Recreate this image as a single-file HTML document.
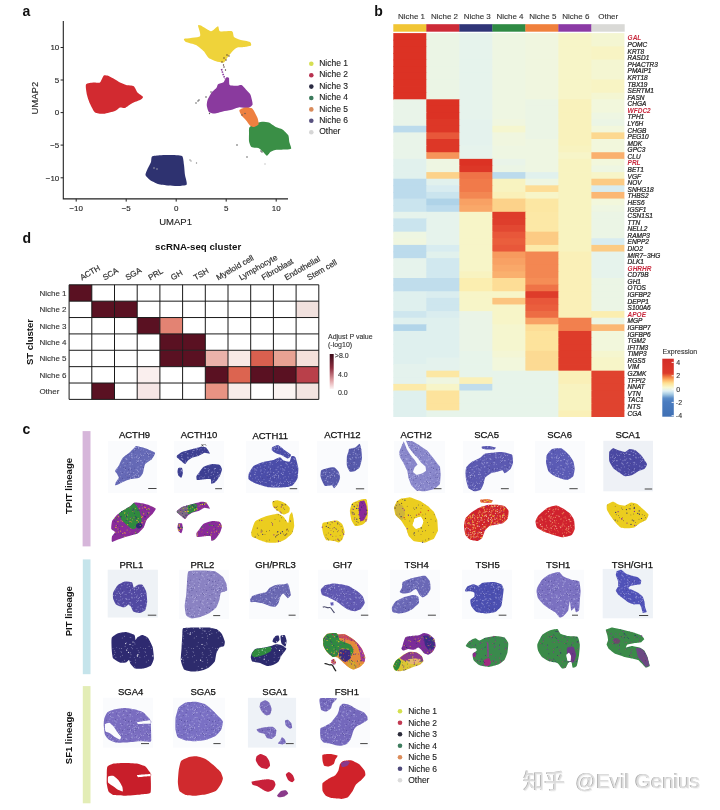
<!DOCTYPE html>
<html><head><meta charset="utf-8"><title>Figure</title>
<style>
html,body{margin:0;padding:0;background:#fff;}
#fig{position:relative;width:720px;height:810px;overflow:hidden;background:#fff;}
svg{position:absolute;left:0;top:0;}
svg text{font-family:'Liberation Sans', Arial, sans-serif;}
</style></head><body>
<div id="fig">
<svg width="720" height="810" viewBox="0 0 720 810">
<text x="22.5" y="15.5" font-size="14" fill="#111" stroke="#111" stroke-width="0.0" text-anchor="start" font-weight="bold" font-style="normal" >a</text>
<path d="M86.0,84.4 C86.7,83.2 92.3,82.7 93.8,82.5 C95.2,82.3 99.0,83.2 100.0,82.5 C101.0,81.8 103.0,76.3 103.8,75.6 C104.5,74.9 106.5,75.3 107.5,75.6 C108.5,75.9 112.5,78.1 113.8,78.8 C115.0,79.4 118.8,81.9 120.0,82.5 C121.2,83.1 124.9,84.6 126.2,85.0 C127.6,85.4 132.6,85.5 133.8,86.2 C134.9,87.0 136.6,91.4 137.5,92.5 C138.4,93.6 142.8,96.2 143.0,96.9 C143.2,97.7 141.1,99.4 140.0,100.0 C138.9,100.6 134.0,102.2 132.5,103.0 C131.0,103.8 126.2,107.5 125.0,108.0 C123.8,108.5 121.0,107.2 120.0,107.5 C119.0,107.8 116.6,110.4 115.0,111.0 C113.4,111.6 105.8,113.6 103.8,113.8 C101.8,113.9 96.4,113.5 95.0,112.5 C93.6,111.5 90.8,105.5 90.0,103.8 C89.2,102.0 87.4,96.9 87.0,95.0 C86.6,93.1 85.3,85.7 86.0,84.4Z" fill="#d22a30"/>
<path d="M152.0,156.5 C152.9,155.8 158.2,155.3 160.0,155.2 C161.8,155.0 167.8,154.9 170.0,155.0 C172.2,155.1 180.6,155.0 182.0,156.0 C183.4,157.0 183.7,163.1 184.0,165.0 C184.3,166.9 184.7,173.1 185.0,175.0 C185.3,176.9 187.4,183.4 186.7,184.5 C186.0,185.6 179.9,185.9 178.0,186.0 C176.1,186.1 170.0,185.7 168.0,185.5 C166.0,185.3 159.8,184.6 158.0,184.0 C156.2,183.4 151.2,180.9 150.0,180.0 C148.8,179.1 145.7,176.2 145.5,175.0 C145.3,173.8 147.4,169.3 148.0,168.0 C148.6,166.7 150.6,163.2 151.0,162.0 C151.4,160.8 151.1,157.2 152.0,156.5Z" fill="#2e3270"/>
<path d="M184.4,38.8 C185.8,38.2 198.6,37.6 200.0,36.2 C201.4,34.9 197.9,26.7 198.0,25.6 C198.1,24.5 199.7,25.0 201.0,25.6 C202.3,26.2 209.3,31.2 211.0,31.2 C212.7,31.3 217.1,26.2 218.0,26.2 C218.9,26.2 218.6,30.8 220.0,31.2 C221.4,31.8 230.6,30.7 232.0,31.2 C233.4,31.8 233.2,36.1 234.0,37.0 C234.8,37.9 238.4,39.3 240.0,39.8 C241.6,40.3 248.9,41.4 250.0,42.0 C251.1,42.6 251.5,45.1 251.0,45.6 C250.5,46.1 246.3,46.8 245.0,47.0 C243.7,47.2 238.8,47.1 237.5,47.5 C236.2,47.9 233.5,50.2 232.5,51.2 C231.5,52.2 228.4,56.4 227.5,57.5 C226.6,58.6 224.9,62.1 223.8,62.5 C222.6,62.9 217.5,61.7 216.0,61.2 C214.5,60.8 210.0,59.0 208.8,58.0 C207.5,57.0 205.0,52.5 203.8,51.2 C202.5,50.0 197.8,45.9 196.0,45.0 C194.2,44.1 187.2,42.6 186.0,42.0 C184.8,41.4 183.0,39.3 184.4,38.8Z" fill="#efd33a"/>
<path d="M207.5,100.3 C208.0,99.0 210.8,93.8 211.7,92.6 C212.6,91.3 215.9,88.6 216.5,87.8 C217.1,87.0 217.3,84.9 218.0,84.3 C218.7,83.7 222.7,82.9 223.5,82.2 C224.3,81.5 225.7,77.8 226.2,77.4 C226.8,77.0 228.7,77.2 229.0,78.0 C229.3,78.8 228.9,84.2 229.7,85.0 C230.5,85.8 235.5,85.7 236.7,85.7 C237.9,85.7 240.5,84.6 241.5,85.0 C242.5,85.4 245.5,88.9 246.4,89.9 C247.3,90.9 249.9,93.2 250.5,94.7 C251.1,96.2 252.9,103.1 252.6,104.4 C252.3,105.7 249.1,107.7 247.8,108.0 C246.5,108.3 241.1,107.0 239.4,107.2 C237.7,107.4 232.7,109.6 231.0,110.0 C229.3,110.4 224.5,111.1 222.8,111.4 C221.1,111.8 215.8,113.4 214.4,113.5 C213.0,113.6 209.7,112.8 208.9,112.0 C208.1,111.2 206.9,107.0 206.8,105.8 C206.7,104.6 207.0,101.6 207.5,100.3Z" fill="#8a3a9e"/>
<path d="M249.4,127.5 C250.0,126.5 254.0,124.2 255.3,123.6 C256.6,123.0 260.6,121.8 262.0,121.7 C263.4,121.6 267.5,122.1 268.9,122.6 C270.3,123.1 274.3,126.3 275.7,127.0 C277.1,127.7 281.2,128.6 282.5,129.4 C283.8,130.2 287.6,134.0 288.3,135.3 C289.0,136.6 289.0,140.7 289.3,142.0 C289.6,143.3 291.5,147.7 291.2,148.4 C290.9,149.1 287.9,149.3 286.4,149.4 C284.9,149.5 278.2,149.6 276.6,149.8 C275.0,150.0 271.8,151.2 270.8,151.8 C269.8,152.4 267.7,155.7 266.9,155.7 C266.1,155.7 263.8,152.5 263.0,151.8 C262.2,151.1 260.4,148.9 259.2,148.4 C258.0,147.9 252.4,147.7 251.4,147.0 C250.4,146.3 249.2,142.5 249.0,141.1 C248.8,139.7 249.0,134.7 249.0,133.3 C249.0,131.9 248.8,128.5 249.4,127.5Z" fill="#3a8f46"/>
<path d="M239.4,110.2 C239.8,109.4 243.7,107.8 245.0,107.6 C246.3,107.4 251.0,107.7 252.0,108.3 C253.0,108.9 254.6,112.2 255.2,113.2 C255.8,114.2 257.5,117.6 257.8,118.7 C258.1,119.8 258.9,123.7 258.5,124.5 C258.1,125.3 254.9,126.9 254.0,127.0 C253.1,127.1 250.7,126.0 249.9,125.4 C249.1,124.8 247.2,121.7 246.4,120.7 C245.6,119.7 242.2,116.6 241.5,115.6 C240.8,114.5 239.1,111.0 239.4,110.2Z" fill="#ee8040"/>
<path d="M221.5,69 L223,74 L225,79" stroke="#8a3a9e" stroke-width="1.6" fill="none" stroke-dasharray="1.5,1"/>
<circle cx="224" cy="58" r="0.7" fill="#4a3030"/>
<circle cx="226" cy="60" r="0.7" fill="#4a3030"/>
<circle cx="227" cy="55" r="0.7" fill="#4a3030"/>
<circle cx="229" cy="56" r="0.7" fill="#4a3030"/>
<circle cx="222" cy="62" r="0.7" fill="#4a3030"/>
<circle cx="223.5" cy="65" r="0.7" fill="#4a3030"/>
<circle cx="224" cy="67" r="0.7" fill="#4a3030"/>
<circle cx="225.5" cy="70" r="0.7" fill="#4a3030"/>
<circle cx="211" cy="92" r="0.7" fill="#444"/>
<circle cx="206" cy="97" r="0.7" fill="#333"/>
<circle cx="199" cy="100" r="0.7" fill="#444"/>
<circle cx="198" cy="101" r="0.7" fill="#444"/>
<circle cx="196" cy="103" r="0.7" fill="#444"/>
<circle cx="247" cy="157" r="0.7" fill="#444"/>
<circle cx="237" cy="145" r="0.7" fill="#333"/>
<circle cx="261" cy="151" r="0.7" fill="#333"/>
<circle cx="262" cy="152" r="0.7" fill="#444"/>
<circle cx="209.5" cy="113.5" r="0.7" fill="#555"/>
<circle cx="154" cy="168" r="0.7" fill="#bbb"/>
<circle cx="157" cy="169" r="0.7" fill="#bbb"/>
<circle cx="190" cy="160" r="0.7" fill="#888"/>
<circle cx="191" cy="161" r="0.7" fill="#999"/>
<circle cx="196.5" cy="163" r="0.7" fill="#888"/>
<circle cx="265" cy="164" r="0.7" fill="#bbb"/>
<circle cx="245" cy="113.5" r="0.7" fill="#555"/>
<circle cx="242" cy="115" r="0.7" fill="#555"/>
<path d="M63.3,21 V198.9 H288" stroke="#222" stroke-width="1.1" fill="none"/>
<line x1="60.6" y1="47.5" x2="63.3" y2="47.5" stroke="#222" stroke-width="1"/>
<text x="59.3" y="50.3" font-size="8" fill="#222" stroke="#222" stroke-width="0.12" text-anchor="end" font-weight="normal" font-style="normal" >10</text>
<line x1="60.6" y1="80.0" x2="63.3" y2="80.0" stroke="#222" stroke-width="1"/>
<text x="59.3" y="82.8" font-size="8" fill="#222" stroke="#222" stroke-width="0.12" text-anchor="end" font-weight="normal" font-style="normal" >5</text>
<line x1="60.6" y1="112.6" x2="63.3" y2="112.6" stroke="#222" stroke-width="1"/>
<text x="59.3" y="115.4" font-size="8" fill="#222" stroke="#222" stroke-width="0.12" text-anchor="end" font-weight="normal" font-style="normal" >0</text>
<line x1="60.6" y1="145.1" x2="63.3" y2="145.1" stroke="#222" stroke-width="1"/>
<text x="59.3" y="147.9" font-size="8" fill="#222" stroke="#222" stroke-width="0.12" text-anchor="end" font-weight="normal" font-style="normal" >−5</text>
<line x1="60.6" y1="177.8" x2="63.3" y2="177.8" stroke="#222" stroke-width="1"/>
<text x="59.3" y="180.6" font-size="8" fill="#222" stroke="#222" stroke-width="0.12" text-anchor="end" font-weight="normal" font-style="normal" >−10</text>
<line x1="76.2" y1="198.9" x2="76.2" y2="201.6" stroke="#222" stroke-width="1"/>
<text x="76.2" y="211.0" font-size="8" fill="#222" stroke="#222" stroke-width="0.12" text-anchor="middle" font-weight="normal" font-style="normal" >−10</text>
<line x1="126.2" y1="198.9" x2="126.2" y2="201.6" stroke="#222" stroke-width="1"/>
<text x="126.2" y="211.0" font-size="8" fill="#222" stroke="#222" stroke-width="0.12" text-anchor="middle" font-weight="normal" font-style="normal" >−5</text>
<line x1="176.2" y1="198.9" x2="176.2" y2="201.6" stroke="#222" stroke-width="1"/>
<text x="176.2" y="211.0" font-size="8" fill="#222" stroke="#222" stroke-width="0.12" text-anchor="middle" font-weight="normal" font-style="normal" >0</text>
<line x1="226.2" y1="198.9" x2="226.2" y2="201.6" stroke="#222" stroke-width="1"/>
<text x="226.2" y="211.0" font-size="8" fill="#222" stroke="#222" stroke-width="0.12" text-anchor="middle" font-weight="normal" font-style="normal" >5</text>
<line x1="276.2" y1="198.9" x2="276.2" y2="201.6" stroke="#222" stroke-width="1"/>
<text x="276.2" y="211.0" font-size="8" fill="#222" stroke="#222" stroke-width="0.12" text-anchor="middle" font-weight="normal" font-style="normal" >10</text>
<text x="175.6" y="224.8" font-size="9.5" fill="#222" stroke="#222" stroke-width="0.12" text-anchor="middle" font-weight="normal" font-style="normal" >UMAP1</text>
<text x="0.0" y="0.0" font-size="9.5" fill="#222" stroke="#222" stroke-width="0.12" text-anchor="middle" font-weight="normal" font-style="normal" transform="translate(38.4,98.2) rotate(-90)">UMAP2</text>
<circle cx="311.3" cy="63.8" r="2.3" fill="#d6df52"/>
<text x="319.2" y="65.9" font-size="8.5" fill="#222" stroke="#222" stroke-width="0.12" text-anchor="start" font-weight="normal" font-style="normal" >Niche 1</text>
<circle cx="311.3" cy="75.2" r="2.3" fill="#b83250"/>
<text x="319.2" y="77.3" font-size="8.5" fill="#222" stroke="#222" stroke-width="0.12" text-anchor="start" font-weight="normal" font-style="normal" >Niche 2</text>
<circle cx="311.3" cy="86.6" r="2.3" fill="#2a2a42"/>
<text x="319.2" y="88.7" font-size="8.5" fill="#222" stroke="#222" stroke-width="0.12" text-anchor="start" font-weight="normal" font-style="normal" >Niche 3</text>
<circle cx="311.3" cy="98.0" r="2.3" fill="#3b7a5c"/>
<text x="319.2" y="100.1" font-size="8.5" fill="#222" stroke="#222" stroke-width="0.12" text-anchor="start" font-weight="normal" font-style="normal" >Niche 4</text>
<circle cx="311.3" cy="109.4" r="2.3" fill="#d98b5b"/>
<text x="319.2" y="111.5" font-size="8.5" fill="#222" stroke="#222" stroke-width="0.12" text-anchor="start" font-weight="normal" font-style="normal" >Niche 5</text>
<circle cx="311.3" cy="120.8" r="2.3" fill="#58517f"/>
<text x="319.2" y="122.9" font-size="8.5" fill="#222" stroke="#222" stroke-width="0.12" text-anchor="start" font-weight="normal" font-style="normal" >Niche 6</text>
<circle cx="311.3" cy="132.2" r="2.3" fill="#d6d6d6"/>
<text x="319.2" y="134.3" font-size="8.5" fill="#222" stroke="#222" stroke-width="0.12" text-anchor="start" font-weight="normal" font-style="normal" >Other</text>
<text x="374.2" y="15.8" font-size="14" fill="#111" stroke="#111" stroke-width="0.0" text-anchor="start" font-weight="bold" font-style="normal" >b</text>
<text x="411.5" y="18.8" font-size="8" fill="#333" stroke="#333" stroke-width="0.12" text-anchor="middle" font-weight="normal" font-style="normal" >Niche 1</text>
<text x="444.5" y="18.8" font-size="8" fill="#333" stroke="#333" stroke-width="0.12" text-anchor="middle" font-weight="normal" font-style="normal" >Niche 2</text>
<text x="477.2" y="18.8" font-size="8" fill="#333" stroke="#333" stroke-width="0.12" text-anchor="middle" font-weight="normal" font-style="normal" >Niche 3</text>
<text x="510.0" y="18.8" font-size="8" fill="#333" stroke="#333" stroke-width="0.12" text-anchor="middle" font-weight="normal" font-style="normal" >Niche 4</text>
<text x="542.8" y="18.8" font-size="8" fill="#333" stroke="#333" stroke-width="0.12" text-anchor="middle" font-weight="normal" font-style="normal" >Niche 5</text>
<text x="575.8" y="18.8" font-size="8" fill="#333" stroke="#333" stroke-width="0.12" text-anchor="middle" font-weight="normal" font-style="normal" >Niche 6</text>
<text x="608.2" y="18.8" font-size="8" fill="#333" stroke="#333" stroke-width="0.12" text-anchor="middle" font-weight="normal" font-style="normal" >Other</text>
<rect x="393.30" y="24.2" width="33.31" height="7.5" fill="#f1c534"/>
<rect x="426.31" y="24.2" width="33.31" height="7.5" fill="#cd2b37"/>
<rect x="459.33" y="24.2" width="33.31" height="7.5" fill="#2f3477"/>
<rect x="492.34" y="24.2" width="33.31" height="7.5" fill="#2f8a44"/>
<rect x="525.36" y="24.2" width="33.31" height="7.5" fill="#f0803c"/>
<rect x="558.37" y="24.2" width="33.31" height="7.5" fill="#8b3aa5"/>
<rect x="591.39" y="24.2" width="33.31" height="7.5" fill="#d9d9d6"/>
<rect x="393.30" y="33.10" width="33.81" height="7.42" fill="#dc3224"/>
<rect x="426.31" y="33.10" width="33.81" height="7.42" fill="#ebf5e5"/>
<rect x="459.33" y="33.10" width="33.81" height="7.42" fill="#e6f3ec"/>
<rect x="492.34" y="33.10" width="33.81" height="7.42" fill="#eef6e2"/>
<rect x="525.36" y="33.10" width="33.81" height="7.42" fill="#f0f6df"/>
<rect x="558.37" y="33.10" width="33.81" height="7.42" fill="#f7f5c8"/>
<rect x="591.39" y="33.10" width="33.01" height="7.42" fill="#f4f6d2"/>
<rect x="393.30" y="39.72" width="33.81" height="7.42" fill="#dc3224"/>
<rect x="426.31" y="39.72" width="33.81" height="7.42" fill="#ebf5e5"/>
<rect x="459.33" y="39.72" width="33.81" height="7.42" fill="#e6f3ec"/>
<rect x="492.34" y="39.72" width="33.81" height="7.42" fill="#eef6e2"/>
<rect x="525.36" y="39.72" width="33.81" height="7.42" fill="#f0f6df"/>
<rect x="558.37" y="39.72" width="33.81" height="7.42" fill="#f7f5c8"/>
<rect x="591.39" y="39.72" width="33.01" height="7.42" fill="#f4f6d2"/>
<rect x="393.30" y="46.34" width="33.81" height="7.42" fill="#dc3224"/>
<rect x="426.31" y="46.34" width="33.81" height="7.42" fill="#ebf5e5"/>
<rect x="459.33" y="46.34" width="33.81" height="7.42" fill="#e6f3ec"/>
<rect x="492.34" y="46.34" width="33.81" height="7.42" fill="#eef6e2"/>
<rect x="525.36" y="46.34" width="33.81" height="7.42" fill="#f0f6df"/>
<rect x="558.37" y="46.34" width="33.81" height="7.42" fill="#f7f5c8"/>
<rect x="591.39" y="46.34" width="33.01" height="7.42" fill="#f8f4c4"/>
<rect x="393.30" y="52.96" width="33.81" height="7.42" fill="#dc3224"/>
<rect x="426.31" y="52.96" width="33.81" height="7.42" fill="#ebf5e5"/>
<rect x="459.33" y="52.96" width="33.81" height="7.42" fill="#e6f3ec"/>
<rect x="492.34" y="52.96" width="33.81" height="7.42" fill="#eef6e2"/>
<rect x="525.36" y="52.96" width="33.81" height="7.42" fill="#f0f6df"/>
<rect x="558.37" y="52.96" width="33.81" height="7.42" fill="#f7f5c8"/>
<rect x="591.39" y="52.96" width="33.01" height="7.42" fill="#f8f4c4"/>
<rect x="393.30" y="59.58" width="33.81" height="7.42" fill="#dc3224"/>
<rect x="426.31" y="59.58" width="33.81" height="7.42" fill="#ebf5e5"/>
<rect x="459.33" y="59.58" width="33.81" height="7.42" fill="#e6f3ec"/>
<rect x="492.34" y="59.58" width="33.81" height="7.42" fill="#eef6e2"/>
<rect x="525.36" y="59.58" width="33.81" height="7.42" fill="#f0f6df"/>
<rect x="558.37" y="59.58" width="33.81" height="7.42" fill="#f7f5c8"/>
<rect x="591.39" y="59.58" width="33.01" height="7.42" fill="#f4f6d2"/>
<rect x="393.30" y="66.19" width="33.81" height="7.42" fill="#dc3224"/>
<rect x="426.31" y="66.19" width="33.81" height="7.42" fill="#ebf5e5"/>
<rect x="459.33" y="66.19" width="33.81" height="7.42" fill="#e6f3ec"/>
<rect x="492.34" y="66.19" width="33.81" height="7.42" fill="#eef6e2"/>
<rect x="525.36" y="66.19" width="33.81" height="7.42" fill="#f0f6df"/>
<rect x="558.37" y="66.19" width="33.81" height="7.42" fill="#f7f5c8"/>
<rect x="591.39" y="66.19" width="33.01" height="7.42" fill="#f4f6d2"/>
<rect x="393.30" y="72.81" width="33.81" height="7.42" fill="#dc3224"/>
<rect x="426.31" y="72.81" width="33.81" height="7.42" fill="#ebf5e5"/>
<rect x="459.33" y="72.81" width="33.81" height="7.42" fill="#e6f3ec"/>
<rect x="492.34" y="72.81" width="33.81" height="7.42" fill="#eef6e2"/>
<rect x="525.36" y="72.81" width="33.81" height="7.42" fill="#f0f6df"/>
<rect x="558.37" y="72.81" width="33.81" height="7.42" fill="#f7f5c8"/>
<rect x="591.39" y="72.81" width="33.01" height="7.42" fill="#f4f6d2"/>
<rect x="393.30" y="79.43" width="33.81" height="7.42" fill="#dc3224"/>
<rect x="426.31" y="79.43" width="33.81" height="7.42" fill="#ebf5e5"/>
<rect x="459.33" y="79.43" width="33.81" height="7.42" fill="#e6f3ec"/>
<rect x="492.34" y="79.43" width="33.81" height="7.42" fill="#eef6e2"/>
<rect x="525.36" y="79.43" width="33.81" height="7.42" fill="#f0f6df"/>
<rect x="558.37" y="79.43" width="33.81" height="7.42" fill="#f7f5c8"/>
<rect x="591.39" y="79.43" width="33.01" height="7.42" fill="#f8f4c4"/>
<rect x="393.30" y="86.05" width="33.81" height="7.42" fill="#dc3224"/>
<rect x="426.31" y="86.05" width="33.81" height="7.42" fill="#ebf5e5"/>
<rect x="459.33" y="86.05" width="33.81" height="7.42" fill="#e6f3ec"/>
<rect x="492.34" y="86.05" width="33.81" height="7.42" fill="#eef6e2"/>
<rect x="525.36" y="86.05" width="33.81" height="7.42" fill="#f0f6df"/>
<rect x="558.37" y="86.05" width="33.81" height="7.42" fill="#f7f5c8"/>
<rect x="591.39" y="86.05" width="33.01" height="7.42" fill="#f8f4c4"/>
<rect x="393.30" y="92.67" width="33.81" height="7.42" fill="#dc3224"/>
<rect x="426.31" y="92.67" width="33.81" height="7.42" fill="#ebf5e5"/>
<rect x="459.33" y="92.67" width="33.81" height="7.42" fill="#e6f3ec"/>
<rect x="492.34" y="92.67" width="33.81" height="7.42" fill="#eef6e2"/>
<rect x="525.36" y="92.67" width="33.81" height="7.42" fill="#f0f6df"/>
<rect x="558.37" y="92.67" width="33.81" height="7.42" fill="#f7f5c8"/>
<rect x="591.39" y="92.67" width="33.01" height="7.42" fill="#f4f6d2"/>
<rect x="393.30" y="99.29" width="33.81" height="7.42" fill="#e9f4e9"/>
<rect x="426.31" y="99.29" width="33.81" height="7.42" fill="#dc3224"/>
<rect x="459.33" y="99.29" width="33.81" height="7.42" fill="#e6f3ec"/>
<rect x="492.34" y="99.29" width="33.81" height="7.42" fill="#eef6e2"/>
<rect x="525.36" y="99.29" width="33.81" height="7.42" fill="#ebf5e5"/>
<rect x="558.37" y="99.29" width="33.81" height="7.42" fill="#f9f2bc"/>
<rect x="591.39" y="99.29" width="33.01" height="7.42" fill="#f2f7dc"/>
<rect x="393.30" y="105.91" width="33.81" height="7.42" fill="#e9f4e9"/>
<rect x="426.31" y="105.91" width="33.81" height="7.42" fill="#dc3224"/>
<rect x="459.33" y="105.91" width="33.81" height="7.42" fill="#e6f3ec"/>
<rect x="492.34" y="105.91" width="33.81" height="7.42" fill="#eef6e2"/>
<rect x="525.36" y="105.91" width="33.81" height="7.42" fill="#ebf5e5"/>
<rect x="558.37" y="105.91" width="33.81" height="7.42" fill="#f9f2bc"/>
<rect x="591.39" y="105.91" width="33.01" height="7.42" fill="#f2f7dc"/>
<rect x="393.30" y="112.53" width="33.81" height="7.42" fill="#e9f4e9"/>
<rect x="426.31" y="112.53" width="33.81" height="7.42" fill="#dc3224"/>
<rect x="459.33" y="112.53" width="33.81" height="7.42" fill="#e6f3ec"/>
<rect x="492.34" y="112.53" width="33.81" height="7.42" fill="#eef6e2"/>
<rect x="525.36" y="112.53" width="33.81" height="7.42" fill="#ebf5e5"/>
<rect x="558.37" y="112.53" width="33.81" height="7.42" fill="#f9f2bc"/>
<rect x="591.39" y="112.53" width="33.01" height="7.42" fill="#eef6e2"/>
<rect x="393.30" y="119.15" width="33.81" height="7.42" fill="#e9f4e9"/>
<rect x="426.31" y="119.15" width="33.81" height="7.42" fill="#dd3727"/>
<rect x="459.33" y="119.15" width="33.81" height="7.42" fill="#e4f2ed"/>
<rect x="492.34" y="119.15" width="33.81" height="7.42" fill="#f0f6df"/>
<rect x="525.36" y="119.15" width="33.81" height="7.42" fill="#ebf5e5"/>
<rect x="558.37" y="119.15" width="33.81" height="7.42" fill="#f9f2bc"/>
<rect x="591.39" y="119.15" width="33.01" height="7.42" fill="#ebf5e5"/>
<rect x="393.30" y="125.77" width="33.81" height="7.42" fill="#bcdbec"/>
<rect x="426.31" y="125.77" width="33.81" height="7.42" fill="#dd3727"/>
<rect x="459.33" y="125.77" width="33.81" height="7.42" fill="#e4f2ed"/>
<rect x="492.34" y="125.77" width="33.81" height="7.42" fill="#f5f6cf"/>
<rect x="525.36" y="125.77" width="33.81" height="7.42" fill="#ebf5e5"/>
<rect x="558.37" y="125.77" width="33.81" height="7.42" fill="#f9f2bc"/>
<rect x="591.39" y="125.77" width="33.01" height="7.42" fill="#f2f7dc"/>
<rect x="393.30" y="132.38" width="33.81" height="7.42" fill="#e9f4e9"/>
<rect x="426.31" y="132.38" width="33.81" height="7.42" fill="#e8573a"/>
<rect x="459.33" y="132.38" width="33.81" height="7.42" fill="#e4f2ed"/>
<rect x="492.34" y="132.38" width="33.81" height="7.42" fill="#f0f6df"/>
<rect x="525.36" y="132.38" width="33.81" height="7.42" fill="#ebf5e5"/>
<rect x="558.37" y="132.38" width="33.81" height="7.42" fill="#f9f2bc"/>
<rect x="591.39" y="132.38" width="33.01" height="7.42" fill="#fcd890"/>
<rect x="393.30" y="139.00" width="33.81" height="7.42" fill="#e9f4e9"/>
<rect x="426.31" y="139.00" width="33.81" height="7.42" fill="#dd3727"/>
<rect x="459.33" y="139.00" width="33.81" height="7.42" fill="#e4f2ed"/>
<rect x="492.34" y="139.00" width="33.81" height="7.42" fill="#f0f6df"/>
<rect x="525.36" y="139.00" width="33.81" height="7.42" fill="#eef6e2"/>
<rect x="558.37" y="139.00" width="33.81" height="7.42" fill="#f9f2bc"/>
<rect x="591.39" y="139.00" width="33.01" height="7.42" fill="#f2f7dc"/>
<rect x="393.30" y="145.62" width="33.81" height="7.42" fill="#e9f4e9"/>
<rect x="426.31" y="145.62" width="33.81" height="7.42" fill="#dd3727"/>
<rect x="459.33" y="145.62" width="33.81" height="7.42" fill="#e6f3ec"/>
<rect x="492.34" y="145.62" width="33.81" height="7.42" fill="#eef6e2"/>
<rect x="525.36" y="145.62" width="33.81" height="7.42" fill="#eef6e2"/>
<rect x="558.37" y="145.62" width="33.81" height="7.42" fill="#f8f3c0"/>
<rect x="591.39" y="145.62" width="33.01" height="7.42" fill="#f2f7dc"/>
<rect x="393.30" y="152.24" width="33.81" height="7.42" fill="#e9f4e9"/>
<rect x="426.31" y="152.24" width="33.81" height="7.42" fill="#f6945a"/>
<rect x="459.33" y="152.24" width="33.81" height="7.42" fill="#e6f3ec"/>
<rect x="492.34" y="152.24" width="33.81" height="7.42" fill="#eef6e2"/>
<rect x="525.36" y="152.24" width="33.81" height="7.42" fill="#eef6e2"/>
<rect x="558.37" y="152.24" width="33.81" height="7.42" fill="#f7f5c8"/>
<rect x="591.39" y="152.24" width="33.01" height="7.42" fill="#fab06e"/>
<rect x="393.30" y="158.86" width="33.81" height="7.42" fill="#e1f1ed"/>
<rect x="426.31" y="158.86" width="33.81" height="7.42" fill="#eef6e2"/>
<rect x="459.33" y="158.86" width="33.81" height="7.42" fill="#dc3224"/>
<rect x="492.34" y="158.86" width="33.81" height="7.42" fill="#e9f4e9"/>
<rect x="525.36" y="158.86" width="33.81" height="7.42" fill="#eef6e2"/>
<rect x="558.37" y="158.86" width="33.81" height="7.42" fill="#f8f3c0"/>
<rect x="591.39" y="158.86" width="33.01" height="7.42" fill="#f2f7dc"/>
<rect x="393.30" y="165.48" width="33.81" height="7.42" fill="#e1f1ed"/>
<rect x="426.31" y="165.48" width="33.81" height="7.42" fill="#eef6e2"/>
<rect x="459.33" y="165.48" width="33.81" height="7.42" fill="#dd3727"/>
<rect x="492.34" y="165.48" width="33.81" height="7.42" fill="#ebf5e5"/>
<rect x="525.36" y="165.48" width="33.81" height="7.42" fill="#eef6e2"/>
<rect x="558.37" y="165.48" width="33.81" height="7.42" fill="#f8f3c0"/>
<rect x="591.39" y="165.48" width="33.01" height="7.42" fill="#eef6e2"/>
<rect x="393.30" y="172.10" width="33.81" height="7.42" fill="#e1f1ed"/>
<rect x="426.31" y="172.10" width="33.81" height="7.42" fill="#fcd28a"/>
<rect x="459.33" y="172.10" width="33.81" height="7.42" fill="#ef7347"/>
<rect x="492.34" y="172.10" width="33.81" height="7.42" fill="#bcdbec"/>
<rect x="525.36" y="172.10" width="33.81" height="7.42" fill="#e1f1ed"/>
<rect x="558.37" y="172.10" width="33.81" height="7.42" fill="#f8f3c0"/>
<rect x="591.39" y="172.10" width="33.01" height="7.42" fill="#f7f5c8"/>
<rect x="393.30" y="178.72" width="33.81" height="7.42" fill="#bcdbec"/>
<rect x="426.31" y="178.72" width="33.81" height="7.42" fill="#e1f1ed"/>
<rect x="459.33" y="178.72" width="33.81" height="7.42" fill="#f17a4a"/>
<rect x="492.34" y="178.72" width="33.81" height="7.42" fill="#f8f3c0"/>
<rect x="525.36" y="178.72" width="33.81" height="7.42" fill="#eef6e2"/>
<rect x="558.37" y="178.72" width="33.81" height="7.42" fill="#f8f3c0"/>
<rect x="591.39" y="178.72" width="33.01" height="7.42" fill="#fccb84"/>
<rect x="393.30" y="185.34" width="33.81" height="7.42" fill="#bcdbec"/>
<rect x="426.31" y="185.34" width="33.81" height="7.42" fill="#d8ecf0"/>
<rect x="459.33" y="185.34" width="33.81" height="7.42" fill="#f17a4a"/>
<rect x="492.34" y="185.34" width="33.81" height="7.42" fill="#f8f3c0"/>
<rect x="525.36" y="185.34" width="33.81" height="7.42" fill="#fddd96"/>
<rect x="558.37" y="185.34" width="33.81" height="7.42" fill="#f8f3c0"/>
<rect x="591.39" y="185.34" width="33.01" height="7.42" fill="#d8ecf0"/>
<rect x="393.30" y="191.96" width="33.81" height="7.42" fill="#bcdbec"/>
<rect x="426.31" y="191.96" width="33.81" height="7.42" fill="#cae4ee"/>
<rect x="459.33" y="191.96" width="33.81" height="7.42" fill="#f38752"/>
<rect x="492.34" y="191.96" width="33.81" height="7.42" fill="#faf0b8"/>
<rect x="525.36" y="191.96" width="33.81" height="7.42" fill="#f7f5c8"/>
<rect x="558.37" y="191.96" width="33.81" height="7.42" fill="#f8f3c0"/>
<rect x="591.39" y="191.96" width="33.01" height="7.42" fill="#fbb774"/>
<rect x="393.30" y="198.57" width="33.81" height="7.42" fill="#cae4ee"/>
<rect x="426.31" y="198.57" width="33.81" height="7.42" fill="#afd3e8"/>
<rect x="459.33" y="198.57" width="33.81" height="7.42" fill="#f8a164"/>
<rect x="492.34" y="198.57" width="33.81" height="7.42" fill="#fcd28a"/>
<rect x="525.36" y="198.57" width="33.81" height="7.42" fill="#fce7a3"/>
<rect x="558.37" y="198.57" width="33.81" height="7.42" fill="#f8f3c0"/>
<rect x="591.39" y="198.57" width="33.01" height="7.42" fill="#f2f7dc"/>
<rect x="393.30" y="205.19" width="33.81" height="7.42" fill="#cae4ee"/>
<rect x="426.31" y="205.19" width="33.81" height="7.42" fill="#bcdbec"/>
<rect x="459.33" y="205.19" width="33.81" height="7.42" fill="#f9a869"/>
<rect x="492.34" y="205.19" width="33.81" height="7.42" fill="#fcd28a"/>
<rect x="525.36" y="205.19" width="33.81" height="7.42" fill="#fce7a3"/>
<rect x="558.37" y="205.19" width="33.81" height="7.42" fill="#f8f3c0"/>
<rect x="591.39" y="205.19" width="33.01" height="7.42" fill="#eef6e2"/>
<rect x="393.30" y="211.81" width="33.81" height="7.42" fill="#e6f3ec"/>
<rect x="426.31" y="211.81" width="33.81" height="7.42" fill="#e6f3ec"/>
<rect x="459.33" y="211.81" width="33.81" height="7.42" fill="#f7f5c8"/>
<rect x="492.34" y="211.81" width="33.81" height="7.42" fill="#de3c2a"/>
<rect x="525.36" y="211.81" width="33.81" height="7.42" fill="#fce8a6"/>
<rect x="558.37" y="211.81" width="33.81" height="7.42" fill="#f8f3c0"/>
<rect x="591.39" y="211.81" width="33.01" height="7.42" fill="#ebf5e5"/>
<rect x="393.30" y="218.43" width="33.81" height="7.42" fill="#cae4ee"/>
<rect x="426.31" y="218.43" width="33.81" height="7.42" fill="#e6f3ec"/>
<rect x="459.33" y="218.43" width="33.81" height="7.42" fill="#f7f5c8"/>
<rect x="492.34" y="218.43" width="33.81" height="7.42" fill="#de3e2c"/>
<rect x="525.36" y="218.43" width="33.81" height="7.42" fill="#fce8a6"/>
<rect x="558.37" y="218.43" width="33.81" height="7.42" fill="#f8f3c0"/>
<rect x="591.39" y="218.43" width="33.01" height="7.42" fill="#ebf5e5"/>
<rect x="393.30" y="225.05" width="33.81" height="7.42" fill="#cae4ee"/>
<rect x="426.31" y="225.05" width="33.81" height="7.42" fill="#e6f3ec"/>
<rect x="459.33" y="225.05" width="33.81" height="7.42" fill="#f7f5c8"/>
<rect x="492.34" y="225.05" width="33.81" height="7.42" fill="#e24832"/>
<rect x="525.36" y="225.05" width="33.81" height="7.42" fill="#fce8a6"/>
<rect x="558.37" y="225.05" width="33.81" height="7.42" fill="#f8f3c0"/>
<rect x="591.39" y="225.05" width="33.01" height="7.42" fill="#ebf5e5"/>
<rect x="393.30" y="231.67" width="33.81" height="7.42" fill="#eef6e2"/>
<rect x="426.31" y="231.67" width="33.81" height="7.42" fill="#e6f3ec"/>
<rect x="459.33" y="231.67" width="33.81" height="7.42" fill="#f7f5c8"/>
<rect x="492.34" y="231.67" width="33.81" height="7.42" fill="#e8573a"/>
<rect x="525.36" y="231.67" width="33.81" height="7.42" fill="#fccb84"/>
<rect x="558.37" y="231.67" width="33.81" height="7.42" fill="#f8f3c0"/>
<rect x="591.39" y="231.67" width="33.01" height="7.42" fill="#ebf5e5"/>
<rect x="393.30" y="238.29" width="33.81" height="7.42" fill="#f0f6df"/>
<rect x="426.31" y="238.29" width="33.81" height="7.42" fill="#e6f3ec"/>
<rect x="459.33" y="238.29" width="33.81" height="7.42" fill="#f7f5c8"/>
<rect x="492.34" y="238.29" width="33.81" height="7.42" fill="#ea5e3d"/>
<rect x="525.36" y="238.29" width="33.81" height="7.42" fill="#fccb84"/>
<rect x="558.37" y="238.29" width="33.81" height="7.42" fill="#f8f3c0"/>
<rect x="591.39" y="238.29" width="33.01" height="7.42" fill="#d8ecf0"/>
<rect x="393.30" y="244.91" width="33.81" height="7.42" fill="#bcdbec"/>
<rect x="426.31" y="244.91" width="33.81" height="7.42" fill="#d8ecf0"/>
<rect x="459.33" y="244.91" width="33.81" height="7.42" fill="#f7f5c8"/>
<rect x="492.34" y="244.91" width="33.81" height="7.42" fill="#e8573a"/>
<rect x="525.36" y="244.91" width="33.81" height="7.42" fill="#fceaa9"/>
<rect x="558.37" y="244.91" width="33.81" height="7.42" fill="#f8f3c0"/>
<rect x="591.39" y="244.91" width="33.01" height="7.42" fill="#fccb84"/>
<rect x="393.30" y="251.53" width="33.81" height="7.42" fill="#bcdbec"/>
<rect x="426.31" y="251.53" width="33.81" height="7.42" fill="#e1f1ed"/>
<rect x="459.33" y="251.53" width="33.81" height="7.42" fill="#f7f5c8"/>
<rect x="492.34" y="251.53" width="33.81" height="7.42" fill="#f79a5e"/>
<rect x="525.36" y="251.53" width="33.81" height="7.42" fill="#f38752"/>
<rect x="558.37" y="251.53" width="33.81" height="7.42" fill="#faf0b8"/>
<rect x="591.39" y="251.53" width="33.01" height="7.42" fill="#e6f3ec"/>
<rect x="393.30" y="258.14" width="33.81" height="7.42" fill="#e6f3ec"/>
<rect x="426.31" y="258.14" width="33.81" height="7.42" fill="#d1e8ef"/>
<rect x="459.33" y="258.14" width="33.81" height="7.42" fill="#f7f5c8"/>
<rect x="492.34" y="258.14" width="33.81" height="7.42" fill="#f8a164"/>
<rect x="525.36" y="258.14" width="33.81" height="7.42" fill="#f38752"/>
<rect x="558.37" y="258.14" width="33.81" height="7.42" fill="#faf0b8"/>
<rect x="591.39" y="258.14" width="33.01" height="7.42" fill="#e6f3ec"/>
<rect x="393.30" y="264.76" width="33.81" height="7.42" fill="#e6f3ec"/>
<rect x="426.31" y="264.76" width="33.81" height="7.42" fill="#d1e8ef"/>
<rect x="459.33" y="264.76" width="33.81" height="7.42" fill="#f7f5c8"/>
<rect x="492.34" y="264.76" width="33.81" height="7.42" fill="#f9a869"/>
<rect x="525.36" y="264.76" width="33.81" height="7.42" fill="#f38752"/>
<rect x="558.37" y="264.76" width="33.81" height="7.42" fill="#faf0b8"/>
<rect x="591.39" y="264.76" width="33.01" height="7.42" fill="#e6f3ec"/>
<rect x="393.30" y="271.38" width="33.81" height="7.42" fill="#e6f3ec"/>
<rect x="426.31" y="271.38" width="33.81" height="7.42" fill="#d1e8ef"/>
<rect x="459.33" y="271.38" width="33.81" height="7.42" fill="#f8f3c0"/>
<rect x="492.34" y="271.38" width="33.81" height="7.42" fill="#fab06e"/>
<rect x="525.36" y="271.38" width="33.81" height="7.42" fill="#f38752"/>
<rect x="558.37" y="271.38" width="33.81" height="7.42" fill="#faf0b8"/>
<rect x="591.39" y="271.38" width="33.01" height="7.42" fill="#e6f3ec"/>
<rect x="393.30" y="278.00" width="33.81" height="7.42" fill="#c0ddec"/>
<rect x="426.31" y="278.00" width="33.81" height="7.42" fill="#c0ddec"/>
<rect x="459.33" y="278.00" width="33.81" height="7.42" fill="#fbeeb0"/>
<rect x="492.34" y="278.00" width="33.81" height="7.42" fill="#fddd96"/>
<rect x="525.36" y="278.00" width="33.81" height="7.42" fill="#f58d56"/>
<rect x="558.37" y="278.00" width="33.81" height="7.42" fill="#faf0b8"/>
<rect x="591.39" y="278.00" width="33.01" height="7.42" fill="#ebf5e5"/>
<rect x="393.30" y="284.62" width="33.81" height="7.42" fill="#c0ddec"/>
<rect x="426.31" y="284.62" width="33.81" height="7.42" fill="#c0ddec"/>
<rect x="459.33" y="284.62" width="33.81" height="7.42" fill="#fbeeb0"/>
<rect x="492.34" y="284.62" width="33.81" height="7.42" fill="#fddd96"/>
<rect x="525.36" y="284.62" width="33.81" height="7.42" fill="#ef7347"/>
<rect x="558.37" y="284.62" width="33.81" height="7.42" fill="#faf0b8"/>
<rect x="591.39" y="284.62" width="33.01" height="7.42" fill="#ebf5e5"/>
<rect x="393.30" y="291.24" width="33.81" height="7.42" fill="#dff0ee"/>
<rect x="426.31" y="291.24" width="33.81" height="7.42" fill="#daedef"/>
<rect x="459.33" y="291.24" width="33.81" height="7.42" fill="#f7f5c8"/>
<rect x="492.34" y="291.24" width="33.81" height="7.42" fill="#f7f5c8"/>
<rect x="525.36" y="291.24" width="33.81" height="7.42" fill="#de3c2a"/>
<rect x="558.37" y="291.24" width="33.81" height="7.42" fill="#faf0b8"/>
<rect x="591.39" y="291.24" width="33.01" height="7.42" fill="#ebf5e5"/>
<rect x="393.30" y="297.86" width="33.81" height="7.42" fill="#dff0ee"/>
<rect x="426.31" y="297.86" width="33.81" height="7.42" fill="#cee6ee"/>
<rect x="459.33" y="297.86" width="33.81" height="7.42" fill="#f7f5c8"/>
<rect x="492.34" y="297.86" width="33.81" height="7.42" fill="#fcc47f"/>
<rect x="525.36" y="297.86" width="33.81" height="7.42" fill="#e8573a"/>
<rect x="558.37" y="297.86" width="33.81" height="7.42" fill="#faf0b8"/>
<rect x="591.39" y="297.86" width="33.01" height="7.42" fill="#ebf5e5"/>
<rect x="393.30" y="304.48" width="33.81" height="7.42" fill="#dff0ee"/>
<rect x="426.31" y="304.48" width="33.81" height="7.42" fill="#cee6ee"/>
<rect x="459.33" y="304.48" width="33.81" height="7.42" fill="#f7f5c8"/>
<rect x="492.34" y="304.48" width="33.81" height="7.42" fill="#f7f5c8"/>
<rect x="525.36" y="304.48" width="33.81" height="7.42" fill="#ea5e3d"/>
<rect x="558.37" y="304.48" width="33.81" height="7.42" fill="#faf0b8"/>
<rect x="591.39" y="304.48" width="33.01" height="7.42" fill="#ebf5e5"/>
<rect x="393.30" y="311.10" width="33.81" height="7.42" fill="#cee6ee"/>
<rect x="426.31" y="311.10" width="33.81" height="7.42" fill="#daedef"/>
<rect x="459.33" y="311.10" width="33.81" height="7.42" fill="#eaf4e7"/>
<rect x="492.34" y="311.10" width="33.81" height="7.42" fill="#f7f5c8"/>
<rect x="525.36" y="311.10" width="33.81" height="7.42" fill="#ed6c44"/>
<rect x="558.37" y="311.10" width="33.81" height="7.42" fill="#faf0b8"/>
<rect x="591.39" y="311.10" width="33.01" height="7.42" fill="#fbeeb0"/>
<rect x="393.30" y="317.72" width="33.81" height="7.42" fill="#dff0ee"/>
<rect x="426.31" y="317.72" width="33.81" height="7.42" fill="#dff0ee"/>
<rect x="459.33" y="317.72" width="33.81" height="7.42" fill="#eaf4e7"/>
<rect x="492.34" y="317.72" width="33.81" height="7.42" fill="#f7f5c8"/>
<rect x="525.36" y="317.72" width="33.81" height="7.42" fill="#f8a164"/>
<rect x="558.37" y="317.72" width="33.81" height="7.42" fill="#f2804e"/>
<rect x="591.39" y="317.72" width="33.01" height="7.42" fill="#ebf5e5"/>
<rect x="393.30" y="324.33" width="33.81" height="7.42" fill="#b2d5e9"/>
<rect x="426.31" y="324.33" width="33.81" height="7.42" fill="#dff0ee"/>
<rect x="459.33" y="324.33" width="33.81" height="7.42" fill="#eaf4e7"/>
<rect x="492.34" y="324.33" width="33.81" height="7.42" fill="#f5f6cf"/>
<rect x="525.36" y="324.33" width="33.81" height="7.42" fill="#fddd96"/>
<rect x="558.37" y="324.33" width="33.81" height="7.42" fill="#f2804e"/>
<rect x="591.39" y="324.33" width="33.01" height="7.42" fill="#fbb774"/>
<rect x="393.30" y="330.95" width="33.81" height="7.42" fill="#dff0ee"/>
<rect x="426.31" y="330.95" width="33.81" height="7.42" fill="#dff0ee"/>
<rect x="459.33" y="330.95" width="33.81" height="7.42" fill="#eaf4e7"/>
<rect x="492.34" y="330.95" width="33.81" height="7.42" fill="#f5f6cf"/>
<rect x="525.36" y="330.95" width="33.81" height="7.42" fill="#fde39c"/>
<rect x="558.37" y="330.95" width="33.81" height="7.42" fill="#de3c2a"/>
<rect x="591.39" y="330.95" width="33.01" height="7.42" fill="#f2f7dc"/>
<rect x="393.30" y="337.57" width="33.81" height="7.42" fill="#dff0ee"/>
<rect x="426.31" y="337.57" width="33.81" height="7.42" fill="#dff0ee"/>
<rect x="459.33" y="337.57" width="33.81" height="7.42" fill="#eaf4e7"/>
<rect x="492.34" y="337.57" width="33.81" height="7.42" fill="#f5f6cf"/>
<rect x="525.36" y="337.57" width="33.81" height="7.42" fill="#fde39c"/>
<rect x="558.37" y="337.57" width="33.81" height="7.42" fill="#de3c2a"/>
<rect x="591.39" y="337.57" width="33.01" height="7.42" fill="#f2f7dc"/>
<rect x="393.30" y="344.19" width="33.81" height="7.42" fill="#dff0ee"/>
<rect x="426.31" y="344.19" width="33.81" height="7.42" fill="#dff0ee"/>
<rect x="459.33" y="344.19" width="33.81" height="7.42" fill="#eaf4e7"/>
<rect x="492.34" y="344.19" width="33.81" height="7.42" fill="#f5f6cf"/>
<rect x="525.36" y="344.19" width="33.81" height="7.42" fill="#fde39c"/>
<rect x="558.37" y="344.19" width="33.81" height="7.42" fill="#de3c2a"/>
<rect x="591.39" y="344.19" width="33.01" height="7.42" fill="#f2f7dc"/>
<rect x="393.30" y="350.81" width="33.81" height="7.42" fill="#dff0ee"/>
<rect x="426.31" y="350.81" width="33.81" height="7.42" fill="#dff0ee"/>
<rect x="459.33" y="350.81" width="33.81" height="7.42" fill="#e7f4ea"/>
<rect x="492.34" y="350.81" width="33.81" height="7.42" fill="#f4f6d5"/>
<rect x="525.36" y="350.81" width="33.81" height="7.42" fill="#fcda93"/>
<rect x="558.37" y="350.81" width="33.81" height="7.42" fill="#de3c2a"/>
<rect x="591.39" y="350.81" width="33.01" height="7.42" fill="#f5f6cf"/>
<rect x="393.30" y="357.43" width="33.81" height="7.42" fill="#dff0ee"/>
<rect x="426.31" y="357.43" width="33.81" height="7.42" fill="#e4f2ed"/>
<rect x="459.33" y="357.43" width="33.81" height="7.42" fill="#e7f4ea"/>
<rect x="492.34" y="357.43" width="33.81" height="7.42" fill="#f2f7dc"/>
<rect x="525.36" y="357.43" width="33.81" height="7.42" fill="#fcda93"/>
<rect x="558.37" y="357.43" width="33.81" height="7.42" fill="#de3c2a"/>
<rect x="591.39" y="357.43" width="33.01" height="7.42" fill="#f7f5c8"/>
<rect x="393.30" y="364.05" width="33.81" height="7.42" fill="#e4f2ed"/>
<rect x="426.31" y="364.05" width="33.81" height="7.42" fill="#e4f2ed"/>
<rect x="459.33" y="364.05" width="33.81" height="7.42" fill="#e7f4ea"/>
<rect x="492.34" y="364.05" width="33.81" height="7.42" fill="#f2f7dc"/>
<rect x="525.36" y="364.05" width="33.81" height="7.42" fill="#fcda93"/>
<rect x="558.37" y="364.05" width="33.81" height="7.42" fill="#de3c2a"/>
<rect x="591.39" y="364.05" width="33.01" height="7.42" fill="#f7f5c8"/>
<rect x="393.30" y="370.67" width="33.81" height="7.42" fill="#e4f2ed"/>
<rect x="426.31" y="370.67" width="33.81" height="7.42" fill="#fce7a3"/>
<rect x="459.33" y="370.67" width="33.81" height="7.42" fill="#e7f4ea"/>
<rect x="492.34" y="370.67" width="33.81" height="7.42" fill="#e7f4ea"/>
<rect x="525.36" y="370.67" width="33.81" height="7.42" fill="#e7f4ea"/>
<rect x="558.37" y="370.67" width="33.81" height="7.42" fill="#faf0b8"/>
<rect x="591.39" y="370.67" width="33.01" height="7.42" fill="#e0432f"/>
<rect x="393.30" y="377.29" width="33.81" height="7.42" fill="#e4f2ed"/>
<rect x="426.31" y="377.29" width="33.81" height="7.42" fill="#eff6e0"/>
<rect x="459.33" y="377.29" width="33.81" height="7.42" fill="#faf0b8"/>
<rect x="492.34" y="377.29" width="33.81" height="7.42" fill="#e7f4ea"/>
<rect x="525.36" y="377.29" width="33.81" height="7.42" fill="#e7f4ea"/>
<rect x="558.37" y="377.29" width="33.81" height="7.42" fill="#faf0b8"/>
<rect x="591.39" y="377.29" width="33.01" height="7.42" fill="#e0432f"/>
<rect x="393.30" y="383.91" width="33.81" height="7.42" fill="#fceaa9"/>
<rect x="426.31" y="383.91" width="33.81" height="7.42" fill="#f7f5c8"/>
<rect x="459.33" y="383.91" width="33.81" height="7.42" fill="#c0ddec"/>
<rect x="492.34" y="383.91" width="33.81" height="7.42" fill="#e7f4ea"/>
<rect x="525.36" y="383.91" width="33.81" height="7.42" fill="#e7f4ea"/>
<rect x="558.37" y="383.91" width="33.81" height="7.42" fill="#f8f3c0"/>
<rect x="591.39" y="383.91" width="33.01" height="7.42" fill="#e0432f"/>
<rect x="393.30" y="390.52" width="33.81" height="7.42" fill="#dff0ee"/>
<rect x="426.31" y="390.52" width="33.81" height="7.42" fill="#fde39c"/>
<rect x="459.33" y="390.52" width="33.81" height="7.42" fill="#e7f4ea"/>
<rect x="492.34" y="390.52" width="33.81" height="7.42" fill="#e7f4ea"/>
<rect x="525.36" y="390.52" width="33.81" height="7.42" fill="#e7f4ea"/>
<rect x="558.37" y="390.52" width="33.81" height="7.42" fill="#f8f3c0"/>
<rect x="591.39" y="390.52" width="33.01" height="7.42" fill="#e0432f"/>
<rect x="393.30" y="397.14" width="33.81" height="7.42" fill="#dff0ee"/>
<rect x="426.31" y="397.14" width="33.81" height="7.42" fill="#fde39c"/>
<rect x="459.33" y="397.14" width="33.81" height="7.42" fill="#e7f4ea"/>
<rect x="492.34" y="397.14" width="33.81" height="7.42" fill="#e7f4ea"/>
<rect x="525.36" y="397.14" width="33.81" height="7.42" fill="#e7f4ea"/>
<rect x="558.37" y="397.14" width="33.81" height="7.42" fill="#f8f3c0"/>
<rect x="591.39" y="397.14" width="33.01" height="7.42" fill="#e0432f"/>
<rect x="393.30" y="403.76" width="33.81" height="7.42" fill="#dff0ee"/>
<rect x="426.31" y="403.76" width="33.81" height="7.42" fill="#fde39c"/>
<rect x="459.33" y="403.76" width="33.81" height="7.42" fill="#e7f4ea"/>
<rect x="492.34" y="403.76" width="33.81" height="7.42" fill="#e7f4ea"/>
<rect x="525.36" y="403.76" width="33.81" height="7.42" fill="#e7f4ea"/>
<rect x="558.37" y="403.76" width="33.81" height="7.42" fill="#f8f3c0"/>
<rect x="591.39" y="403.76" width="33.01" height="7.42" fill="#e0432f"/>
<rect x="393.30" y="410.38" width="33.81" height="6.62" fill="#dff0ee"/>
<rect x="426.31" y="410.38" width="33.81" height="6.62" fill="#e7f4ea"/>
<rect x="459.33" y="410.38" width="33.81" height="6.62" fill="#e7f4ea"/>
<rect x="492.34" y="410.38" width="33.81" height="6.62" fill="#e7f4ea"/>
<rect x="525.36" y="410.38" width="33.81" height="6.62" fill="#e7f4ea"/>
<rect x="558.37" y="410.38" width="33.81" height="6.62" fill="#faf0b8"/>
<rect x="591.39" y="410.38" width="33.01" height="6.62" fill="#e0432f"/>
<text x="627.6" y="40.4" font-size="6.5" fill="#c8283c" stroke="#c8283c" stroke-width="0.0" text-anchor="start" font-weight="bold" font-style="italic" >GAL</text>
<text x="627.6" y="47.0" font-size="6.5" fill="#222" stroke="#222" stroke-width="0.22" text-anchor="start" font-weight="normal" font-style="italic" >POMC</text>
<text x="627.6" y="53.6" font-size="6.5" fill="#222" stroke="#222" stroke-width="0.22" text-anchor="start" font-weight="normal" font-style="italic" >KRT8</text>
<text x="627.6" y="60.1" font-size="6.5" fill="#222" stroke="#222" stroke-width="0.22" text-anchor="start" font-weight="normal" font-style="italic" >RASD1</text>
<text x="627.6" y="66.7" font-size="6.5" fill="#222" stroke="#222" stroke-width="0.22" text-anchor="start" font-weight="normal" font-style="italic" >PHACTR3</text>
<text x="627.6" y="73.3" font-size="6.5" fill="#222" stroke="#222" stroke-width="0.22" text-anchor="start" font-weight="normal" font-style="italic" >PMAIP1</text>
<text x="627.6" y="79.9" font-size="6.5" fill="#222" stroke="#222" stroke-width="0.22" text-anchor="start" font-weight="normal" font-style="italic" >KRT18</text>
<text x="627.6" y="86.5" font-size="6.5" fill="#222" stroke="#222" stroke-width="0.22" text-anchor="start" font-weight="normal" font-style="italic" >TBX19</text>
<text x="627.6" y="93.0" font-size="6.5" fill="#222" stroke="#222" stroke-width="0.22" text-anchor="start" font-weight="normal" font-style="italic" >SERTM1</text>
<text x="627.6" y="99.6" font-size="6.5" fill="#222" stroke="#222" stroke-width="0.22" text-anchor="start" font-weight="normal" font-style="italic" >FASN</text>
<text x="627.6" y="106.2" font-size="6.5" fill="#222" stroke="#222" stroke-width="0.22" text-anchor="start" font-weight="normal" font-style="italic" >CHGA</text>
<text x="627.6" y="112.8" font-size="6.5" fill="#c8283c" stroke="#c8283c" stroke-width="0.0" text-anchor="start" font-weight="bold" font-style="italic" >WFDC2</text>
<text x="627.6" y="119.4" font-size="6.5" fill="#222" stroke="#222" stroke-width="0.22" text-anchor="start" font-weight="normal" font-style="italic" >TPH1</text>
<text x="627.6" y="125.9" font-size="6.5" fill="#222" stroke="#222" stroke-width="0.22" text-anchor="start" font-weight="normal" font-style="italic" >LY6H</text>
<text x="627.6" y="132.5" font-size="6.5" fill="#222" stroke="#222" stroke-width="0.22" text-anchor="start" font-weight="normal" font-style="italic" >CHGB</text>
<text x="627.6" y="139.1" font-size="6.5" fill="#222" stroke="#222" stroke-width="0.22" text-anchor="start" font-weight="normal" font-style="italic" >PEG10</text>
<text x="627.6" y="145.7" font-size="6.5" fill="#222" stroke="#222" stroke-width="0.22" text-anchor="start" font-weight="normal" font-style="italic" >MDK</text>
<text x="627.6" y="152.3" font-size="6.5" fill="#222" stroke="#222" stroke-width="0.22" text-anchor="start" font-weight="normal" font-style="italic" >GPC3</text>
<text x="627.6" y="158.8" font-size="6.5" fill="#222" stroke="#222" stroke-width="0.22" text-anchor="start" font-weight="normal" font-style="italic" >CLU</text>
<text x="627.6" y="165.4" font-size="6.5" fill="#c8283c" stroke="#c8283c" stroke-width="0.0" text-anchor="start" font-weight="bold" font-style="italic" >PRL</text>
<text x="627.6" y="172.0" font-size="6.5" fill="#222" stroke="#222" stroke-width="0.22" text-anchor="start" font-weight="normal" font-style="italic" >BET1</text>
<text x="627.6" y="178.6" font-size="6.5" fill="#222" stroke="#222" stroke-width="0.22" text-anchor="start" font-weight="normal" font-style="italic" >VGF</text>
<text x="627.6" y="185.2" font-size="6.5" fill="#222" stroke="#222" stroke-width="0.22" text-anchor="start" font-weight="normal" font-style="italic" >NOV</text>
<text x="627.6" y="191.7" font-size="6.5" fill="#222" stroke="#222" stroke-width="0.22" text-anchor="start" font-weight="normal" font-style="italic" >SNHG18</text>
<text x="627.6" y="198.3" font-size="6.5" fill="#222" stroke="#222" stroke-width="0.22" text-anchor="start" font-weight="normal" font-style="italic" >THBS2</text>
<text x="627.6" y="204.9" font-size="6.5" fill="#222" stroke="#222" stroke-width="0.22" text-anchor="start" font-weight="normal" font-style="italic" >HES6</text>
<text x="627.6" y="211.5" font-size="6.5" fill="#222" stroke="#222" stroke-width="0.22" text-anchor="start" font-weight="normal" font-style="italic" >IGSF1</text>
<text x="627.6" y="218.1" font-size="6.5" fill="#222" stroke="#222" stroke-width="0.22" text-anchor="start" font-weight="normal" font-style="italic" >CSN1S1</text>
<text x="627.6" y="224.6" font-size="6.5" fill="#222" stroke="#222" stroke-width="0.22" text-anchor="start" font-weight="normal" font-style="italic" >TTN</text>
<text x="627.6" y="231.2" font-size="6.5" fill="#222" stroke="#222" stroke-width="0.22" text-anchor="start" font-weight="normal" font-style="italic" >NELL2</text>
<text x="627.6" y="237.8" font-size="6.5" fill="#222" stroke="#222" stroke-width="0.22" text-anchor="start" font-weight="normal" font-style="italic" >RAMP3</text>
<text x="627.6" y="244.4" font-size="6.5" fill="#222" stroke="#222" stroke-width="0.22" text-anchor="start" font-weight="normal" font-style="italic" >ENPP2</text>
<text x="627.6" y="251.0" font-size="6.5" fill="#222" stroke="#222" stroke-width="0.22" text-anchor="start" font-weight="normal" font-style="italic" >DIO2</text>
<text x="627.6" y="257.5" font-size="6.5" fill="#222" stroke="#222" stroke-width="0.22" text-anchor="start" font-weight="normal" font-style="italic" >MIR7−3HG</text>
<text x="627.6" y="264.1" font-size="6.5" fill="#222" stroke="#222" stroke-width="0.22" text-anchor="start" font-weight="normal" font-style="italic" >DLK1</text>
<text x="627.6" y="270.7" font-size="6.5" fill="#c8283c" stroke="#c8283c" stroke-width="0.0" text-anchor="start" font-weight="bold" font-style="italic" >GHRHR</text>
<text x="627.6" y="277.3" font-size="6.5" fill="#222" stroke="#222" stroke-width="0.22" text-anchor="start" font-weight="normal" font-style="italic" >CD79B</text>
<text x="627.6" y="283.9" font-size="6.5" fill="#222" stroke="#222" stroke-width="0.22" text-anchor="start" font-weight="normal" font-style="italic" >GH1</text>
<text x="627.6" y="290.4" font-size="6.5" fill="#222" stroke="#222" stroke-width="0.22" text-anchor="start" font-weight="normal" font-style="italic" >OTOS</text>
<text x="627.6" y="297.0" font-size="6.5" fill="#222" stroke="#222" stroke-width="0.22" text-anchor="start" font-weight="normal" font-style="italic" >IGFBP2</text>
<text x="627.6" y="303.6" font-size="6.5" fill="#222" stroke="#222" stroke-width="0.22" text-anchor="start" font-weight="normal" font-style="italic" >DEPP1</text>
<text x="627.6" y="310.2" font-size="6.5" fill="#222" stroke="#222" stroke-width="0.22" text-anchor="start" font-weight="normal" font-style="italic" >S100A6</text>
<text x="627.6" y="316.8" font-size="6.5" fill="#c8283c" stroke="#c8283c" stroke-width="0.0" text-anchor="start" font-weight="bold" font-style="italic" >APOE</text>
<text x="627.6" y="323.3" font-size="6.5" fill="#222" stroke="#222" stroke-width="0.22" text-anchor="start" font-weight="normal" font-style="italic" >MGP</text>
<text x="627.6" y="329.9" font-size="6.5" fill="#222" stroke="#222" stroke-width="0.22" text-anchor="start" font-weight="normal" font-style="italic" >IGFBP7</text>
<text x="627.6" y="336.5" font-size="6.5" fill="#222" stroke="#222" stroke-width="0.22" text-anchor="start" font-weight="normal" font-style="italic" >IGFBP6</text>
<text x="627.6" y="343.1" font-size="6.5" fill="#222" stroke="#222" stroke-width="0.22" text-anchor="start" font-weight="normal" font-style="italic" >TGM2</text>
<text x="627.6" y="349.7" font-size="6.5" fill="#222" stroke="#222" stroke-width="0.22" text-anchor="start" font-weight="normal" font-style="italic" >IFITM3</text>
<text x="627.6" y="356.2" font-size="6.5" fill="#222" stroke="#222" stroke-width="0.22" text-anchor="start" font-weight="normal" font-style="italic" >TIMP3</text>
<text x="627.6" y="362.8" font-size="6.5" fill="#222" stroke="#222" stroke-width="0.22" text-anchor="start" font-weight="normal" font-style="italic" >RGS5</text>
<text x="627.6" y="369.4" font-size="6.5" fill="#222" stroke="#222" stroke-width="0.22" text-anchor="start" font-weight="normal" font-style="italic" >VIM</text>
<text x="627.6" y="376.0" font-size="6.5" fill="#222" stroke="#222" stroke-width="0.22" text-anchor="start" font-weight="normal" font-style="italic" >GZMK</text>
<text x="627.6" y="382.6" font-size="6.5" fill="#222" stroke="#222" stroke-width="0.22" text-anchor="start" font-weight="normal" font-style="italic" >TFPI2</text>
<text x="627.6" y="389.1" font-size="6.5" fill="#222" stroke="#222" stroke-width="0.22" text-anchor="start" font-weight="normal" font-style="italic" >NNAT</text>
<text x="627.6" y="395.7" font-size="6.5" fill="#222" stroke="#222" stroke-width="0.22" text-anchor="start" font-weight="normal" font-style="italic" >VTN</text>
<text x="627.6" y="402.3" font-size="6.5" fill="#222" stroke="#222" stroke-width="0.22" text-anchor="start" font-weight="normal" font-style="italic" >TAC1</text>
<text x="627.6" y="408.9" font-size="6.5" fill="#222" stroke="#222" stroke-width="0.22" text-anchor="start" font-weight="normal" font-style="italic" >NTS</text>
<text x="627.6" y="415.5" font-size="6.5" fill="#222" stroke="#222" stroke-width="0.22" text-anchor="start" font-weight="normal" font-style="italic" >CGA</text>
<text x="662.6" y="354.0" font-size="7" fill="#333" stroke="#333" stroke-width="0.12" text-anchor="start" font-weight="normal" font-style="normal" >Expression</text>
<defs><linearGradient id="expg" x1="0" y1="0" x2="0" y2="1"><stop offset="0" stop-color="#d42c28"/><stop offset="0.25" stop-color="#dc3a2a"/><stop offset="0.31" stop-color="#f07a40"/><stop offset="0.36" stop-color="#fdae61"/><stop offset="0.42" stop-color="#fee090"/><stop offset="0.495" stop-color="#f8f8d0"/><stop offset="0.555" stop-color="#e0f0f4"/><stop offset="0.61" stop-color="#a8cce4"/><stop offset="0.68" stop-color="#5a8cc8"/><stop offset="0.745" stop-color="#4a7cc0"/><stop offset="1" stop-color="#4070b4"/></linearGradient></defs>
<rect x="662.3" y="358.7" width="11.5" height="58" fill="url(#expg)"/>
<line x1="671.6" y1="362.4" x2="673.8" y2="362.4" stroke="#fff" stroke-width="0.9"/>
<text x="676.3" y="364.9" font-size="7" fill="#333" stroke="#333" stroke-width="0.12" text-anchor="start" font-weight="normal" font-style="normal" >4</text>
<line x1="671.6" y1="375.8" x2="673.8" y2="375.8" stroke="#fff" stroke-width="0.9"/>
<text x="676.3" y="378.3" font-size="7" fill="#333" stroke="#333" stroke-width="0.12" text-anchor="start" font-weight="normal" font-style="normal" >2</text>
<line x1="671.6" y1="389.1" x2="673.8" y2="389.1" stroke="#fff" stroke-width="0.9"/>
<text x="676.3" y="391.6" font-size="7" fill="#333" stroke="#333" stroke-width="0.12" text-anchor="start" font-weight="normal" font-style="normal" >0</text>
<line x1="671.6" y1="402.4" x2="673.8" y2="402.4" stroke="#fff" stroke-width="0.9"/>
<text x="675.8" y="404.9" font-size="7" fill="#333" stroke="#333" stroke-width="0.12" text-anchor="start" font-weight="normal" font-style="normal" >-2</text>
<line x1="671.6" y1="415.7" x2="673.8" y2="415.7" stroke="#fff" stroke-width="0.9"/>
<text x="675.8" y="418.2" font-size="7" fill="#333" stroke="#333" stroke-width="0.12" text-anchor="start" font-weight="normal" font-style="normal" >-4</text>
<text x="22.5" y="243.2" font-size="14" fill="#111" stroke="#111" stroke-width="0.0" text-anchor="start" font-weight="bold" font-style="normal" >d</text>
<text x="198.2" y="250.2" font-size="9.7" fill="#111" stroke="#111" stroke-width="0.0" text-anchor="middle" font-weight="bold" font-style="normal" >scRNA-seq cluster</text>
<text x="0" y="0" font-size="8" fill="#333" stroke="#333" stroke-width="0.2" transform="translate(82.0,280.4) rotate(-30)">ACTH</text>
<text x="0" y="0" font-size="8" fill="#333" stroke="#333" stroke-width="0.2" transform="translate(104.7,280.4) rotate(-30)">SCA</text>
<text x="0" y="0" font-size="8" fill="#333" stroke="#333" stroke-width="0.2" transform="translate(127.4,280.4) rotate(-30)">SGA</text>
<text x="0" y="0" font-size="8" fill="#333" stroke="#333" stroke-width="0.2" transform="translate(150.2,280.4) rotate(-30)">PRL</text>
<text x="0" y="0" font-size="8" fill="#333" stroke="#333" stroke-width="0.2" transform="translate(172.8,280.4) rotate(-30)">GH</text>
<text x="0" y="0" font-size="8" fill="#333" stroke="#333" stroke-width="0.2" transform="translate(195.5,280.4) rotate(-30)">TSH</text>
<text x="0" y="0" font-size="8" fill="#333" stroke="#333" stroke-width="0.2" transform="translate(218.2,280.4) rotate(-30)">Myeloid cell</text>
<text x="0" y="0" font-size="8" fill="#333" stroke="#333" stroke-width="0.2" transform="translate(240.9,280.4) rotate(-30)">Lymphocyte</text>
<text x="0" y="0" font-size="8" fill="#333" stroke="#333" stroke-width="0.2" transform="translate(263.6,280.4) rotate(-30)">Fibroblast</text>
<text x="0" y="0" font-size="8" fill="#333" stroke="#333" stroke-width="0.2" transform="translate(286.4,280.4) rotate(-30)">Endothelial</text>
<text x="0" y="0" font-size="8" fill="#333" stroke="#333" stroke-width="0.2" transform="translate(309.1,280.4) rotate(-30)">Stem cell</text>
<text x="39.4" y="295.9" font-size="8" fill="#333" stroke="#333" stroke-width="0.12" text-anchor="start" font-weight="normal" font-style="normal" >Niche 1</text>
<text x="39.4" y="312.3" font-size="8" fill="#333" stroke="#333" stroke-width="0.12" text-anchor="start" font-weight="normal" font-style="normal" >Niche 2</text>
<text x="39.4" y="328.6" font-size="8" fill="#333" stroke="#333" stroke-width="0.12" text-anchor="start" font-weight="normal" font-style="normal" >Niche 3</text>
<text x="39.4" y="345.0" font-size="8" fill="#333" stroke="#333" stroke-width="0.12" text-anchor="start" font-weight="normal" font-style="normal" >Niche 4</text>
<text x="39.4" y="361.4" font-size="8" fill="#333" stroke="#333" stroke-width="0.12" text-anchor="start" font-weight="normal" font-style="normal" >Niche 5</text>
<text x="39.4" y="377.7" font-size="8" fill="#333" stroke="#333" stroke-width="0.12" text-anchor="start" font-weight="normal" font-style="normal" >Niche 6</text>
<text x="39.4" y="394.1" font-size="8" fill="#333" stroke="#333" stroke-width="0.12" text-anchor="start" font-weight="normal" font-style="normal" >Other</text>
<rect x="69.1" y="284.8" width="249.70" height="114.59" fill="#fff"/>
<rect x="69.10" y="284.80" width="22.70" height="16.37" fill="#5a1122"/>
<rect x="91.80" y="301.17" width="22.70" height="16.37" fill="#5a1122"/>
<rect x="114.50" y="301.17" width="22.70" height="16.37" fill="#5a1122"/>
<rect x="296.10" y="301.17" width="22.70" height="16.37" fill="#f1e1de"/>
<rect x="137.20" y="317.54" width="22.70" height="16.37" fill="#5a1122"/>
<rect x="159.90" y="317.54" width="22.70" height="16.37" fill="#e38373"/>
<rect x="159.90" y="333.91" width="22.70" height="16.37" fill="#5a1122"/>
<rect x="182.60" y="333.91" width="22.70" height="16.37" fill="#5a1122"/>
<rect x="159.90" y="350.28" width="22.70" height="16.37" fill="#5a1122"/>
<rect x="182.60" y="350.28" width="22.70" height="16.37" fill="#5a1122"/>
<rect x="205.30" y="350.28" width="22.70" height="16.37" fill="#ebb2aa"/>
<rect x="228.00" y="350.28" width="22.70" height="16.37" fill="#f8e9e6"/>
<rect x="250.70" y="350.28" width="22.70" height="16.37" fill="#d9604f"/>
<rect x="273.40" y="350.28" width="22.70" height="16.37" fill="#e8a293"/>
<rect x="296.10" y="350.28" width="22.70" height="16.37" fill="#f5e1db"/>
<rect x="137.20" y="366.65" width="22.70" height="16.37" fill="#faefee"/>
<rect x="205.30" y="366.65" width="22.70" height="16.37" fill="#5a1122"/>
<rect x="228.00" y="366.65" width="22.70" height="16.37" fill="#dc6450"/>
<rect x="250.70" y="366.65" width="22.70" height="16.37" fill="#5a1122"/>
<rect x="273.40" y="366.65" width="22.70" height="16.37" fill="#5a1122"/>
<rect x="296.10" y="366.65" width="22.70" height="16.37" fill="#b9404a"/>
<rect x="91.80" y="383.02" width="22.70" height="16.37" fill="#5a1122"/>
<rect x="137.20" y="383.02" width="22.70" height="16.37" fill="#f6e6e5"/>
<rect x="205.30" y="383.02" width="22.70" height="16.37" fill="#e89383"/>
<rect x="228.00" y="383.02" width="22.70" height="16.37" fill="#f8ece9"/>
<rect x="273.40" y="383.02" width="22.70" height="16.37" fill="#fbf4f2"/>
<rect x="296.10" y="383.02" width="22.70" height="16.37" fill="#f3e4e1"/>
<line x1="69.10" y1="284.8" x2="69.10" y2="399.39" stroke="#1a1a1a" stroke-width="1"/>
<line x1="91.80" y1="284.8" x2="91.80" y2="399.39" stroke="#1a1a1a" stroke-width="1"/>
<line x1="114.50" y1="284.8" x2="114.50" y2="399.39" stroke="#1a1a1a" stroke-width="1"/>
<line x1="137.20" y1="284.8" x2="137.20" y2="399.39" stroke="#1a1a1a" stroke-width="1"/>
<line x1="159.90" y1="284.8" x2="159.90" y2="399.39" stroke="#1a1a1a" stroke-width="1"/>
<line x1="182.60" y1="284.8" x2="182.60" y2="399.39" stroke="#1a1a1a" stroke-width="1"/>
<line x1="205.30" y1="284.8" x2="205.30" y2="399.39" stroke="#1a1a1a" stroke-width="1"/>
<line x1="228.00" y1="284.8" x2="228.00" y2="399.39" stroke="#1a1a1a" stroke-width="1"/>
<line x1="250.70" y1="284.8" x2="250.70" y2="399.39" stroke="#1a1a1a" stroke-width="1"/>
<line x1="273.40" y1="284.8" x2="273.40" y2="399.39" stroke="#1a1a1a" stroke-width="1"/>
<line x1="296.10" y1="284.8" x2="296.10" y2="399.39" stroke="#1a1a1a" stroke-width="1"/>
<line x1="318.80" y1="284.8" x2="318.80" y2="399.39" stroke="#1a1a1a" stroke-width="1"/>
<line x1="69.1" y1="284.80" x2="318.80" y2="284.80" stroke="#1a1a1a" stroke-width="1"/>
<line x1="69.1" y1="301.17" x2="318.80" y2="301.17" stroke="#1a1a1a" stroke-width="1"/>
<line x1="69.1" y1="317.54" x2="318.80" y2="317.54" stroke="#1a1a1a" stroke-width="1"/>
<line x1="69.1" y1="333.91" x2="318.80" y2="333.91" stroke="#1a1a1a" stroke-width="1"/>
<line x1="69.1" y1="350.28" x2="318.80" y2="350.28" stroke="#1a1a1a" stroke-width="1"/>
<line x1="69.1" y1="366.65" x2="318.80" y2="366.65" stroke="#1a1a1a" stroke-width="1"/>
<line x1="69.1" y1="383.02" x2="318.80" y2="383.02" stroke="#1a1a1a" stroke-width="1"/>
<line x1="69.1" y1="399.39" x2="318.80" y2="399.39" stroke="#1a1a1a" stroke-width="1"/>
<text x="0.0" y="0.0" font-size="9.5" fill="#111" stroke="#111" stroke-width="0.0" text-anchor="middle" font-weight="bold" font-style="normal" transform="translate(32.6,342) rotate(-90)">ST cluster</text>
<text x="328.0" y="339.2" font-size="7" fill="#333" stroke="#333" stroke-width="0.12" text-anchor="start" font-weight="normal" font-style="normal" >Adjust P value</text>
<text x="328.0" y="347.0" font-size="7" fill="#333" stroke="#333" stroke-width="0.12" text-anchor="start" font-weight="normal" font-style="normal" >(-log10)</text>
<defs><linearGradient id="pg" x1="0" y1="0" x2="0" y2="1"><stop offset="0" stop-color="#3a0a18"/><stop offset="0.4" stop-color="#8e2f40"/><stop offset="0.75" stop-color="#e0a0a4"/><stop offset="1" stop-color="#fdf4f4"/></linearGradient></defs>
<rect x="329.7" y="354" width="4" height="35" fill="url(#pg)"/>
<text x="334.8" y="357.9" font-size="7" fill="#333" stroke="#333" stroke-width="0.12" text-anchor="start" font-weight="normal" font-style="normal" >&gt;8.0</text>
<text x="337.9" y="376.7" font-size="7" fill="#333" stroke="#333" stroke-width="0.12" text-anchor="start" font-weight="normal" font-style="normal" >4.0</text>
<text x="337.9" y="395.0" font-size="7" fill="#333" stroke="#333" stroke-width="0.12" text-anchor="start" font-weight="normal" font-style="normal" >0.0</text>
<defs><pattern id="hep" width="28" height="28" patternUnits="userSpaceOnUse"><circle cx="6.7" cy="15.2" r="0.45" fill="#e0e0f8" fill-opacity="0.8"/><circle cx="25.6" cy="13.3" r="0.45" fill="#c4c4ee" fill-opacity="0.8"/><circle cx="17.0" cy="25.4" r="0.45" fill="#34307a" fill-opacity="0.8"/><circle cx="7.3" cy="6.6" r="0.45" fill="#34307a" fill-opacity="0.8"/><circle cx="15.1" cy="15.4" r="0.45" fill="#34307a" fill-opacity="0.8"/><circle cx="17.9" cy="4.2" r="0.45" fill="#a6a6e0" fill-opacity="0.8"/><circle cx="24.3" cy="14.6" r="0.45" fill="#c4c4ee" fill-opacity="0.8"/><circle cx="18.8" cy="1.8" r="0.45" fill="#c4c4ee" fill-opacity="0.8"/><circle cx="8.4" cy="0.9" r="0.45" fill="#e0e0f8" fill-opacity="0.8"/><circle cx="13.2" cy="20.1" r="0.45" fill="#34307a" fill-opacity="0.8"/><circle cx="20.0" cy="25.8" r="0.45" fill="#34307a" fill-opacity="0.8"/><circle cx="20.4" cy="16.2" r="0.45" fill="#a6a6e0" fill-opacity="0.8"/><circle cx="24.6" cy="2.7" r="0.45" fill="#a6a6e0" fill-opacity="0.8"/><circle cx="13.9" cy="7.2" r="0.45" fill="#34307a" fill-opacity="0.8"/><circle cx="21.8" cy="23.9" r="0.45" fill="#34307a" fill-opacity="0.8"/><circle cx="14.2" cy="10.8" r="0.45" fill="#e0e0f8" fill-opacity="0.8"/><circle cx="15.0" cy="11.4" r="0.45" fill="#a6a6e0" fill-opacity="0.8"/><circle cx="25.3" cy="19.1" r="0.45" fill="#c4c4ee" fill-opacity="0.8"/><circle cx="24.0" cy="27.7" r="0.45" fill="#a6a6e0" fill-opacity="0.8"/><circle cx="19.6" cy="9.1" r="0.45" fill="#c4c4ee" fill-opacity="0.8"/><circle cx="20.0" cy="5.9" r="0.45" fill="#e0e0f8" fill-opacity="0.8"/><circle cx="8.0" cy="1.8" r="0.45" fill="#34307a" fill-opacity="0.8"/><circle cx="2.5" cy="22.4" r="0.45" fill="#34307a" fill-opacity="0.8"/><circle cx="25.1" cy="0.6" r="0.45" fill="#34307a" fill-opacity="0.8"/><circle cx="21.5" cy="24.4" r="0.45" fill="#c4c4ee" fill-opacity="0.8"/><circle cx="16.9" cy="21.3" r="0.45" fill="#34307a" fill-opacity="0.8"/><circle cx="20.1" cy="9.3" r="0.45" fill="#e0e0f8" fill-opacity="0.8"/><circle cx="14.2" cy="28.0" r="0.45" fill="#e0e0f8" fill-opacity="0.8"/><circle cx="0.2" cy="3.0" r="0.45" fill="#c4c4ee" fill-opacity="0.8"/><circle cx="26.6" cy="27.2" r="0.45" fill="#e0e0f8" fill-opacity="0.8"/><circle cx="17.1" cy="4.4" r="0.45" fill="#c4c4ee" fill-opacity="0.8"/><circle cx="27.4" cy="9.5" r="0.45" fill="#e0e0f8" fill-opacity="0.8"/><circle cx="26.8" cy="25.1" r="0.45" fill="#34307a" fill-opacity="0.8"/><circle cx="10.5" cy="24.4" r="0.45" fill="#34307a" fill-opacity="0.8"/><circle cx="18.0" cy="16.7" r="0.45" fill="#c4c4ee" fill-opacity="0.8"/><circle cx="17.4" cy="26.3" r="0.45" fill="#e0e0f8" fill-opacity="0.8"/><circle cx="12.1" cy="20.2" r="0.45" fill="#a6a6e0" fill-opacity="0.8"/><circle cx="26.2" cy="12.2" r="0.45" fill="#e0e0f8" fill-opacity="0.8"/><circle cx="14.6" cy="15.4" r="0.45" fill="#c4c4ee" fill-opacity="0.8"/><circle cx="22.1" cy="27.6" r="0.45" fill="#e0e0f8" fill-opacity="0.8"/><circle cx="0.6" cy="17.2" r="0.45" fill="#a6a6e0" fill-opacity="0.8"/><circle cx="1.7" cy="17.6" r="0.45" fill="#34307a" fill-opacity="0.8"/><circle cx="9.9" cy="25.7" r="0.45" fill="#e0e0f8" fill-opacity="0.8"/><circle cx="20.7" cy="0.6" r="0.45" fill="#c4c4ee" fill-opacity="0.8"/><circle cx="26.7" cy="0.6" r="0.45" fill="#e0e0f8" fill-opacity="0.8"/><circle cx="7.0" cy="12.8" r="0.45" fill="#e0e0f8" fill-opacity="0.8"/><circle cx="5.0" cy="5.2" r="0.45" fill="#e0e0f8" fill-opacity="0.8"/><circle cx="23.6" cy="7.4" r="0.45" fill="#34307a" fill-opacity="0.8"/><circle cx="2.9" cy="22.8" r="0.45" fill="#a6a6e0" fill-opacity="0.8"/><circle cx="8.7" cy="6.2" r="0.45" fill="#e0e0f8" fill-opacity="0.8"/><circle cx="6.7" cy="5.2" r="0.45" fill="#34307a" fill-opacity="0.8"/><circle cx="18.2" cy="2.7" r="0.45" fill="#e0e0f8" fill-opacity="0.8"/><circle cx="26.6" cy="18.9" r="0.45" fill="#a6a6e0" fill-opacity="0.8"/><circle cx="12.3" cy="24.0" r="0.45" fill="#a6a6e0" fill-opacity="0.8"/><circle cx="2.2" cy="20.8" r="0.45" fill="#a6a6e0" fill-opacity="0.8"/><circle cx="24.8" cy="12.6" r="0.45" fill="#a6a6e0" fill-opacity="0.8"/><circle cx="22.0" cy="0.9" r="0.45" fill="#a6a6e0" fill-opacity="0.8"/><circle cx="8.8" cy="23.4" r="0.45" fill="#a6a6e0" fill-opacity="0.8"/><circle cx="24.2" cy="9.5" r="0.45" fill="#c4c4ee" fill-opacity="0.8"/><circle cx="22.6" cy="9.7" r="0.45" fill="#a6a6e0" fill-opacity="0.8"/><circle cx="11.8" cy="14.5" r="0.45" fill="#e0e0f8" fill-opacity="0.8"/><circle cx="13.0" cy="17.8" r="0.45" fill="#e0e0f8" fill-opacity="0.8"/><circle cx="11.8" cy="11.5" r="0.45" fill="#34307a" fill-opacity="0.8"/><circle cx="4.4" cy="0.1" r="0.45" fill="#34307a" fill-opacity="0.8"/><circle cx="15.6" cy="27.6" r="0.45" fill="#a6a6e0" fill-opacity="0.8"/><circle cx="0.9" cy="12.8" r="0.45" fill="#e0e0f8" fill-opacity="0.8"/><circle cx="15.2" cy="24.9" r="0.45" fill="#c4c4ee" fill-opacity="0.8"/><circle cx="24.0" cy="27.2" r="0.45" fill="#c4c4ee" fill-opacity="0.8"/><circle cx="22.7" cy="1.3" r="0.45" fill="#a6a6e0" fill-opacity="0.8"/><circle cx="25.1" cy="25.2" r="0.45" fill="#c4c4ee" fill-opacity="0.8"/><circle cx="0.4" cy="20.9" r="0.45" fill="#a6a6e0" fill-opacity="0.8"/><circle cx="14.1" cy="6.7" r="0.45" fill="#c4c4ee" fill-opacity="0.8"/><circle cx="14.7" cy="11.6" r="0.45" fill="#c4c4ee" fill-opacity="0.8"/><circle cx="9.6" cy="7.1" r="0.45" fill="#34307a" fill-opacity="0.8"/><circle cx="22.7" cy="1.7" r="0.45" fill="#a6a6e0" fill-opacity="0.8"/><circle cx="5.5" cy="15.0" r="0.45" fill="#c4c4ee" fill-opacity="0.8"/><circle cx="4.8" cy="22.2" r="0.45" fill="#a6a6e0" fill-opacity="0.8"/><circle cx="23.1" cy="0.2" r="0.45" fill="#34307a" fill-opacity="0.8"/><circle cx="1.4" cy="7.6" r="0.45" fill="#e0e0f8" fill-opacity="0.8"/><circle cx="17.3" cy="14.6" r="0.45" fill="#c4c4ee" fill-opacity="0.8"/><circle cx="13.2" cy="21.7" r="0.45" fill="#c4c4ee" fill-opacity="0.8"/><circle cx="24.0" cy="21.7" r="0.45" fill="#c4c4ee" fill-opacity="0.8"/><circle cx="3.5" cy="1.9" r="0.45" fill="#c4c4ee" fill-opacity="0.8"/><circle cx="23.9" cy="2.4" r="0.45" fill="#34307a" fill-opacity="0.8"/><circle cx="8.8" cy="8.8" r="0.45" fill="#e0e0f8" fill-opacity="0.8"/><circle cx="10.8" cy="10.9" r="0.45" fill="#e0e0f8" fill-opacity="0.8"/><circle cx="10.1" cy="5.4" r="0.45" fill="#e0e0f8" fill-opacity="0.8"/><circle cx="12.0" cy="3.6" r="0.45" fill="#c4c4ee" fill-opacity="0.8"/><circle cx="20.0" cy="10.6" r="0.45" fill="#c4c4ee" fill-opacity="0.8"/><circle cx="15.9" cy="1.2" r="0.45" fill="#34307a" fill-opacity="0.8"/><circle cx="16.9" cy="21.9" r="0.45" fill="#34307a" fill-opacity="0.8"/><circle cx="17.8" cy="1.2" r="0.45" fill="#34307a" fill-opacity="0.8"/><circle cx="1.5" cy="17.6" r="0.45" fill="#e0e0f8" fill-opacity="0.8"/><circle cx="11.8" cy="19.4" r="0.45" fill="#34307a" fill-opacity="0.8"/><circle cx="0.5" cy="6.1" r="0.45" fill="#e0e0f8" fill-opacity="0.8"/><circle cx="19.5" cy="2.0" r="0.45" fill="#34307a" fill-opacity="0.8"/><circle cx="6.3" cy="3.7" r="0.45" fill="#c4c4ee" fill-opacity="0.8"/><circle cx="26.2" cy="10.5" r="0.45" fill="#e0e0f8" fill-opacity="0.8"/><circle cx="3.4" cy="19.3" r="0.45" fill="#34307a" fill-opacity="0.8"/><circle cx="18.7" cy="20.5" r="0.45" fill="#c4c4ee" fill-opacity="0.8"/><circle cx="22.7" cy="20.1" r="0.45" fill="#34307a" fill-opacity="0.8"/><circle cx="4.0" cy="21.7" r="0.45" fill="#c4c4ee" fill-opacity="0.8"/><circle cx="14.8" cy="15.8" r="0.45" fill="#34307a" fill-opacity="0.8"/><circle cx="5.0" cy="0.7" r="0.45" fill="#c4c4ee" fill-opacity="0.8"/><circle cx="0.7" cy="3.2" r="0.45" fill="#34307a" fill-opacity="0.8"/><circle cx="23.4" cy="26.7" r="0.45" fill="#e0e0f8" fill-opacity="0.8"/><circle cx="22.4" cy="1.0" r="0.45" fill="#a6a6e0" fill-opacity="0.8"/><circle cx="3.0" cy="21.0" r="0.45" fill="#c4c4ee" fill-opacity="0.8"/><circle cx="15.4" cy="24.3" r="0.45" fill="#a6a6e0" fill-opacity="0.8"/><circle cx="23.2" cy="6.8" r="0.45" fill="#a6a6e0" fill-opacity="0.8"/><circle cx="18.1" cy="12.7" r="0.45" fill="#34307a" fill-opacity="0.8"/><circle cx="7.1" cy="16.8" r="0.45" fill="#e0e0f8" fill-opacity="0.8"/><circle cx="15.6" cy="27.1" r="0.45" fill="#34307a" fill-opacity="0.8"/><circle cx="14.0" cy="27.2" r="0.45" fill="#34307a" fill-opacity="0.8"/><circle cx="23.6" cy="27.1" r="0.45" fill="#34307a" fill-opacity="0.8"/><circle cx="19.3" cy="21.2" r="0.45" fill="#34307a" fill-opacity="0.8"/><circle cx="4.4" cy="11.2" r="0.45" fill="#a6a6e0" fill-opacity="0.8"/><circle cx="4.6" cy="13.9" r="0.45" fill="#34307a" fill-opacity="0.8"/><circle cx="25.7" cy="14.5" r="0.45" fill="#34307a" fill-opacity="0.8"/><circle cx="16.4" cy="24.0" r="0.45" fill="#a6a6e0" fill-opacity="0.8"/><circle cx="7.5" cy="5.6" r="0.45" fill="#e0e0f8" fill-opacity="0.8"/><circle cx="26.2" cy="23.8" r="0.45" fill="#e0e0f8" fill-opacity="0.8"/><circle cx="18.8" cy="23.9" r="0.45" fill="#e0e0f8" fill-opacity="0.8"/><circle cx="24.9" cy="8.6" r="0.45" fill="#e0e0f8" fill-opacity="0.8"/><circle cx="13.4" cy="10.7" r="0.45" fill="#a6a6e0" fill-opacity="0.8"/><circle cx="16.0" cy="6.7" r="0.45" fill="#34307a" fill-opacity="0.8"/><circle cx="21.7" cy="4.0" r="0.45" fill="#34307a" fill-opacity="0.8"/><circle cx="19.6" cy="5.8" r="0.45" fill="#c4c4ee" fill-opacity="0.8"/><circle cx="13.5" cy="20.2" r="0.45" fill="#34307a" fill-opacity="0.8"/><circle cx="21.9" cy="24.7" r="0.45" fill="#c4c4ee" fill-opacity="0.8"/><circle cx="13.1" cy="6.4" r="0.45" fill="#a6a6e0" fill-opacity="0.8"/><circle cx="18.2" cy="21.8" r="0.45" fill="#c4c4ee" fill-opacity="0.8"/><circle cx="26.8" cy="23.9" r="0.45" fill="#a6a6e0" fill-opacity="0.8"/><circle cx="24.9" cy="21.7" r="0.45" fill="#a6a6e0" fill-opacity="0.8"/><circle cx="5.2" cy="19.7" r="0.45" fill="#c4c4ee" fill-opacity="0.8"/><circle cx="25.2" cy="7.1" r="0.45" fill="#c4c4ee" fill-opacity="0.8"/><circle cx="8.8" cy="11.9" r="0.45" fill="#c4c4ee" fill-opacity="0.8"/><circle cx="3.3" cy="7.4" r="0.45" fill="#e0e0f8" fill-opacity="0.8"/><circle cx="1.0" cy="12.7" r="0.45" fill="#e0e0f8" fill-opacity="0.8"/><circle cx="0.2" cy="9.4" r="0.45" fill="#34307a" fill-opacity="0.8"/><circle cx="10.6" cy="2.2" r="0.45" fill="#34307a" fill-opacity="0.8"/><circle cx="10.9" cy="15.2" r="0.45" fill="#c4c4ee" fill-opacity="0.8"/><circle cx="24.7" cy="2.1" r="0.45" fill="#34307a" fill-opacity="0.8"/><circle cx="3.2" cy="24.8" r="0.45" fill="#e0e0f8" fill-opacity="0.8"/><circle cx="2.7" cy="26.4" r="0.45" fill="#e0e0f8" fill-opacity="0.8"/><circle cx="19.0" cy="10.3" r="0.45" fill="#34307a" fill-opacity="0.8"/><circle cx="8.3" cy="18.9" r="0.45" fill="#e0e0f8" fill-opacity="0.8"/><circle cx="3.0" cy="26.4" r="0.45" fill="#e0e0f8" fill-opacity="0.8"/><circle cx="18.8" cy="15.0" r="0.45" fill="#c4c4ee" fill-opacity="0.8"/><circle cx="18.7" cy="14.2" r="0.45" fill="#c4c4ee" fill-opacity="0.8"/></pattern><pattern id="dkp" width="26" height="26" patternUnits="userSpaceOnUse"><circle cx="16.2" cy="19.3" r="0.45" fill="#2c2a5e" fill-opacity="0.9"/><circle cx="21.8" cy="20.2" r="0.45" fill="#7a2a8a" fill-opacity="0.9"/><circle cx="16.9" cy="23.4" r="0.45" fill="#2c2a5e" fill-opacity="0.9"/><circle cx="9.7" cy="22.6" r="0.45" fill="#3a2a6a" fill-opacity="0.9"/><circle cx="14.1" cy="14.9" r="0.45" fill="#2c2a5e" fill-opacity="0.9"/><circle cx="19.0" cy="10.6" r="0.45" fill="#7a2a8a" fill-opacity="0.9"/><circle cx="23.8" cy="19.9" r="0.45" fill="#7a2a8a" fill-opacity="0.9"/><circle cx="19.8" cy="1.9" r="0.45" fill="#3a2a6a" fill-opacity="0.9"/><circle cx="3.3" cy="0.0" r="0.45" fill="#2c2a5e" fill-opacity="0.9"/><circle cx="5.4" cy="5.6" r="0.45" fill="#7a2a8a" fill-opacity="0.9"/><circle cx="22.7" cy="7.5" r="0.45" fill="#7a2a8a" fill-opacity="0.9"/><circle cx="14.0" cy="17.6" r="0.45" fill="#7a2a8a" fill-opacity="0.9"/><circle cx="4.7" cy="25.2" r="0.45" fill="#7a2a8a" fill-opacity="0.9"/><circle cx="25.1" cy="23.2" r="0.45" fill="#5a3a3a" fill-opacity="0.9"/><circle cx="0.6" cy="10.8" r="0.45" fill="#7a2a8a" fill-opacity="0.9"/><circle cx="6.9" cy="8.6" r="0.45" fill="#2c2a5e" fill-opacity="0.9"/><circle cx="15.5" cy="18.4" r="0.45" fill="#2c2a5e" fill-opacity="0.9"/><circle cx="8.1" cy="21.3" r="0.45" fill="#3a2a6a" fill-opacity="0.9"/><circle cx="18.1" cy="4.8" r="0.45" fill="#3a2a6a" fill-opacity="0.9"/><circle cx="18.3" cy="1.5" r="0.45" fill="#2c2a5e" fill-opacity="0.9"/><circle cx="24.7" cy="9.3" r="0.45" fill="#3a2a6a" fill-opacity="0.9"/><circle cx="0.5" cy="20.5" r="0.45" fill="#5a3a3a" fill-opacity="0.9"/><circle cx="9.8" cy="21.9" r="0.45" fill="#3a2a6a" fill-opacity="0.9"/><circle cx="1.2" cy="4.7" r="0.45" fill="#7a2a8a" fill-opacity="0.9"/><circle cx="3.1" cy="6.4" r="0.45" fill="#3a2a6a" fill-opacity="0.9"/><circle cx="9.0" cy="9.2" r="0.45" fill="#5a3a3a" fill-opacity="0.9"/><circle cx="20.2" cy="2.8" r="0.45" fill="#5a3a3a" fill-opacity="0.9"/><circle cx="22.4" cy="1.0" r="0.45" fill="#2c2a5e" fill-opacity="0.9"/><circle cx="5.4" cy="13.3" r="0.45" fill="#5a3a3a" fill-opacity="0.9"/><circle cx="23.9" cy="8.8" r="0.45" fill="#2c2a5e" fill-opacity="0.9"/><circle cx="8.1" cy="8.2" r="0.45" fill="#7a2a8a" fill-opacity="0.9"/><circle cx="20.8" cy="16.3" r="0.45" fill="#5a3a3a" fill-opacity="0.9"/><circle cx="25.9" cy="4.2" r="0.45" fill="#2c2a5e" fill-opacity="0.9"/><circle cx="2.1" cy="15.6" r="0.45" fill="#3a2a6a" fill-opacity="0.9"/><circle cx="0.8" cy="19.3" r="0.45" fill="#5a3a3a" fill-opacity="0.9"/><circle cx="21.5" cy="11.8" r="0.45" fill="#3a2a6a" fill-opacity="0.9"/><circle cx="3.8" cy="25.5" r="0.45" fill="#2c2a5e" fill-opacity="0.9"/><circle cx="20.8" cy="8.7" r="0.45" fill="#7a2a8a" fill-opacity="0.9"/><circle cx="3.4" cy="19.0" r="0.45" fill="#7a2a8a" fill-opacity="0.9"/><circle cx="16.4" cy="20.5" r="0.45" fill="#2c2a5e" fill-opacity="0.9"/><circle cx="4.4" cy="9.7" r="0.45" fill="#2c2a5e" fill-opacity="0.9"/><circle cx="22.0" cy="7.7" r="0.45" fill="#3a2a6a" fill-opacity="0.9"/><circle cx="24.0" cy="16.1" r="0.45" fill="#7a2a8a" fill-opacity="0.9"/><circle cx="25.4" cy="11.8" r="0.45" fill="#3a2a6a" fill-opacity="0.9"/><circle cx="17.9" cy="8.3" r="0.45" fill="#5a3a3a" fill-opacity="0.9"/><circle cx="7.6" cy="10.5" r="0.45" fill="#7a2a8a" fill-opacity="0.9"/><circle cx="2.9" cy="21.4" r="0.45" fill="#7a2a8a" fill-opacity="0.9"/><circle cx="16.3" cy="13.0" r="0.45" fill="#5a3a3a" fill-opacity="0.9"/><circle cx="4.7" cy="12.8" r="0.45" fill="#5a3a3a" fill-opacity="0.9"/><circle cx="1.6" cy="20.7" r="0.45" fill="#5a3a3a" fill-opacity="0.9"/></pattern><pattern id="dks" width="26" height="26" patternUnits="userSpaceOnUse"><circle cx="20.6" cy="21.4" r="0.45" fill="#3a2a4a" fill-opacity="0.9"/><circle cx="19.8" cy="1.0" r="0.45" fill="#2c2a5e" fill-opacity="0.9"/><circle cx="17.2" cy="12.2" r="0.45" fill="#5a3a3a" fill-opacity="0.9"/><circle cx="9.7" cy="20.0" r="0.45" fill="#3a2a4a" fill-opacity="0.9"/><circle cx="12.7" cy="5.2" r="0.45" fill="#3a2a4a" fill-opacity="0.9"/><circle cx="23.7" cy="14.0" r="0.45" fill="#2c2a5e" fill-opacity="0.9"/><circle cx="5.0" cy="14.4" r="0.45" fill="#5a3a3a" fill-opacity="0.9"/><circle cx="6.9" cy="20.9" r="0.45" fill="#5a3a3a" fill-opacity="0.9"/><circle cx="2.3" cy="11.0" r="0.45" fill="#2c2a5e" fill-opacity="0.9"/><circle cx="9.4" cy="10.7" r="0.45" fill="#3a2a4a" fill-opacity="0.9"/><circle cx="11.6" cy="2.4" r="0.45" fill="#2c2a5e" fill-opacity="0.9"/><circle cx="18.2" cy="20.7" r="0.45" fill="#2c2a5e" fill-opacity="0.9"/><circle cx="24.7" cy="15.3" r="0.45" fill="#2c2a5e" fill-opacity="0.9"/><circle cx="21.5" cy="23.7" r="0.45" fill="#3a2a4a" fill-opacity="0.9"/><circle cx="24.3" cy="23.6" r="0.45" fill="#5a3a3a" fill-opacity="0.9"/><circle cx="15.0" cy="25.2" r="0.45" fill="#5a3a3a" fill-opacity="0.9"/><circle cx="25.4" cy="0.7" r="0.45" fill="#3a2a4a" fill-opacity="0.9"/><circle cx="6.4" cy="11.2" r="0.45" fill="#3a2a4a" fill-opacity="0.9"/></pattern><pattern id="ltp" width="24" height="24" patternUnits="userSpaceOnUse"><circle cx="11.1" cy="9.0" r="0.45" fill="#f4c070" fill-opacity="0.9"/><circle cx="4.5" cy="16.2" r="0.45" fill="#f08040" fill-opacity="0.9"/><circle cx="12.1" cy="21.6" r="0.45" fill="#f6a060" fill-opacity="0.9"/><circle cx="8.0" cy="22.5" r="0.45" fill="#f6a060" fill-opacity="0.9"/><circle cx="17.5" cy="4.1" r="0.45" fill="#ffe0a0" fill-opacity="0.9"/><circle cx="22.8" cy="10.1" r="0.45" fill="#f4c070" fill-opacity="0.9"/><circle cx="5.7" cy="2.7" r="0.45" fill="#f6a060" fill-opacity="0.9"/><circle cx="18.6" cy="9.2" r="0.45" fill="#f6a060" fill-opacity="0.9"/><circle cx="22.1" cy="4.9" r="0.45" fill="#f4c070" fill-opacity="0.9"/><circle cx="17.4" cy="10.1" r="0.45" fill="#f6a060" fill-opacity="0.9"/><circle cx="18.5" cy="21.9" r="0.45" fill="#ffe0a0" fill-opacity="0.9"/><circle cx="6.7" cy="19.4" r="0.45" fill="#f4c070" fill-opacity="0.9"/><circle cx="17.0" cy="0.1" r="0.45" fill="#ffe0a0" fill-opacity="0.9"/><circle cx="1.3" cy="9.1" r="0.45" fill="#ffe0a0" fill-opacity="0.9"/><circle cx="3.3" cy="5.7" r="0.45" fill="#f6a060" fill-opacity="0.9"/><circle cx="23.1" cy="0.1" r="0.45" fill="#f4c070" fill-opacity="0.9"/><circle cx="21.5" cy="4.9" r="0.45" fill="#f6a060" fill-opacity="0.9"/><circle cx="21.4" cy="3.2" r="0.45" fill="#f6a060" fill-opacity="0.9"/><circle cx="12.0" cy="13.8" r="0.45" fill="#f4c070" fill-opacity="0.9"/><circle cx="10.1" cy="9.6" r="0.45" fill="#f6a060" fill-opacity="0.9"/><circle cx="16.8" cy="3.5" r="0.45" fill="#f6a060" fill-opacity="0.9"/><circle cx="1.3" cy="13.3" r="0.45" fill="#f4c070" fill-opacity="0.9"/><circle cx="17.9" cy="17.7" r="0.45" fill="#f6a060" fill-opacity="0.9"/><circle cx="2.9" cy="16.9" r="0.45" fill="#f4c070" fill-opacity="0.9"/><circle cx="3.9" cy="12.1" r="0.45" fill="#f08040" fill-opacity="0.9"/><circle cx="20.3" cy="12.5" r="0.45" fill="#f6a060" fill-opacity="0.9"/><circle cx="20.8" cy="2.6" r="0.45" fill="#f08040" fill-opacity="0.9"/><circle cx="10.8" cy="9.7" r="0.45" fill="#f6a060" fill-opacity="0.9"/><circle cx="9.1" cy="14.6" r="0.45" fill="#f6a060" fill-opacity="0.9"/><circle cx="10.4" cy="5.1" r="0.45" fill="#ffe0a0" fill-opacity="0.9"/><circle cx="6.5" cy="19.6" r="0.45" fill="#f08040" fill-opacity="0.9"/><circle cx="15.1" cy="2.5" r="0.45" fill="#f6a060" fill-opacity="0.9"/><circle cx="0.6" cy="18.7" r="0.45" fill="#ffe0a0" fill-opacity="0.9"/><circle cx="11.9" cy="17.0" r="0.45" fill="#f4c070" fill-opacity="0.9"/><circle cx="13.6" cy="1.6" r="0.45" fill="#f4c070" fill-opacity="0.9"/><circle cx="2.3" cy="18.3" r="0.45" fill="#f08040" fill-opacity="0.9"/><circle cx="22.9" cy="13.5" r="0.45" fill="#f4c070" fill-opacity="0.9"/><circle cx="16.0" cy="4.1" r="0.45" fill="#f08040" fill-opacity="0.9"/><circle cx="0.7" cy="22.5" r="0.45" fill="#f4c070" fill-opacity="0.9"/><circle cx="6.3" cy="3.9" r="0.45" fill="#f6a060" fill-opacity="0.9"/><circle cx="14.6" cy="0.3" r="0.45" fill="#f6a060" fill-opacity="0.9"/><circle cx="10.8" cy="18.9" r="0.45" fill="#f08040" fill-opacity="0.9"/><circle cx="14.7" cy="23.2" r="0.45" fill="#f08040" fill-opacity="0.9"/><circle cx="6.8" cy="11.5" r="0.45" fill="#f08040" fill-opacity="0.9"/><circle cx="3.3" cy="2.1" r="0.45" fill="#f08040" fill-opacity="0.9"/><circle cx="16.7" cy="1.6" r="0.45" fill="#ffe0a0" fill-opacity="0.9"/><circle cx="3.4" cy="13.5" r="0.45" fill="#ffe0a0" fill-opacity="0.9"/><circle cx="14.1" cy="19.3" r="0.45" fill="#f08040" fill-opacity="0.9"/><circle cx="18.5" cy="21.1" r="0.45" fill="#ffe0a0" fill-opacity="0.9"/><circle cx="8.4" cy="22.2" r="0.45" fill="#f08040" fill-opacity="0.9"/><circle cx="12.7" cy="4.2" r="0.45" fill="#f6a060" fill-opacity="0.9"/><circle cx="3.9" cy="19.0" r="0.45" fill="#f6a060" fill-opacity="0.9"/><circle cx="4.9" cy="11.4" r="0.45" fill="#ffe0a0" fill-opacity="0.9"/><circle cx="2.0" cy="13.2" r="0.45" fill="#f08040" fill-opacity="0.9"/><circle cx="12.9" cy="22.6" r="0.45" fill="#f6a060" fill-opacity="0.9"/><circle cx="13.9" cy="14.0" r="0.45" fill="#ffe0a0" fill-opacity="0.9"/><circle cx="13.1" cy="12.6" r="0.45" fill="#f6a060" fill-opacity="0.9"/><circle cx="21.1" cy="13.8" r="0.45" fill="#f08040" fill-opacity="0.9"/><circle cx="1.5" cy="5.4" r="0.45" fill="#f4c070" fill-opacity="0.9"/><circle cx="2.5" cy="16.8" r="0.45" fill="#ffe0a0" fill-opacity="0.9"/><circle cx="1.5" cy="21.3" r="0.45" fill="#f6a060" fill-opacity="0.9"/><circle cx="16.3" cy="0.7" r="0.45" fill="#f4c070" fill-opacity="0.9"/><circle cx="21.1" cy="5.5" r="0.45" fill="#ffe0a0" fill-opacity="0.9"/><circle cx="21.0" cy="0.9" r="0.45" fill="#f6a060" fill-opacity="0.9"/><circle cx="14.7" cy="16.3" r="0.45" fill="#ffe0a0" fill-opacity="0.9"/><circle cx="14.1" cy="1.9" r="0.45" fill="#f6a060" fill-opacity="0.9"/><circle cx="14.6" cy="4.4" r="0.45" fill="#f6a060" fill-opacity="0.9"/><circle cx="0.7" cy="15.0" r="0.45" fill="#ffe0a0" fill-opacity="0.9"/><circle cx="0.6" cy="18.6" r="0.45" fill="#f08040" fill-opacity="0.9"/><circle cx="2.0" cy="7.7" r="0.45" fill="#ffe0a0" fill-opacity="0.9"/><circle cx="22.9" cy="14.2" r="0.45" fill="#ffe0a0" fill-opacity="0.9"/><circle cx="23.7" cy="20.0" r="0.45" fill="#f6a060" fill-opacity="0.9"/><circle cx="21.4" cy="16.1" r="0.45" fill="#ffe0a0" fill-opacity="0.9"/><circle cx="18.7" cy="4.6" r="0.45" fill="#f4c070" fill-opacity="0.9"/><circle cx="2.6" cy="1.3" r="0.45" fill="#f6a060" fill-opacity="0.9"/><circle cx="22.5" cy="23.4" r="0.45" fill="#f08040" fill-opacity="0.9"/><circle cx="2.5" cy="0.6" r="0.45" fill="#f4c070" fill-opacity="0.9"/><circle cx="8.9" cy="15.2" r="0.45" fill="#f4c070" fill-opacity="0.9"/><circle cx="0.1" cy="18.3" r="0.45" fill="#f4c070" fill-opacity="0.9"/><circle cx="0.4" cy="6.1" r="0.45" fill="#f6a060" fill-opacity="0.9"/><circle cx="23.1" cy="12.5" r="0.45" fill="#ffe0a0" fill-opacity="0.9"/><circle cx="1.4" cy="6.0" r="0.45" fill="#f08040" fill-opacity="0.9"/><circle cx="14.5" cy="5.3" r="0.45" fill="#f6a060" fill-opacity="0.9"/><circle cx="16.3" cy="3.2" r="0.45" fill="#f6a060" fill-opacity="0.9"/><circle cx="19.2" cy="23.4" r="0.45" fill="#ffe0a0" fill-opacity="0.9"/><circle cx="22.3" cy="21.0" r="0.45" fill="#f08040" fill-opacity="0.9"/><circle cx="23.2" cy="2.3" r="0.45" fill="#f08040" fill-opacity="0.9"/><circle cx="10.5" cy="10.0" r="0.45" fill="#f08040" fill-opacity="0.9"/><circle cx="11.8" cy="8.3" r="0.45" fill="#ffe0a0" fill-opacity="0.9"/><circle cx="10.3" cy="1.9" r="0.45" fill="#f08040" fill-opacity="0.9"/></pattern><pattern id="ltp2" width="30" height="30" patternUnits="userSpaceOnUse"><circle cx="4.9" cy="20.7" r="0.5" fill="#8a2a9a" fill-opacity="0.85"/><circle cx="8.4" cy="25.3" r="0.5" fill="#ffffff" fill-opacity="0.85"/><circle cx="24.2" cy="15.4" r="0.5" fill="#ffe070" fill-opacity="0.85"/><circle cx="15.8" cy="23.7" r="0.5" fill="#f6a060" fill-opacity="0.85"/><circle cx="11.1" cy="17.6" r="0.5" fill="#f6a060" fill-opacity="0.85"/><circle cx="4.3" cy="22.5" r="0.5" fill="#f4d070" fill-opacity="0.85"/><circle cx="20.8" cy="13.1" r="0.5" fill="#8a2a9a" fill-opacity="0.85"/><circle cx="23.1" cy="12.2" r="0.5" fill="#ffffff" fill-opacity="0.85"/><circle cx="1.0" cy="9.9" r="0.5" fill="#ffffff" fill-opacity="0.85"/><circle cx="20.8" cy="19.5" r="0.5" fill="#f08040" fill-opacity="0.85"/><circle cx="0.7" cy="22.2" r="0.5" fill="#f6a060" fill-opacity="0.85"/><circle cx="3.7" cy="27.8" r="0.5" fill="#ffffff" fill-opacity="0.85"/><circle cx="4.8" cy="21.9" r="0.5" fill="#ffffff" fill-opacity="0.85"/><circle cx="14.5" cy="5.6" r="0.5" fill="#f6a060" fill-opacity="0.85"/><circle cx="14.1" cy="24.6" r="0.5" fill="#f6a060" fill-opacity="0.85"/><circle cx="23.4" cy="6.3" r="0.5" fill="#8a2a9a" fill-opacity="0.85"/><circle cx="22.6" cy="22.9" r="0.5" fill="#ffe070" fill-opacity="0.85"/><circle cx="29.7" cy="2.1" r="0.5" fill="#ffe070" fill-opacity="0.85"/><circle cx="14.3" cy="24.8" r="0.5" fill="#f4d070" fill-opacity="0.85"/><circle cx="10.2" cy="4.4" r="0.5" fill="#ffe070" fill-opacity="0.85"/><circle cx="12.3" cy="11.0" r="0.5" fill="#ffffff" fill-opacity="0.85"/><circle cx="15.0" cy="9.5" r="0.5" fill="#ffffff" fill-opacity="0.85"/><circle cx="11.6" cy="0.8" r="0.5" fill="#f6a060" fill-opacity="0.85"/><circle cx="4.8" cy="21.5" r="0.5" fill="#ffffff" fill-opacity="0.85"/><circle cx="0.1" cy="2.1" r="0.5" fill="#ffe070" fill-opacity="0.85"/><circle cx="22.4" cy="6.7" r="0.5" fill="#ffe070" fill-opacity="0.85"/><circle cx="9.6" cy="29.4" r="0.5" fill="#f6a060" fill-opacity="0.85"/><circle cx="5.4" cy="5.1" r="0.5" fill="#f08040" fill-opacity="0.85"/><circle cx="25.0" cy="10.0" r="0.5" fill="#ffe070" fill-opacity="0.85"/><circle cx="27.9" cy="7.4" r="0.5" fill="#f4d070" fill-opacity="0.85"/><circle cx="2.0" cy="24.4" r="0.5" fill="#ffffff" fill-opacity="0.85"/><circle cx="11.2" cy="20.5" r="0.5" fill="#8a2a9a" fill-opacity="0.85"/><circle cx="15.6" cy="19.7" r="0.5" fill="#f4d070" fill-opacity="0.85"/><circle cx="12.2" cy="29.7" r="0.5" fill="#8a2a9a" fill-opacity="0.85"/><circle cx="17.7" cy="26.5" r="0.5" fill="#ffffff" fill-opacity="0.85"/><circle cx="15.2" cy="20.0" r="0.5" fill="#f4d070" fill-opacity="0.85"/><circle cx="4.9" cy="2.1" r="0.5" fill="#ffffff" fill-opacity="0.85"/><circle cx="23.2" cy="14.5" r="0.5" fill="#f08040" fill-opacity="0.85"/><circle cx="1.6" cy="7.7" r="0.5" fill="#f08040" fill-opacity="0.85"/><circle cx="1.0" cy="7.5" r="0.5" fill="#ffffff" fill-opacity="0.85"/><circle cx="2.1" cy="10.1" r="0.5" fill="#f4d070" fill-opacity="0.85"/><circle cx="29.5" cy="22.4" r="0.5" fill="#ffffff" fill-opacity="0.85"/><circle cx="1.5" cy="4.2" r="0.5" fill="#8a2a9a" fill-opacity="0.85"/><circle cx="15.8" cy="21.9" r="0.5" fill="#f6a060" fill-opacity="0.85"/><circle cx="28.6" cy="27.0" r="0.5" fill="#f08040" fill-opacity="0.85"/><circle cx="23.9" cy="26.4" r="0.5" fill="#ffe070" fill-opacity="0.85"/><circle cx="23.2" cy="14.5" r="0.5" fill="#ffffff" fill-opacity="0.85"/><circle cx="9.2" cy="16.0" r="0.5" fill="#f08040" fill-opacity="0.85"/><circle cx="4.2" cy="21.6" r="0.5" fill="#ffffff" fill-opacity="0.85"/><circle cx="20.6" cy="28.6" r="0.5" fill="#f6a060" fill-opacity="0.85"/><circle cx="7.9" cy="9.8" r="0.5" fill="#f4d070" fill-opacity="0.85"/><circle cx="25.6" cy="17.5" r="0.5" fill="#f08040" fill-opacity="0.85"/><circle cx="20.5" cy="22.5" r="0.5" fill="#f4d070" fill-opacity="0.85"/><circle cx="4.0" cy="2.8" r="0.5" fill="#f6a060" fill-opacity="0.85"/><circle cx="5.6" cy="19.3" r="0.5" fill="#f4d070" fill-opacity="0.85"/><circle cx="2.2" cy="3.6" r="0.5" fill="#f08040" fill-opacity="0.85"/><circle cx="3.8" cy="16.2" r="0.5" fill="#f08040" fill-opacity="0.85"/><circle cx="11.9" cy="26.6" r="0.5" fill="#ffe070" fill-opacity="0.85"/><circle cx="5.0" cy="5.5" r="0.5" fill="#ffffff" fill-opacity="0.85"/><circle cx="6.0" cy="22.3" r="0.5" fill="#f6a060" fill-opacity="0.85"/><circle cx="18.1" cy="15.1" r="0.5" fill="#8a2a9a" fill-opacity="0.85"/><circle cx="23.2" cy="23.7" r="0.5" fill="#f6a060" fill-opacity="0.85"/><circle cx="11.6" cy="25.9" r="0.5" fill="#ffffff" fill-opacity="0.85"/><circle cx="22.9" cy="5.3" r="0.5" fill="#8a2a9a" fill-opacity="0.85"/><circle cx="7.0" cy="28.9" r="0.5" fill="#ffe070" fill-opacity="0.85"/><circle cx="9.4" cy="1.3" r="0.5" fill="#ffffff" fill-opacity="0.85"/><circle cx="4.7" cy="21.8" r="0.5" fill="#f08040" fill-opacity="0.85"/><circle cx="24.5" cy="24.1" r="0.5" fill="#ffffff" fill-opacity="0.85"/><circle cx="28.4" cy="3.0" r="0.5" fill="#ffe070" fill-opacity="0.85"/><circle cx="1.8" cy="17.8" r="0.5" fill="#f08040" fill-opacity="0.85"/><circle cx="29.0" cy="9.3" r="0.5" fill="#8a2a9a" fill-opacity="0.85"/><circle cx="18.7" cy="22.7" r="0.5" fill="#f4d070" fill-opacity="0.85"/><circle cx="1.9" cy="24.4" r="0.5" fill="#f4d070" fill-opacity="0.85"/><circle cx="10.7" cy="9.5" r="0.5" fill="#ffffff" fill-opacity="0.85"/><circle cx="3.2" cy="2.3" r="0.5" fill="#f6a060" fill-opacity="0.85"/><circle cx="18.8" cy="24.2" r="0.5" fill="#ffffff" fill-opacity="0.85"/><circle cx="15.2" cy="28.4" r="0.5" fill="#8a2a9a" fill-opacity="0.85"/><circle cx="19.3" cy="13.3" r="0.5" fill="#ffe070" fill-opacity="0.85"/><circle cx="15.4" cy="26.3" r="0.5" fill="#f6a060" fill-opacity="0.85"/><circle cx="6.8" cy="1.5" r="0.5" fill="#ffffff" fill-opacity="0.85"/><circle cx="1.3" cy="8.3" r="0.5" fill="#ffe070" fill-opacity="0.85"/><circle cx="24.5" cy="21.7" r="0.5" fill="#ffffff" fill-opacity="0.85"/><circle cx="23.9" cy="12.0" r="0.5" fill="#f08040" fill-opacity="0.85"/><circle cx="14.6" cy="19.0" r="0.5" fill="#8a2a9a" fill-opacity="0.85"/><circle cx="2.6" cy="14.4" r="0.5" fill="#ffffff" fill-opacity="0.85"/><circle cx="11.2" cy="18.1" r="0.5" fill="#f4d070" fill-opacity="0.85"/><circle cx="23.4" cy="18.8" r="0.5" fill="#ffe070" fill-opacity="0.85"/><circle cx="20.0" cy="25.8" r="0.5" fill="#8a2a9a" fill-opacity="0.85"/><circle cx="24.6" cy="7.9" r="0.5" fill="#ffffff" fill-opacity="0.85"/><circle cx="27.5" cy="11.6" r="0.5" fill="#ffe070" fill-opacity="0.85"/><circle cx="11.5" cy="15.7" r="0.5" fill="#8a2a9a" fill-opacity="0.85"/><circle cx="29.7" cy="0.2" r="0.5" fill="#f08040" fill-opacity="0.85"/><circle cx="6.1" cy="26.3" r="0.5" fill="#8a2a9a" fill-opacity="0.85"/><circle cx="4.4" cy="16.6" r="0.5" fill="#f6a060" fill-opacity="0.85"/><circle cx="15.7" cy="18.6" r="0.5" fill="#ffffff" fill-opacity="0.85"/><circle cx="22.3" cy="13.9" r="0.5" fill="#f6a060" fill-opacity="0.85"/><circle cx="29.7" cy="5.0" r="0.5" fill="#ffffff" fill-opacity="0.85"/><circle cx="6.2" cy="10.1" r="0.5" fill="#8a2a9a" fill-opacity="0.85"/><circle cx="17.5" cy="5.7" r="0.5" fill="#f6a060" fill-opacity="0.85"/><circle cx="28.5" cy="9.7" r="0.5" fill="#f08040" fill-opacity="0.85"/><circle cx="28.3" cy="29.0" r="0.5" fill="#8a2a9a" fill-opacity="0.85"/><circle cx="15.2" cy="7.2" r="0.5" fill="#8a2a9a" fill-opacity="0.85"/><circle cx="8.3" cy="11.4" r="0.5" fill="#ffffff" fill-opacity="0.85"/><circle cx="14.0" cy="13.1" r="0.5" fill="#ffe070" fill-opacity="0.85"/><circle cx="20.0" cy="20.1" r="0.5" fill="#8a2a9a" fill-opacity="0.85"/><circle cx="11.5" cy="8.2" r="0.5" fill="#f4d070" fill-opacity="0.85"/><circle cx="29.3" cy="6.5" r="0.5" fill="#f08040" fill-opacity="0.85"/><circle cx="24.3" cy="28.0" r="0.5" fill="#8a2a9a" fill-opacity="0.85"/><circle cx="11.0" cy="2.2" r="0.5" fill="#ffe070" fill-opacity="0.85"/><circle cx="1.2" cy="18.2" r="0.5" fill="#8a2a9a" fill-opacity="0.85"/><circle cx="13.5" cy="29.7" r="0.5" fill="#ffe070" fill-opacity="0.85"/><circle cx="4.4" cy="29.2" r="0.5" fill="#f4d070" fill-opacity="0.85"/><circle cx="13.6" cy="26.8" r="0.5" fill="#f08040" fill-opacity="0.85"/><circle cx="5.0" cy="17.1" r="0.5" fill="#ffffff" fill-opacity="0.85"/><circle cx="15.9" cy="1.5" r="0.5" fill="#f4d070" fill-opacity="0.85"/><circle cx="12.5" cy="26.5" r="0.5" fill="#f4d070" fill-opacity="0.85"/><circle cx="6.8" cy="24.1" r="0.5" fill="#ffe070" fill-opacity="0.85"/><circle cx="27.8" cy="26.5" r="0.5" fill="#f6a060" fill-opacity="0.85"/><circle cx="19.8" cy="2.2" r="0.5" fill="#ffffff" fill-opacity="0.85"/><circle cx="27.0" cy="22.4" r="0.5" fill="#8a2a9a" fill-opacity="0.85"/><circle cx="5.6" cy="1.8" r="0.5" fill="#ffe070" fill-opacity="0.85"/><circle cx="18.2" cy="18.6" r="0.5" fill="#ffffff" fill-opacity="0.85"/><circle cx="20.4" cy="20.3" r="0.5" fill="#f4d070" fill-opacity="0.85"/><circle cx="8.1" cy="10.6" r="0.5" fill="#f08040" fill-opacity="0.85"/><circle cx="19.2" cy="0.3" r="0.5" fill="#f6a060" fill-opacity="0.85"/><circle cx="20.0" cy="5.6" r="0.5" fill="#f6a060" fill-opacity="0.85"/><circle cx="20.3" cy="5.7" r="0.5" fill="#f08040" fill-opacity="0.85"/><circle cx="10.6" cy="4.9" r="0.5" fill="#ffe070" fill-opacity="0.85"/><circle cx="14.9" cy="20.4" r="0.5" fill="#8a2a9a" fill-opacity="0.85"/><circle cx="12.0" cy="1.0" r="0.5" fill="#f4d070" fill-opacity="0.85"/><circle cx="27.9" cy="16.2" r="0.5" fill="#ffffff" fill-opacity="0.85"/><circle cx="6.0" cy="5.8" r="0.5" fill="#ffe070" fill-opacity="0.85"/><circle cx="12.7" cy="9.7" r="0.5" fill="#f4d070" fill-opacity="0.85"/><circle cx="6.4" cy="1.2" r="0.5" fill="#f08040" fill-opacity="0.85"/><circle cx="18.2" cy="19.0" r="0.5" fill="#8a2a9a" fill-opacity="0.85"/><circle cx="5.2" cy="21.3" r="0.5" fill="#ffffff" fill-opacity="0.85"/><circle cx="14.4" cy="25.9" r="0.5" fill="#ffffff" fill-opacity="0.85"/><circle cx="24.2" cy="27.2" r="0.5" fill="#8a2a9a" fill-opacity="0.85"/><circle cx="1.7" cy="20.4" r="0.5" fill="#8a2a9a" fill-opacity="0.85"/><circle cx="27.1" cy="16.0" r="0.5" fill="#f6a060" fill-opacity="0.85"/><circle cx="29.1" cy="11.7" r="0.5" fill="#ffffff" fill-opacity="0.85"/><circle cx="28.1" cy="23.8" r="0.5" fill="#f6a060" fill-opacity="0.85"/><circle cx="27.4" cy="5.2" r="0.5" fill="#f08040" fill-opacity="0.85"/><circle cx="18.2" cy="22.7" r="0.5" fill="#8a2a9a" fill-opacity="0.85"/><circle cx="22.5" cy="5.5" r="0.5" fill="#ffe070" fill-opacity="0.85"/><circle cx="15.0" cy="12.4" r="0.5" fill="#f4d070" fill-opacity="0.85"/><circle cx="29.9" cy="16.6" r="0.5" fill="#ffffff" fill-opacity="0.85"/><circle cx="22.2" cy="26.5" r="0.5" fill="#f08040" fill-opacity="0.85"/><circle cx="27.3" cy="7.2" r="0.5" fill="#ffe070" fill-opacity="0.85"/><circle cx="5.3" cy="16.2" r="0.5" fill="#f08040" fill-opacity="0.85"/><circle cx="17.2" cy="29.8" r="0.5" fill="#ffffff" fill-opacity="0.85"/><circle cx="28.6" cy="22.7" r="0.5" fill="#8a2a9a" fill-opacity="0.85"/><circle cx="22.2" cy="22.3" r="0.5" fill="#f4d070" fill-opacity="0.85"/><circle cx="27.8" cy="15.7" r="0.5" fill="#ffe070" fill-opacity="0.85"/><circle cx="8.9" cy="4.8" r="0.5" fill="#8a2a9a" fill-opacity="0.85"/><circle cx="12.7" cy="19.2" r="0.5" fill="#ffffff" fill-opacity="0.85"/><circle cx="22.5" cy="19.5" r="0.5" fill="#f08040" fill-opacity="0.85"/><circle cx="5.5" cy="24.8" r="0.5" fill="#f4d070" fill-opacity="0.85"/><circle cx="14.7" cy="8.0" r="0.5" fill="#ffe070" fill-opacity="0.85"/><circle cx="25.8" cy="6.2" r="0.5" fill="#f08040" fill-opacity="0.85"/><circle cx="17.6" cy="24.1" r="0.5" fill="#8a2a9a" fill-opacity="0.85"/><circle cx="4.2" cy="6.6" r="0.5" fill="#f4d070" fill-opacity="0.85"/><circle cx="11.3" cy="11.8" r="0.5" fill="#f6a060" fill-opacity="0.85"/><circle cx="23.3" cy="26.0" r="0.5" fill="#f08040" fill-opacity="0.85"/><circle cx="17.3" cy="29.9" r="0.5" fill="#f4d070" fill-opacity="0.85"/><circle cx="14.6" cy="26.1" r="0.5" fill="#ffe070" fill-opacity="0.85"/><circle cx="24.4" cy="14.5" r="0.5" fill="#f6a060" fill-opacity="0.85"/><circle cx="0.8" cy="27.5" r="0.5" fill="#f4d070" fill-opacity="0.85"/><circle cx="15.0" cy="13.8" r="0.5" fill="#ffffff" fill-opacity="0.85"/><circle cx="16.9" cy="13.4" r="0.5" fill="#8a2a9a" fill-opacity="0.85"/><circle cx="20.8" cy="26.0" r="0.5" fill="#f6a060" fill-opacity="0.85"/><circle cx="11.2" cy="7.5" r="0.5" fill="#ffffff" fill-opacity="0.85"/><circle cx="23.8" cy="27.8" r="0.5" fill="#f4d070" fill-opacity="0.85"/><circle cx="17.9" cy="10.0" r="0.5" fill="#f6a060" fill-opacity="0.85"/><circle cx="22.4" cy="7.5" r="0.5" fill="#f4d070" fill-opacity="0.85"/><circle cx="4.4" cy="24.9" r="0.5" fill="#f08040" fill-opacity="0.85"/><circle cx="3.1" cy="18.5" r="0.5" fill="#8a2a9a" fill-opacity="0.85"/><circle cx="6.5" cy="6.2" r="0.5" fill="#ffffff" fill-opacity="0.85"/><circle cx="23.1" cy="14.9" r="0.5" fill="#f6a060" fill-opacity="0.85"/><circle cx="20.6" cy="10.1" r="0.5" fill="#8a2a9a" fill-opacity="0.85"/><circle cx="15.7" cy="0.3" r="0.5" fill="#f4d070" fill-opacity="0.85"/><circle cx="8.5" cy="7.9" r="0.5" fill="#ffffff" fill-opacity="0.85"/><circle cx="1.8" cy="22.7" r="0.5" fill="#ffe070" fill-opacity="0.85"/><circle cx="19.6" cy="0.6" r="0.5" fill="#8a2a9a" fill-opacity="0.85"/><circle cx="7.0" cy="21.1" r="0.5" fill="#ffffff" fill-opacity="0.85"/><circle cx="15.0" cy="28.9" r="0.5" fill="#f08040" fill-opacity="0.85"/><circle cx="13.0" cy="0.6" r="0.5" fill="#f08040" fill-opacity="0.85"/><circle cx="4.3" cy="12.1" r="0.5" fill="#ffffff" fill-opacity="0.85"/><circle cx="19.1" cy="13.7" r="0.5" fill="#ffe070" fill-opacity="0.85"/><circle cx="17.6" cy="13.2" r="0.5" fill="#f4d070" fill-opacity="0.85"/><circle cx="0.6" cy="19.3" r="0.5" fill="#ffffff" fill-opacity="0.85"/><circle cx="25.3" cy="23.2" r="0.5" fill="#ffe070" fill-opacity="0.85"/><circle cx="22.5" cy="10.3" r="0.5" fill="#f4d070" fill-opacity="0.85"/><circle cx="5.0" cy="24.0" r="0.5" fill="#f08040" fill-opacity="0.85"/><circle cx="20.8" cy="9.0" r="0.5" fill="#f6a060" fill-opacity="0.85"/><circle cx="13.7" cy="6.1" r="0.5" fill="#f6a060" fill-opacity="0.85"/><circle cx="18.7" cy="25.4" r="0.5" fill="#f4d070" fill-opacity="0.85"/><circle cx="16.5" cy="5.0" r="0.5" fill="#8a2a9a" fill-opacity="0.85"/><circle cx="3.5" cy="12.2" r="0.5" fill="#f6a060" fill-opacity="0.85"/><circle cx="6.1" cy="21.0" r="0.5" fill="#ffe070" fill-opacity="0.85"/><circle cx="0.5" cy="23.4" r="0.5" fill="#f4d070" fill-opacity="0.85"/><circle cx="18.0" cy="2.9" r="0.5" fill="#f4d070" fill-opacity="0.85"/><circle cx="13.0" cy="23.7" r="0.5" fill="#ffe070" fill-opacity="0.85"/><circle cx="21.0" cy="24.4" r="0.5" fill="#ffffff" fill-opacity="0.85"/><circle cx="9.1" cy="9.5" r="0.5" fill="#8a2a9a" fill-opacity="0.85"/><circle cx="10.7" cy="23.5" r="0.5" fill="#f6a060" fill-opacity="0.85"/><circle cx="17.3" cy="1.4" r="0.5" fill="#ffffff" fill-opacity="0.85"/><circle cx="23.1" cy="17.4" r="0.5" fill="#f4d070" fill-opacity="0.85"/><circle cx="1.1" cy="19.2" r="0.5" fill="#f08040" fill-opacity="0.85"/><circle cx="23.3" cy="21.6" r="0.5" fill="#ffe070" fill-opacity="0.85"/><circle cx="24.7" cy="8.7" r="0.5" fill="#f08040" fill-opacity="0.85"/><circle cx="19.9" cy="19.7" r="0.5" fill="#ffffff" fill-opacity="0.85"/><circle cx="27.5" cy="8.8" r="0.5" fill="#f6a060" fill-opacity="0.85"/><circle cx="8.6" cy="2.7" r="0.5" fill="#f08040" fill-opacity="0.85"/><circle cx="24.6" cy="4.1" r="0.5" fill="#8a2a9a" fill-opacity="0.85"/><circle cx="4.5" cy="9.3" r="0.5" fill="#f6a060" fill-opacity="0.85"/><circle cx="8.1" cy="20.3" r="0.5" fill="#f4d070" fill-opacity="0.85"/><circle cx="1.5" cy="22.4" r="0.5" fill="#ffffff" fill-opacity="0.85"/><circle cx="15.4" cy="3.2" r="0.5" fill="#ffffff" fill-opacity="0.85"/><circle cx="6.5" cy="26.5" r="0.5" fill="#8a2a9a" fill-opacity="0.85"/><circle cx="6.0" cy="14.8" r="0.5" fill="#f08040" fill-opacity="0.85"/><circle cx="18.2" cy="13.0" r="0.5" fill="#f6a060" fill-opacity="0.85"/><circle cx="12.8" cy="6.0" r="0.5" fill="#f6a060" fill-opacity="0.85"/><circle cx="6.5" cy="5.0" r="0.5" fill="#f08040" fill-opacity="0.85"/><circle cx="0.4" cy="23.2" r="0.5" fill="#8a2a9a" fill-opacity="0.85"/><circle cx="28.9" cy="7.5" r="0.5" fill="#f08040" fill-opacity="0.85"/><circle cx="15.9" cy="11.3" r="0.5" fill="#f08040" fill-opacity="0.85"/><circle cx="21.0" cy="27.0" r="0.5" fill="#f4d070" fill-opacity="0.85"/><circle cx="20.7" cy="14.4" r="0.5" fill="#f08040" fill-opacity="0.85"/><circle cx="11.0" cy="27.1" r="0.5" fill="#8a2a9a" fill-opacity="0.85"/><circle cx="4.4" cy="20.4" r="0.5" fill="#8a2a9a" fill-opacity="0.85"/><circle cx="20.3" cy="28.9" r="0.5" fill="#f6a060" fill-opacity="0.85"/><circle cx="7.4" cy="29.9" r="0.5" fill="#f08040" fill-opacity="0.85"/><circle cx="16.8" cy="24.6" r="0.5" fill="#f4d070" fill-opacity="0.85"/><circle cx="21.6" cy="0.8" r="0.5" fill="#ffe070" fill-opacity="0.85"/><circle cx="8.2" cy="8.0" r="0.5" fill="#ffe070" fill-opacity="0.85"/><circle cx="23.0" cy="6.9" r="0.5" fill="#f6a060" fill-opacity="0.85"/><circle cx="26.2" cy="26.8" r="0.5" fill="#ffffff" fill-opacity="0.85"/><circle cx="29.4" cy="15.0" r="0.5" fill="#8a2a9a" fill-opacity="0.85"/><circle cx="20.0" cy="6.3" r="0.5" fill="#f4d070" fill-opacity="0.85"/><circle cx="19.7" cy="12.9" r="0.5" fill="#8a2a9a" fill-opacity="0.85"/><circle cx="27.9" cy="23.1" r="0.5" fill="#ffe070" fill-opacity="0.85"/><circle cx="11.6" cy="4.1" r="0.5" fill="#f6a060" fill-opacity="0.85"/><circle cx="22.6" cy="5.0" r="0.5" fill="#f6a060" fill-opacity="0.85"/><circle cx="22.9" cy="1.5" r="0.5" fill="#8a2a9a" fill-opacity="0.85"/><circle cx="9.8" cy="5.3" r="0.5" fill="#ffe070" fill-opacity="0.85"/><circle cx="8.9" cy="13.4" r="0.5" fill="#8a2a9a" fill-opacity="0.85"/><circle cx="8.7" cy="23.0" r="0.5" fill="#8a2a9a" fill-opacity="0.85"/><circle cx="16.6" cy="8.4" r="0.5" fill="#f6a060" fill-opacity="0.85"/><circle cx="21.1" cy="25.0" r="0.5" fill="#f08040" fill-opacity="0.85"/><circle cx="13.9" cy="27.2" r="0.5" fill="#8a2a9a" fill-opacity="0.85"/><circle cx="8.0" cy="10.5" r="0.5" fill="#ffe070" fill-opacity="0.85"/><circle cx="10.4" cy="28.1" r="0.5" fill="#f08040" fill-opacity="0.85"/><circle cx="6.1" cy="4.8" r="0.5" fill="#f6a060" fill-opacity="0.85"/><circle cx="8.4" cy="23.5" r="0.5" fill="#f6a060" fill-opacity="0.85"/><circle cx="29.1" cy="1.3" r="0.5" fill="#f08040" fill-opacity="0.85"/><circle cx="20.8" cy="15.1" r="0.5" fill="#f6a060" fill-opacity="0.85"/><circle cx="24.1" cy="5.2" r="0.5" fill="#ffe070" fill-opacity="0.85"/><circle cx="20.5" cy="7.0" r="0.5" fill="#f4d070" fill-opacity="0.85"/><circle cx="25.4" cy="18.6" r="0.5" fill="#f4d070" fill-opacity="0.85"/></pattern><pattern id="wtp" width="24" height="24" patternUnits="userSpaceOnUse"><circle cx="10.9" cy="13.4" r="0.45" fill="#c8c8f0" fill-opacity="0.6"/><circle cx="10.8" cy="20.5" r="0.45" fill="#ffffff" fill-opacity="0.6"/><circle cx="4.4" cy="12.3" r="0.45" fill="#ffffff" fill-opacity="0.6"/><circle cx="2.3" cy="7.3" r="0.45" fill="#ffffff" fill-opacity="0.6"/><circle cx="12.9" cy="21.4" r="0.45" fill="#ffffff" fill-opacity="0.6"/><circle cx="14.3" cy="9.5" r="0.45" fill="#c8c8f0" fill-opacity="0.6"/><circle cx="15.7" cy="14.8" r="0.45" fill="#ffffff" fill-opacity="0.6"/><circle cx="15.0" cy="20.0" r="0.45" fill="#ffffff" fill-opacity="0.6"/><circle cx="1.4" cy="4.6" r="0.45" fill="#ffffff" fill-opacity="0.6"/><circle cx="14.4" cy="18.7" r="0.45" fill="#c8c8f0" fill-opacity="0.6"/><circle cx="10.6" cy="20.2" r="0.45" fill="#ffffff" fill-opacity="0.6"/><circle cx="15.4" cy="12.0" r="0.45" fill="#ffffff" fill-opacity="0.6"/><circle cx="11.0" cy="6.7" r="0.45" fill="#ffffff" fill-opacity="0.6"/><circle cx="17.0" cy="7.6" r="0.45" fill="#ffffff" fill-opacity="0.6"/><circle cx="12.3" cy="0.7" r="0.45" fill="#ffffff" fill-opacity="0.6"/><circle cx="9.6" cy="20.3" r="0.45" fill="#c8c8f0" fill-opacity="0.6"/><circle cx="1.6" cy="0.4" r="0.45" fill="#ffffff" fill-opacity="0.6"/><circle cx="5.1" cy="22.2" r="0.45" fill="#ffffff" fill-opacity="0.6"/><circle cx="11.3" cy="23.5" r="0.45" fill="#c8c8f0" fill-opacity="0.6"/><circle cx="10.1" cy="13.6" r="0.45" fill="#ffffff" fill-opacity="0.6"/><circle cx="18.7" cy="6.5" r="0.45" fill="#ffffff" fill-opacity="0.6"/><circle cx="7.5" cy="0.4" r="0.45" fill="#c8c8f0" fill-opacity="0.6"/><circle cx="18.2" cy="2.8" r="0.45" fill="#ffffff" fill-opacity="0.6"/><circle cx="17.0" cy="0.3" r="0.45" fill="#c8c8f0" fill-opacity="0.6"/><circle cx="19.1" cy="4.3" r="0.45" fill="#ffffff" fill-opacity="0.6"/><circle cx="10.7" cy="4.6" r="0.45" fill="#ffffff" fill-opacity="0.6"/><circle cx="10.1" cy="9.2" r="0.45" fill="#c8c8f0" fill-opacity="0.6"/><circle cx="10.1" cy="5.1" r="0.45" fill="#c8c8f0" fill-opacity="0.6"/><circle cx="20.7" cy="23.4" r="0.45" fill="#c8c8f0" fill-opacity="0.6"/><circle cx="23.9" cy="0.5" r="0.45" fill="#ffffff" fill-opacity="0.6"/><circle cx="9.5" cy="20.5" r="0.45" fill="#ffffff" fill-opacity="0.6"/><circle cx="1.0" cy="3.5" r="0.45" fill="#c8c8f0" fill-opacity="0.6"/><circle cx="6.2" cy="18.5" r="0.45" fill="#c8c8f0" fill-opacity="0.6"/><circle cx="19.9" cy="9.3" r="0.45" fill="#ffffff" fill-opacity="0.6"/><circle cx="2.2" cy="14.0" r="0.45" fill="#ffffff" fill-opacity="0.6"/><circle cx="0.4" cy="8.8" r="0.45" fill="#c8c8f0" fill-opacity="0.6"/></pattern><pattern id="gnp" width="24" height="24" patternUnits="userSpaceOnUse"><circle cx="12.5" cy="19.4" r="0.5" fill="#b03070" fill-opacity="0.75"/><circle cx="7.0" cy="18.4" r="0.5" fill="#b03070" fill-opacity="0.75"/><circle cx="2.6" cy="0.6" r="0.5" fill="#6a3a8a" fill-opacity="0.75"/><circle cx="19.6" cy="10.1" r="0.5" fill="#b03070" fill-opacity="0.75"/><circle cx="15.4" cy="16.4" r="0.5" fill="#6a3a8a" fill-opacity="0.75"/><circle cx="3.3" cy="13.2" r="0.5" fill="#2c2a6e" fill-opacity="0.75"/><circle cx="19.5" cy="21.0" r="0.5" fill="#2c2a6e" fill-opacity="0.75"/><circle cx="21.2" cy="12.8" r="0.5" fill="#2c2a6e" fill-opacity="0.75"/><circle cx="7.9" cy="3.0" r="0.5" fill="#8a2a9a" fill-opacity="0.75"/><circle cx="7.4" cy="2.0" r="0.5" fill="#6a3a8a" fill-opacity="0.75"/><circle cx="15.4" cy="14.4" r="0.5" fill="#6a3a8a" fill-opacity="0.75"/><circle cx="19.5" cy="22.1" r="0.5" fill="#8a2a9a" fill-opacity="0.75"/><circle cx="10.4" cy="13.7" r="0.5" fill="#b03070" fill-opacity="0.75"/><circle cx="1.2" cy="11.5" r="0.5" fill="#8a2a9a" fill-opacity="0.75"/><circle cx="20.8" cy="5.7" r="0.5" fill="#2c2a6e" fill-opacity="0.75"/><circle cx="23.0" cy="12.6" r="0.5" fill="#b03070" fill-opacity="0.75"/><circle cx="1.4" cy="1.5" r="0.5" fill="#b03070" fill-opacity="0.75"/><circle cx="4.6" cy="14.5" r="0.5" fill="#2c2a6e" fill-opacity="0.75"/><circle cx="6.0" cy="7.4" r="0.5" fill="#b03070" fill-opacity="0.75"/><circle cx="7.7" cy="8.0" r="0.5" fill="#b03070" fill-opacity="0.75"/><circle cx="8.0" cy="1.2" r="0.5" fill="#b03070" fill-opacity="0.75"/><circle cx="0.5" cy="17.9" r="0.5" fill="#6a3a8a" fill-opacity="0.75"/><circle cx="15.2" cy="17.5" r="0.5" fill="#b03070" fill-opacity="0.75"/><circle cx="6.2" cy="18.0" r="0.5" fill="#6a3a8a" fill-opacity="0.75"/><circle cx="0.5" cy="13.5" r="0.5" fill="#2c2a6e" fill-opacity="0.75"/><circle cx="9.7" cy="17.6" r="0.5" fill="#6a3a8a" fill-opacity="0.75"/><circle cx="4.4" cy="23.9" r="0.5" fill="#2c2a6e" fill-opacity="0.75"/><circle cx="16.2" cy="21.8" r="0.5" fill="#8a2a9a" fill-opacity="0.75"/><circle cx="20.2" cy="12.9" r="0.5" fill="#b03070" fill-opacity="0.75"/><circle cx="19.5" cy="1.2" r="0.5" fill="#6a3a8a" fill-opacity="0.75"/><circle cx="2.2" cy="18.5" r="0.5" fill="#b03070" fill-opacity="0.75"/><circle cx="15.8" cy="9.7" r="0.5" fill="#8a2a9a" fill-opacity="0.75"/><circle cx="13.0" cy="13.0" r="0.5" fill="#2c2a6e" fill-opacity="0.75"/><circle cx="5.4" cy="23.0" r="0.5" fill="#2c2a6e" fill-opacity="0.75"/><circle cx="19.2" cy="1.2" r="0.5" fill="#6a3a8a" fill-opacity="0.75"/><circle cx="14.1" cy="19.8" r="0.5" fill="#2c2a6e" fill-opacity="0.75"/><circle cx="13.3" cy="12.4" r="0.5" fill="#6a3a8a" fill-opacity="0.75"/><circle cx="1.9" cy="11.0" r="0.5" fill="#2c2a6e" fill-opacity="0.75"/><circle cx="5.5" cy="7.6" r="0.5" fill="#2c2a6e" fill-opacity="0.75"/><circle cx="23.3" cy="14.4" r="0.5" fill="#6a3a8a" fill-opacity="0.75"/></pattern><pattern id="mxp" width="24" height="24" patternUnits="userSpaceOnUse"><circle cx="6.2" cy="16.4" r="0.5" fill="#2c2a6e" fill-opacity="0.8"/><circle cx="15.6" cy="16.0" r="0.5" fill="#2c2a6e" fill-opacity="0.8"/><circle cx="15.4" cy="4.5" r="0.5" fill="#e6c920" fill-opacity="0.8"/><circle cx="12.8" cy="5.1" r="0.5" fill="#8a2a9a" fill-opacity="0.8"/><circle cx="0.7" cy="3.0" r="0.5" fill="#f08838" fill-opacity="0.8"/><circle cx="24.0" cy="23.8" r="0.5" fill="#2c2a6e" fill-opacity="0.8"/><circle cx="2.0" cy="19.1" r="0.5" fill="#8a2a9a" fill-opacity="0.8"/><circle cx="19.8" cy="17.9" r="0.5" fill="#2c2a6e" fill-opacity="0.8"/><circle cx="19.1" cy="6.2" r="0.5" fill="#2c2a6e" fill-opacity="0.8"/><circle cx="11.7" cy="18.1" r="0.5" fill="#f08838" fill-opacity="0.8"/><circle cx="23.6" cy="16.1" r="0.5" fill="#2f8a3e" fill-opacity="0.8"/><circle cx="15.3" cy="15.7" r="0.5" fill="#8a2a9a" fill-opacity="0.8"/><circle cx="19.7" cy="19.2" r="0.5" fill="#8a2a9a" fill-opacity="0.8"/><circle cx="16.6" cy="13.3" r="0.5" fill="#2c2a6e" fill-opacity="0.8"/><circle cx="10.6" cy="17.5" r="0.5" fill="#f08838" fill-opacity="0.8"/><circle cx="4.2" cy="4.9" r="0.5" fill="#f08838" fill-opacity="0.8"/><circle cx="8.5" cy="8.9" r="0.5" fill="#8a2a9a" fill-opacity="0.8"/><circle cx="14.5" cy="9.5" r="0.5" fill="#2c2a6e" fill-opacity="0.8"/><circle cx="13.9" cy="13.2" r="0.5" fill="#f08838" fill-opacity="0.8"/><circle cx="5.7" cy="4.7" r="0.5" fill="#8a2a9a" fill-opacity="0.8"/><circle cx="3.1" cy="10.3" r="0.5" fill="#2f8a3e" fill-opacity="0.8"/><circle cx="9.4" cy="17.3" r="0.5" fill="#e6c920" fill-opacity="0.8"/><circle cx="5.4" cy="12.0" r="0.5" fill="#2f8a3e" fill-opacity="0.8"/><circle cx="15.3" cy="3.8" r="0.5" fill="#2f8a3e" fill-opacity="0.8"/><circle cx="17.7" cy="6.0" r="0.5" fill="#8a2a9a" fill-opacity="0.8"/><circle cx="4.9" cy="20.5" r="0.5" fill="#8a2a9a" fill-opacity="0.8"/><circle cx="12.5" cy="15.8" r="0.5" fill="#f08838" fill-opacity="0.8"/><circle cx="5.7" cy="11.9" r="0.5" fill="#f08838" fill-opacity="0.8"/><circle cx="1.0" cy="16.8" r="0.5" fill="#e6c920" fill-opacity="0.8"/><circle cx="8.6" cy="17.5" r="0.5" fill="#8a2a9a" fill-opacity="0.8"/><circle cx="4.4" cy="4.6" r="0.5" fill="#f08838" fill-opacity="0.8"/><circle cx="2.7" cy="5.4" r="0.5" fill="#e6c920" fill-opacity="0.8"/><circle cx="10.3" cy="14.3" r="0.5" fill="#f08838" fill-opacity="0.8"/><circle cx="16.7" cy="23.3" r="0.5" fill="#8a2a9a" fill-opacity="0.8"/><circle cx="15.5" cy="12.6" r="0.5" fill="#2c2a6e" fill-opacity="0.8"/><circle cx="23.9" cy="2.9" r="0.5" fill="#8a2a9a" fill-opacity="0.8"/><circle cx="21.8" cy="13.6" r="0.5" fill="#e6c920" fill-opacity="0.8"/><circle cx="22.5" cy="12.5" r="0.5" fill="#e6c920" fill-opacity="0.8"/><circle cx="0.1" cy="8.0" r="0.5" fill="#2f8a3e" fill-opacity="0.8"/><circle cx="13.4" cy="12.8" r="0.5" fill="#2f8a3e" fill-opacity="0.8"/><circle cx="5.4" cy="5.0" r="0.5" fill="#e6c920" fill-opacity="0.8"/><circle cx="9.0" cy="17.1" r="0.5" fill="#2c2a6e" fill-opacity="0.8"/><circle cx="17.7" cy="6.2" r="0.5" fill="#2c2a6e" fill-opacity="0.8"/><circle cx="6.2" cy="14.1" r="0.5" fill="#8a2a9a" fill-opacity="0.8"/><circle cx="18.5" cy="14.2" r="0.5" fill="#2f8a3e" fill-opacity="0.8"/><circle cx="4.9" cy="8.4" r="0.5" fill="#e6c920" fill-opacity="0.8"/><circle cx="7.6" cy="11.1" r="0.5" fill="#e6c920" fill-opacity="0.8"/><circle cx="18.2" cy="14.4" r="0.5" fill="#e6c920" fill-opacity="0.8"/><circle cx="15.7" cy="7.4" r="0.5" fill="#2f8a3e" fill-opacity="0.8"/><circle cx="11.5" cy="13.3" r="0.5" fill="#8a2a9a" fill-opacity="0.8"/><circle cx="1.5" cy="12.7" r="0.5" fill="#2c2a6e" fill-opacity="0.8"/><circle cx="3.6" cy="1.3" r="0.5" fill="#8a2a9a" fill-opacity="0.8"/><circle cx="19.8" cy="5.2" r="0.5" fill="#8a2a9a" fill-opacity="0.8"/><circle cx="14.5" cy="7.0" r="0.5" fill="#8a2a9a" fill-opacity="0.8"/><circle cx="3.1" cy="8.7" r="0.5" fill="#2f8a3e" fill-opacity="0.8"/><circle cx="14.0" cy="14.0" r="0.5" fill="#2f8a3e" fill-opacity="0.8"/><circle cx="1.0" cy="12.8" r="0.5" fill="#2c2a6e" fill-opacity="0.8"/><circle cx="23.2" cy="1.2" r="0.5" fill="#2c2a6e" fill-opacity="0.8"/><circle cx="21.4" cy="13.1" r="0.5" fill="#2c2a6e" fill-opacity="0.8"/><circle cx="21.7" cy="21.5" r="0.5" fill="#2c2a6e" fill-opacity="0.8"/><circle cx="2.2" cy="22.4" r="0.5" fill="#e6c920" fill-opacity="0.8"/><circle cx="8.3" cy="19.2" r="0.5" fill="#2c2a6e" fill-opacity="0.8"/><circle cx="1.1" cy="5.7" r="0.5" fill="#2c2a6e" fill-opacity="0.8"/><circle cx="12.5" cy="22.1" r="0.5" fill="#2f8a3e" fill-opacity="0.8"/><circle cx="4.7" cy="9.4" r="0.5" fill="#e6c920" fill-opacity="0.8"/><circle cx="20.2" cy="21.5" r="0.5" fill="#e6c920" fill-opacity="0.8"/><circle cx="14.7" cy="22.6" r="0.5" fill="#8a2a9a" fill-opacity="0.8"/><circle cx="12.8" cy="7.2" r="0.5" fill="#f08838" fill-opacity="0.8"/><circle cx="7.1" cy="2.1" r="0.5" fill="#e6c920" fill-opacity="0.8"/><circle cx="22.4" cy="4.0" r="0.5" fill="#e6c920" fill-opacity="0.8"/><circle cx="2.6" cy="17.2" r="0.5" fill="#e6c920" fill-opacity="0.8"/><circle cx="24.0" cy="19.4" r="0.5" fill="#2f8a3e" fill-opacity="0.8"/><circle cx="3.9" cy="23.5" r="0.5" fill="#8a2a9a" fill-opacity="0.8"/><circle cx="22.0" cy="1.0" r="0.5" fill="#e6c920" fill-opacity="0.8"/><circle cx="7.4" cy="23.9" r="0.5" fill="#2f8a3e" fill-opacity="0.8"/><circle cx="9.4" cy="3.6" r="0.5" fill="#2c2a6e" fill-opacity="0.8"/><circle cx="10.8" cy="0.1" r="0.5" fill="#e6c920" fill-opacity="0.8"/><circle cx="12.8" cy="6.6" r="0.5" fill="#2c2a6e" fill-opacity="0.8"/><circle cx="22.5" cy="5.9" r="0.5" fill="#8a2a9a" fill-opacity="0.8"/><circle cx="10.0" cy="23.8" r="0.5" fill="#2f8a3e" fill-opacity="0.8"/><circle cx="9.8" cy="3.7" r="0.5" fill="#f08838" fill-opacity="0.8"/><circle cx="21.6" cy="12.9" r="0.5" fill="#2c2a6e" fill-opacity="0.8"/><circle cx="18.4" cy="17.1" r="0.5" fill="#2c2a6e" fill-opacity="0.8"/><circle cx="0.7" cy="21.7" r="0.5" fill="#2f8a3e" fill-opacity="0.8"/><circle cx="19.7" cy="4.3" r="0.5" fill="#e6c920" fill-opacity="0.8"/><circle cx="0.1" cy="3.2" r="0.5" fill="#e6c920" fill-opacity="0.8"/><circle cx="21.2" cy="11.9" r="0.5" fill="#f08838" fill-opacity="0.8"/><circle cx="17.4" cy="1.3" r="0.5" fill="#2f8a3e" fill-opacity="0.8"/><circle cx="0.6" cy="12.8" r="0.5" fill="#2c2a6e" fill-opacity="0.8"/><circle cx="7.2" cy="14.9" r="0.5" fill="#e6c920" fill-opacity="0.8"/></pattern></defs>
<text x="22.5" y="434.3" font-size="14" fill="#111" stroke="#111" stroke-width="0.0" text-anchor="start" font-weight="bold" font-style="normal" >c</text>
<rect x="82.6" y="431.1" width="7.9" height="115.3" fill="#d6b6da"/>
<rect x="82.8" y="559.4" width="7.7" height="114.8" fill="#c5e4eb"/>
<rect x="82.8" y="686.1" width="7.7" height="117.2" fill="#e3edb6"/>
<text x="0.0" y="0.0" font-size="9.5" fill="#111" stroke="#111" stroke-width="0.0" text-anchor="middle" font-weight="bold" font-style="normal" transform="translate(72.2,486.0) rotate(-90)">TPIT lineage</text>
<text x="0.0" y="0.0" font-size="9.5" fill="#111" stroke="#111" stroke-width="0.0" text-anchor="middle" font-weight="bold" font-style="normal" transform="translate(72.2,611.2) rotate(-90)">PIT lineage</text>
<text x="0.0" y="0.0" font-size="9.5" fill="#111" stroke="#111" stroke-width="0.0" text-anchor="middle" font-weight="bold" font-style="normal" transform="translate(72.2,737.8) rotate(-90)">SF1 lineage</text>
<text x="134.5" y="438.2" font-size="9.5" fill="#111" stroke="#111" stroke-width="0.12" text-anchor="middle" font-weight="normal" font-style="normal" style="stroke-width:0.25px">ACTH9</text>
<rect x="108" y="441" width="49.0" height="52.0" fill="#fafbfd"/>
<path d="M136.1,446.1 C137.0,446.2 143.6,447.7 145.2,448.3 C146.8,448.9 154.4,451.9 155.0,452.8 C155.6,453.7 152.8,458.0 152.0,458.9 C151.2,459.8 146.0,462.9 145.2,464.1 C144.4,465.3 143.4,472.1 142.9,473.2 C142.4,474.3 140.3,477.2 139.2,477.7 C138.1,478.2 131.4,478.9 130.1,479.2 C128.8,479.5 125.1,481.1 124.1,481.5 C123.1,481.9 118.8,484.2 118.1,484.5 C117.3,484.8 115.3,485.4 115.1,485.2 C114.9,485.0 115.5,482.8 115.8,482.2 C116.1,481.6 118.7,478.4 118.8,477.7 C118.9,476.9 116.9,473.8 116.6,473.2 C116.3,472.6 114.9,471.5 115.1,470.9 C115.3,470.3 118.2,466.7 118.8,465.6 C119.4,464.5 121.7,459.2 122.6,458.1 C123.5,457.0 129.1,453.0 130.1,452.1 C131.1,451.2 134.1,448.1 134.6,447.6 C135.1,447.1 135.2,446.0 136.1,446.1Z" fill="#6569b6" fill-rule="evenodd"/>
<path d="M136.1,446.1 C137.0,446.2 143.6,447.7 145.2,448.3 C146.8,448.9 154.4,451.9 155.0,452.8 C155.6,453.7 152.8,458.0 152.0,458.9 C151.2,459.8 146.0,462.9 145.2,464.1 C144.4,465.3 143.4,472.1 142.9,473.2 C142.4,474.3 140.3,477.2 139.2,477.7 C138.1,478.2 131.4,478.9 130.1,479.2 C128.8,479.5 125.1,481.1 124.1,481.5 C123.1,481.9 118.8,484.2 118.1,484.5 C117.3,484.8 115.3,485.4 115.1,485.2 C114.9,485.0 115.5,482.8 115.8,482.2 C116.1,481.6 118.7,478.4 118.8,477.7 C118.9,476.9 116.9,473.8 116.6,473.2 C116.3,472.6 114.9,471.5 115.1,470.9 C115.3,470.3 118.2,466.7 118.8,465.6 C119.4,464.5 121.7,459.2 122.6,458.1 C123.5,457.0 129.1,453.0 130.1,452.1 C131.1,451.2 134.1,448.1 134.6,447.6 C135.1,447.1 135.2,446.0 136.1,446.1Z" fill="url(#hep)" fill-rule="evenodd"/>
<circle cx="141.1" cy="448.9" r="0.5" fill="#9a9ad8"/><circle cx="135.3" cy="447.6" r="0.5" fill="#b0b0e6"/><circle cx="131.8" cy="455.5" r="0.5" fill="#b0b0e6"/><circle cx="117.5" cy="468.2" r="0.5" fill="#9a9ad8"/><circle cx="140.3" cy="468.9" r="0.5" fill="#9a9ad8"/><circle cx="138.1" cy="461.6" r="0.5" fill="#9a9ad8"/><circle cx="147.7" cy="453.2" r="0.5" fill="#9a9ad8"/><circle cx="130.0" cy="467.5" r="0.5" fill="#9a9ad8"/><circle cx="137.6" cy="470.3" r="0.5" fill="#b0b0e6"/><circle cx="142.2" cy="462.8" r="0.5" fill="#b0b0e6"/><circle cx="129.5" cy="455.8" r="0.5" fill="#9a9ad8"/>
<line x1="148.2" y1="488.5" x2="156.5" y2="488.5" stroke="#444" stroke-width="1"/>
<clipPath id="cl_ACTH9"><path d="M134.6,502.5 C135.6,502.2 141.1,503.1 142.2,503.3 C143.3,503.5 147.1,504.4 148.2,504.8 C149.3,505.2 155.3,507.9 155.7,508.6 C156.1,509.4 153.4,512.9 152.7,513.8 C151.9,514.7 147.4,518.8 146.7,519.9 C145.9,521.0 144.4,526.3 143.7,527.4 C142.9,528.5 139.1,532.6 137.7,533.4 C136.3,534.1 128.7,535.9 127.1,536.4 C125.5,536.9 119.4,539.0 118.1,539.4 C116.8,539.8 112.5,542.0 112.0,541.7 C111.5,541.5 111.7,537.2 112.0,536.4 C112.3,535.6 115.2,532.5 115.1,531.9 C115.0,531.3 111.6,529.8 111.3,528.9 C111.0,528.0 111.6,522.5 112.0,521.4 C112.4,520.3 115.7,516.2 116.6,515.3 C117.5,514.4 121.5,511.6 122.6,510.8 C123.7,510.1 129.1,507.0 130.1,506.3 C131.1,505.6 133.6,502.8 134.6,502.5Z"/></clipPath>
<path d="M134.6,502.5 C135.6,502.2 141.1,503.1 142.2,503.3 C143.3,503.5 147.1,504.4 148.2,504.8 C149.3,505.2 155.3,507.9 155.7,508.6 C156.1,509.4 153.4,512.9 152.7,513.8 C151.9,514.7 147.4,518.8 146.7,519.9 C145.9,521.0 144.4,526.3 143.7,527.4 C142.9,528.5 139.1,532.6 137.7,533.4 C136.3,534.1 128.7,535.9 127.1,536.4 C125.5,536.9 119.4,539.0 118.1,539.4 C116.8,539.8 112.5,542.0 112.0,541.7 C111.5,541.5 111.7,537.2 112.0,536.4 C112.3,535.6 115.2,532.5 115.1,531.9 C115.0,531.3 111.6,529.8 111.3,528.9 C111.0,528.0 111.6,522.5 112.0,521.4 C112.4,520.3 115.7,516.2 116.6,515.3 C117.5,514.4 121.5,511.6 122.6,510.8 C123.7,510.1 129.1,507.0 130.1,506.3 C131.1,505.6 133.6,502.8 134.6,502.5Z" fill="#8a2a9a" fill-rule="evenodd"/>
<g clip-path="url(#cl_ACTH9)">
<path d="M118.5,511.7 C118.8,510.6 124.0,506.5 125.3,505.8 C126.6,505.1 132.9,502.6 134.0,502.9 C135.1,503.2 138.2,508.3 138.9,509.7 C139.6,511.1 141.7,518.1 141.8,519.4 C141.9,520.7 140.6,524.5 139.9,525.3 C139.2,526.1 134.2,529.2 133.1,529.2 C132.0,529.2 128.2,526.1 127.2,525.3 C126.2,524.5 122.1,520.5 121.4,519.4 C120.7,518.3 118.2,512.8 118.5,511.7Z" fill="#2f8a3e" fill-rule="evenodd"/>
<path d="M136.5,524.0 C136.9,523.6 140.0,522.3 140.5,522.5 C141.0,522.7 142.6,525.5 142.5,526.0 C142.4,526.5 140.0,528.4 139.5,528.5 C139.0,528.6 136.2,527.9 136.0,527.5 C135.8,527.1 136.1,524.4 136.5,524.0Z" fill="#2c2a6e" fill-rule="evenodd"/>
</g>
<g clip-path="url(#cl_ACTH9)">
<path d="M134.6,502.5 C135.6,502.2 141.1,503.1 142.2,503.3 C143.3,503.5 147.1,504.4 148.2,504.8 C149.3,505.2 155.3,507.9 155.7,508.6 C156.1,509.4 153.4,512.9 152.7,513.8 C151.9,514.7 147.4,518.8 146.7,519.9 C145.9,521.0 144.4,526.3 143.7,527.4 C142.9,528.5 139.1,532.6 137.7,533.4 C136.3,534.1 128.7,535.9 127.1,536.4 C125.5,536.9 119.4,539.0 118.1,539.4 C116.8,539.8 112.5,542.0 112.0,541.7 C111.5,541.5 111.7,537.2 112.0,536.4 C112.3,535.6 115.2,532.5 115.1,531.9 C115.0,531.3 111.6,529.8 111.3,528.9 C111.0,528.0 111.6,522.5 112.0,521.4 C112.4,520.3 115.7,516.2 116.6,515.3 C117.5,514.4 121.5,511.6 122.6,510.8 C123.7,510.1 129.1,507.0 130.1,506.3 C131.1,505.6 133.6,502.8 134.6,502.5Z" fill="url(#mxp)" fill-rule="evenodd"/>
</g>
<circle cx="142.3" cy="512.1" r="0.6" fill="#2f8a3e"/><circle cx="143.7" cy="513.8" r="0.6" fill="#ebcd1f"/><circle cx="116.5" cy="518.9" r="0.6" fill="#2f8a3e"/><circle cx="118.0" cy="521.7" r="0.6" fill="#ebcd1f"/><circle cx="136.1" cy="533.4" r="0.6" fill="#2f8a3e"/><circle cx="126.4" cy="516.2" r="0.6" fill="#2c2a6e"/><circle cx="137.0" cy="520.4" r="0.6" fill="#ebcd1f"/><circle cx="140.8" cy="504.9" r="0.6" fill="#2f8a3e"/><circle cx="147.8" cy="513.7" r="0.6" fill="#2c2a6e"/><circle cx="138.4" cy="521.9" r="0.6" fill="#f08838"/><circle cx="145.4" cy="507.6" r="0.6" fill="#f08838"/><circle cx="133.3" cy="509.0" r="0.6" fill="#2c2a6e"/><circle cx="123.7" cy="518.8" r="0.6" fill="#2f8a3e"/><circle cx="141.6" cy="517.4" r="0.6" fill="#f08838"/><circle cx="121.6" cy="511.6" r="0.6" fill="#2c2a6e"/><circle cx="148.2" cy="509.6" r="0.6" fill="#2f8a3e"/><circle cx="127.7" cy="524.7" r="0.6" fill="#f08838"/><circle cx="142.0" cy="522.7" r="0.6" fill="#ebcd1f"/><circle cx="136.1" cy="518.1" r="0.6" fill="#2c2a6e"/><circle cx="115.9" cy="527.4" r="0.6" fill="#ebcd1f"/>
<text x="199.0" y="438.2" font-size="9.5" fill="#111" stroke="#111" stroke-width="0.12" text-anchor="middle" font-weight="normal" font-style="normal" style="stroke-width:0.25px">ACTH10</text>
<rect x="174" y="441" width="50.0" height="52.0" fill="#fafbfd"/>
<path d="M176.8,455.9 C177.2,455.4 180.7,452.7 182.0,452.1 C183.3,451.5 191.0,449.5 192.6,449.1 C194.2,448.7 200.5,446.9 201.6,446.8 C202.7,446.7 205.4,447.0 206.1,447.6 C206.8,448.2 210.0,453.2 209.9,453.6 C209.8,454.0 205.5,452.6 204.6,452.8 C203.7,453.0 199.6,455.5 198.6,455.9 C197.6,456.3 193.5,457.0 192.6,457.4 C191.7,457.8 188.6,459.8 188.0,460.4 C187.4,461.0 185.6,464.0 185.0,464.1 C184.4,464.2 181.9,461.6 181.3,461.1 C180.7,460.6 177.9,458.5 177.5,458.1 C177.1,457.7 176.4,456.4 176.8,455.9Z" fill="#3d3f92" fill-rule="evenodd"/>
<path d="M176.8,455.9 C177.2,455.4 180.7,452.7 182.0,452.1 C183.3,451.5 191.0,449.5 192.6,449.1 C194.2,448.7 200.5,446.9 201.6,446.8 C202.7,446.7 205.4,447.0 206.1,447.6 C206.8,448.2 210.0,453.2 209.9,453.6 C209.8,454.0 205.5,452.6 204.6,452.8 C203.7,453.0 199.6,455.5 198.6,455.9 C197.6,456.3 193.5,457.0 192.6,457.4 C191.7,457.8 188.6,459.8 188.0,460.4 C187.4,461.0 185.6,464.0 185.0,464.1 C184.4,464.2 181.9,461.6 181.3,461.1 C180.7,460.6 177.9,458.5 177.5,458.1 C177.1,457.7 176.4,456.4 176.8,455.9Z" fill="url(#hep)" fill-rule="evenodd"/>
<path d="M178.3,467.9 C178.7,467.6 181.6,467.5 182.0,467.9 C182.4,468.3 182.9,472.4 182.8,473.2 C182.7,474.0 181.7,477.5 181.3,477.7 C180.9,477.9 178.6,475.9 178.3,475.4 C178.0,474.9 177.5,472.3 177.5,471.7 C177.5,471.1 177.9,468.2 178.3,467.9Z" fill="#3d3f92" fill-rule="evenodd"/>
<path d="M178.3,467.9 C178.7,467.6 181.6,467.5 182.0,467.9 C182.4,468.3 182.9,472.4 182.8,473.2 C182.7,474.0 181.7,477.5 181.3,477.7 C180.9,477.9 178.6,475.9 178.3,475.4 C178.0,474.9 177.5,472.3 177.5,471.7 C177.5,471.1 177.9,468.2 178.3,467.9Z" fill="url(#hep)" fill-rule="evenodd"/>
<path d="M198.6,473.2 C199.2,472.4 202.0,468.0 203.1,467.2 C204.2,466.4 210.8,464.3 212.2,464.1 C213.6,463.9 218.9,464.5 219.7,464.9 C220.5,465.3 222.0,468.5 222.0,469.4 C222.0,470.3 220.3,475.1 219.7,476.2 C219.1,477.3 215.9,481.6 215.2,482.2 C214.5,482.8 211.8,483.9 211.4,483.7 C211.0,483.4 211.3,479.6 210.7,479.2 C210.1,478.8 205.7,479.1 204.6,479.2 C203.5,479.3 197.8,480.2 197.1,480.0 C196.4,479.8 196.3,476.8 196.4,476.2 C196.5,475.6 198.0,473.9 198.6,473.2Z" fill="#3d3f92" fill-rule="evenodd"/>
<path d="M198.6,473.2 C199.2,472.4 202.0,468.0 203.1,467.2 C204.2,466.4 210.8,464.3 212.2,464.1 C213.6,463.9 218.9,464.5 219.7,464.9 C220.5,465.3 222.0,468.5 222.0,469.4 C222.0,470.3 220.3,475.1 219.7,476.2 C219.1,477.3 215.9,481.6 215.2,482.2 C214.5,482.8 211.8,483.9 211.4,483.7 C211.0,483.4 211.3,479.6 210.7,479.2 C210.1,478.8 205.7,479.1 204.6,479.2 C203.5,479.3 197.8,480.2 197.1,480.0 C196.4,479.8 196.3,476.8 196.4,476.2 C196.5,475.6 198.0,473.9 198.6,473.2Z" fill="url(#hep)" fill-rule="evenodd"/>
<circle cx="196.7" cy="448.6" r="0.5" fill="#9a9ad8"/><circle cx="197.1" cy="448.0" r="0.5" fill="#9a9ad8"/><circle cx="197.1" cy="449.4" r="0.5" fill="#b0b0e6"/><circle cx="192.7" cy="452.2" r="0.5" fill="#9a9ad8"/><circle cx="185.6" cy="461.1" r="0.5" fill="#9a9ad8"/><circle cx="193.9" cy="450.4" r="0.5" fill="#b0b0e6"/><circle cx="181.7" cy="456.2" r="0.5" fill="#9a9ad8"/>
<circle cx="181.5" cy="470.8" r="0.5" fill="#9a9ad8"/><circle cx="181.2" cy="470.5" r="0.5" fill="#b0b0e6"/><circle cx="182.3" cy="471.4" r="0.5" fill="#9a9ad8"/>
<circle cx="204.8" cy="468.5" r="0.5" fill="#9a9ad8"/><circle cx="215.3" cy="468.5" r="0.5" fill="#b0b0e6"/><circle cx="203.0" cy="477.7" r="0.5" fill="#b0b0e6"/><circle cx="205.7" cy="468.4" r="0.5" fill="#9a9ad8"/><circle cx="208.4" cy="470.7" r="0.5" fill="#b0b0e6"/><circle cx="212.4" cy="481.7" r="0.5" fill="#9a9ad8"/><circle cx="208.7" cy="476.9" r="0.5" fill="#9a9ad8"/>
<line x1="215.2" y1="488.7" x2="222" y2="488.7" stroke="#444" stroke-width="1"/>
<clipPath id="cl_ACTH10"><path d="M176.8,511.0 C177.2,510.5 180.7,507.6 182.0,507.0 C183.3,506.4 191.0,504.4 192.6,504.0 C194.2,503.6 200.5,501.9 201.6,501.8 C202.7,501.7 205.4,502.0 206.1,502.6 C206.8,503.2 210.0,508.2 209.9,508.6 C209.8,509.0 205.5,507.6 204.6,507.8 C203.7,508.0 199.6,510.5 198.6,510.9 C197.6,511.3 193.5,512.0 192.6,512.4 C191.7,512.8 188.6,514.8 188.0,515.4 C187.4,516.0 185.6,519.0 185.0,519.1 C184.4,519.2 181.9,516.6 181.3,516.1 C180.7,515.6 177.9,513.5 177.5,513.1 C177.1,512.7 176.4,511.5 176.8,511.0Z"/><path d="M178.3,523.4 C178.7,523.1 181.6,523.0 182.0,523.4 C182.4,523.8 182.9,527.9 182.8,528.7 C182.7,529.5 181.7,533.0 181.3,533.2 C180.9,533.4 178.6,531.4 178.3,530.9 C178.0,530.4 177.5,527.8 177.5,527.2 C177.5,526.6 177.9,523.7 178.3,523.4Z"/><path d="M198.6,530.2 C199.2,529.5 202.0,525.0 203.1,524.2 C204.2,523.4 210.8,521.3 212.2,521.1 C213.6,520.9 218.9,521.5 219.7,521.9 C220.5,522.3 222.0,525.5 222.0,526.4 C222.0,527.3 220.3,532.1 219.7,533.2 C219.1,534.3 215.9,538.6 215.2,539.2 C214.5,539.8 211.8,541.0 211.4,540.7 C211.0,540.5 211.3,536.6 210.7,536.2 C210.1,535.8 205.7,536.1 204.6,536.2 C203.5,536.3 197.8,537.2 197.1,537.0 C196.4,536.8 196.3,533.8 196.4,533.2 C196.5,532.6 198.0,531.0 198.6,530.2Z"/></clipPath>
<path d="M176.8,511.0 C177.2,510.5 180.7,507.6 182.0,507.0 C183.3,506.4 191.0,504.4 192.6,504.0 C194.2,503.6 200.5,501.9 201.6,501.8 C202.7,501.7 205.4,502.0 206.1,502.6 C206.8,503.2 210.0,508.2 209.9,508.6 C209.8,509.0 205.5,507.6 204.6,507.8 C203.7,508.0 199.6,510.5 198.6,510.9 C197.6,511.3 193.5,512.0 192.6,512.4 C191.7,512.8 188.6,514.8 188.0,515.4 C187.4,516.0 185.6,519.0 185.0,519.1 C184.4,519.2 181.9,516.6 181.3,516.1 C180.7,515.6 177.9,513.5 177.5,513.1 C177.1,512.7 176.4,511.5 176.8,511.0Z" fill="#8a2a9a" fill-rule="evenodd"/>
<path d="M178.3,523.4 C178.7,523.1 181.6,523.0 182.0,523.4 C182.4,523.8 182.9,527.9 182.8,528.7 C182.7,529.5 181.7,533.0 181.3,533.2 C180.9,533.4 178.6,531.4 178.3,530.9 C178.0,530.4 177.5,527.8 177.5,527.2 C177.5,526.6 177.9,523.7 178.3,523.4Z" fill="#8a2a9a" fill-rule="evenodd"/>
<path d="M198.6,530.2 C199.2,529.5 202.0,525.0 203.1,524.2 C204.2,523.4 210.8,521.3 212.2,521.1 C213.6,520.9 218.9,521.5 219.7,521.9 C220.5,522.3 222.0,525.5 222.0,526.4 C222.0,527.3 220.3,532.1 219.7,533.2 C219.1,534.3 215.9,538.6 215.2,539.2 C214.5,539.8 211.8,541.0 211.4,540.7 C211.0,540.5 211.3,536.6 210.7,536.2 C210.1,535.8 205.7,536.1 204.6,536.2 C203.5,536.3 197.8,537.2 197.1,537.0 C196.4,536.8 196.3,533.8 196.4,533.2 C196.5,532.6 198.0,531.0 198.6,530.2Z" fill="#8a2a9a" fill-rule="evenodd"/>
<g clip-path="url(#cl_ACTH10)">
<path d="M176.8,511.0 C177.2,510.5 181.1,507.5 182.0,507.0 C182.9,506.5 187.5,504.9 188.0,505.5 C188.5,506.1 188.2,512.9 188.0,514.0 C187.8,515.1 185.6,518.9 185.0,519.1 C184.4,519.3 181.9,516.6 181.3,516.1 C180.7,515.6 177.9,513.5 177.5,513.1 C177.1,512.7 176.4,511.5 176.8,511.0Z" fill="#7d6a84" fill-rule="evenodd"/>
<path d="M188.0,505.5 C188.7,504.6 195.2,503.1 196.0,503.5 C196.8,503.9 197.3,509.2 197.0,510.0 C196.7,510.8 192.8,512.2 192.0,512.5 C191.2,512.8 188.3,514.6 188.0,514.0 C187.7,513.4 187.3,506.4 188.0,505.5Z" fill="#2f8a3e" fill-rule="evenodd"/>
</g>
<g clip-path="url(#cl_ACTH10)">
<path d="M176.8,511.0 C177.2,510.5 180.7,507.6 182.0,507.0 C183.3,506.4 191.0,504.4 192.6,504.0 C194.2,503.6 200.5,501.9 201.6,501.8 C202.7,501.7 205.4,502.0 206.1,502.6 C206.8,503.2 210.0,508.2 209.9,508.6 C209.8,509.0 205.5,507.6 204.6,507.8 C203.7,508.0 199.6,510.5 198.6,510.9 C197.6,511.3 193.5,512.0 192.6,512.4 C191.7,512.8 188.6,514.8 188.0,515.4 C187.4,516.0 185.6,519.0 185.0,519.1 C184.4,519.2 181.9,516.6 181.3,516.1 C180.7,515.6 177.9,513.5 177.5,513.1 C177.1,512.7 176.4,511.5 176.8,511.0Z" fill="url(#mxp)" fill-rule="evenodd"/>
<path d="M178.3,523.4 C178.7,523.1 181.6,523.0 182.0,523.4 C182.4,523.8 182.9,527.9 182.8,528.7 C182.7,529.5 181.7,533.0 181.3,533.2 C180.9,533.4 178.6,531.4 178.3,530.9 C178.0,530.4 177.5,527.8 177.5,527.2 C177.5,526.6 177.9,523.7 178.3,523.4Z" fill="url(#mxp)" fill-rule="evenodd"/>
<path d="M198.6,530.2 C199.2,529.5 202.0,525.0 203.1,524.2 C204.2,523.4 210.8,521.3 212.2,521.1 C213.6,520.9 218.9,521.5 219.7,521.9 C220.5,522.3 222.0,525.5 222.0,526.4 C222.0,527.3 220.3,532.1 219.7,533.2 C219.1,534.3 215.9,538.6 215.2,539.2 C214.5,539.8 211.8,541.0 211.4,540.7 C211.0,540.5 211.3,536.6 210.7,536.2 C210.1,535.8 205.7,536.1 204.6,536.2 C203.5,536.3 197.8,537.2 197.1,537.0 C196.4,536.8 196.3,533.8 196.4,533.2 C196.5,532.6 198.0,531.0 198.6,530.2Z" fill="url(#mxp)" fill-rule="evenodd"/>
</g>
<circle cx="204.4" cy="503.9" r="0.6" fill="#2f8a3e"/><circle cx="192.6" cy="504.9" r="0.6" fill="#2c2a6e"/><circle cx="200.8" cy="504.7" r="0.6" fill="#ebcd1f"/><circle cx="177.7" cy="512.0" r="0.6" fill="#2f8a3e"/><circle cx="203.5" cy="504.3" r="0.6" fill="#2c2a6e"/><circle cx="188.4" cy="511.3" r="0.6" fill="#ebcd1f"/><circle cx="200.8" cy="503.6" r="0.6" fill="#2c2a6e"/><circle cx="186.5" cy="506.0" r="0.6" fill="#2c2a6e"/><circle cx="187.6" cy="511.2" r="0.6" fill="#ebcd1f"/><circle cx="202.5" cy="504.4" r="0.6" fill="#ebcd1f"/><circle cx="195.2" cy="507.4" r="0.6" fill="#2c2a6e"/><circle cx="194.4" cy="510.1" r="0.6" fill="#ebcd1f"/><circle cx="206.0" cy="502.8" r="0.6" fill="#ebcd1f"/><circle cx="186.0" cy="515.2" r="0.6" fill="#2c2a6e"/><circle cx="196.9" cy="505.2" r="0.6" fill="#2f8a3e"/><circle cx="191.8" cy="511.0" r="0.6" fill="#2f8a3e"/><circle cx="193.6" cy="506.1" r="0.6" fill="#2c2a6e"/><circle cx="185.4" cy="511.5" r="0.6" fill="#ebcd1f"/><circle cx="204.6" cy="504.2" r="0.6" fill="#ebcd1f"/><circle cx="189.8" cy="507.3" r="0.6" fill="#2c2a6e"/>
<circle cx="178.8" cy="524.1" r="0.6" fill="#2c2a6e"/><circle cx="179.1" cy="524.6" r="0.6" fill="#ebcd1f"/><circle cx="179.4" cy="525.9" r="0.6" fill="#ebcd1f"/><circle cx="182.5" cy="527.3" r="0.6" fill="#2f8a3e"/><circle cx="178.4" cy="529.9" r="0.6" fill="#ebcd1f"/><circle cx="178.4" cy="527.6" r="0.6" fill="#2c2a6e"/><circle cx="179.6" cy="527.5" r="0.6" fill="#2f8a3e"/><circle cx="179.2" cy="530.5" r="0.6" fill="#ebcd1f"/><circle cx="179.3" cy="527.9" r="0.6" fill="#2c2a6e"/><circle cx="180.8" cy="528.4" r="0.6" fill="#ebcd1f"/>
<circle cx="219.6" cy="524.7" r="0.6" fill="#ebcd1f"/><circle cx="213.7" cy="539.6" r="0.6" fill="#2f8a3e"/><circle cx="211.0" cy="534.8" r="0.6" fill="#ebcd1f"/><circle cx="212.0" cy="525.5" r="0.6" fill="#2f8a3e"/><circle cx="218.5" cy="530.0" r="0.6" fill="#2f8a3e"/><circle cx="197.5" cy="535.0" r="0.6" fill="#ebcd1f"/><circle cx="221.2" cy="526.2" r="0.6" fill="#ebcd1f"/><circle cx="201.6" cy="527.2" r="0.6" fill="#2f8a3e"/><circle cx="210.0" cy="525.1" r="0.6" fill="#2f8a3e"/><circle cx="209.2" cy="524.6" r="0.6" fill="#2f8a3e"/>
<text x="270.3" y="438.6" font-size="9.5" fill="#111" stroke="#111" stroke-width="0.12" text-anchor="middle" font-weight="normal" font-style="normal" style="stroke-width:0.25px">ACTH11</text>
<rect x="246" y="441" width="53.0" height="52.0" fill="#fafbfd"/>
<path d="M248.8,473.7 C249.2,472.6 252.4,467.0 253.6,466.0 C254.8,465.0 261.7,462.5 263.3,462.0 C264.9,461.5 271.6,460.5 273.0,460.1 C274.4,459.7 278.9,457.2 279.8,457.2 C280.7,457.2 283.0,460.2 283.8,460.6 C284.6,461.0 289.0,462.0 289.6,461.6 C290.2,461.2 291.0,456.6 291.5,456.2 C292.0,455.8 294.8,456.2 295.4,457.2 C296.0,458.2 298.1,466.1 298.3,467.9 C298.5,469.7 297.9,477.1 297.4,478.6 C296.9,480.1 293.6,484.7 292.5,485.4 C291.4,486.1 286.6,487.1 284.7,487.3 C282.8,487.5 271.6,487.6 269.2,487.3 C266.8,487.0 257.3,484.0 255.6,483.4 C253.9,482.8 249.4,480.3 248.8,479.5 C248.2,478.7 248.4,474.8 248.8,473.7Z" fill="#4b4da9" fill-rule="evenodd"/>
<path d="M248.8,473.7 C249.2,472.6 252.4,467.0 253.6,466.0 C254.8,465.0 261.7,462.5 263.3,462.0 C264.9,461.5 271.6,460.5 273.0,460.1 C274.4,459.7 278.9,457.2 279.8,457.2 C280.7,457.2 283.0,460.2 283.8,460.6 C284.6,461.0 289.0,462.0 289.6,461.6 C290.2,461.2 291.0,456.6 291.5,456.2 C292.0,455.8 294.8,456.2 295.4,457.2 C296.0,458.2 298.1,466.1 298.3,467.9 C298.5,469.7 297.9,477.1 297.4,478.6 C296.9,480.1 293.6,484.7 292.5,485.4 C291.4,486.1 286.6,487.1 284.7,487.3 C282.8,487.5 271.6,487.6 269.2,487.3 C266.8,487.0 257.3,484.0 255.6,483.4 C253.9,482.8 249.4,480.3 248.8,479.5 C248.2,478.7 248.4,474.8 248.8,473.7Z" fill="url(#hep)" fill-rule="evenodd"/>
<path d="M272.1,447.4 C272.6,447.0 276.9,444.9 277.9,445.1 C278.9,445.3 282.7,448.6 283.8,449.4 C284.9,450.2 290.0,453.7 290.6,454.3 C291.2,454.9 290.8,456.1 290.5,456.5 C290.2,456.9 288.3,458.7 287.6,458.6 C286.9,458.5 282.8,455.7 281.8,455.3 C280.8,454.9 276.8,453.7 276.0,453.3 C275.2,452.9 272.4,450.9 272.1,450.4 C271.8,449.9 271.6,447.8 272.1,447.4Z" fill="#4b4da9" fill-rule="evenodd"/>
<path d="M272.1,447.4 C272.6,447.0 276.9,444.9 277.9,445.1 C278.9,445.3 282.7,448.6 283.8,449.4 C284.9,450.2 290.0,453.7 290.6,454.3 C291.2,454.9 290.8,456.1 290.5,456.5 C290.2,456.9 288.3,458.7 287.6,458.6 C286.9,458.5 282.8,455.7 281.8,455.3 C280.8,454.9 276.8,453.7 276.0,453.3 C275.2,452.9 272.4,450.9 272.1,450.4 C271.8,449.9 271.6,447.8 272.1,447.4Z" fill="url(#hep)" fill-rule="evenodd"/>
<circle cx="273.8" cy="486.6" r="0.5" fill="#b0b0e6"/><circle cx="261.0" cy="470.1" r="0.5" fill="#b0b0e6"/><circle cx="281.3" cy="473.2" r="0.5" fill="#b0b0e6"/><circle cx="296.8" cy="465.8" r="0.5" fill="#9a9ad8"/><circle cx="297.4" cy="466.9" r="0.5" fill="#9a9ad8"/><circle cx="268.8" cy="467.0" r="0.5" fill="#9a9ad8"/><circle cx="279.8" cy="483.6" r="0.5" fill="#b0b0e6"/><circle cx="290.4" cy="483.3" r="0.5" fill="#b0b0e6"/><circle cx="278.4" cy="477.7" r="0.5" fill="#9a9ad8"/>
<circle cx="280.6" cy="447.2" r="0.5" fill="#b0b0e6"/><circle cx="272.2" cy="450.0" r="0.5" fill="#b0b0e6"/><circle cx="277.8" cy="449.9" r="0.5" fill="#9a9ad8"/><circle cx="278.3" cy="446.2" r="0.5" fill="#b0b0e6"/><circle cx="281.4" cy="447.8" r="0.5" fill="#9a9ad8"/>
<line x1="289.7" y1="488.7" x2="297.2" y2="488.7" stroke="#444" stroke-width="1"/>
<clipPath id="cl_ACTH11"><path d="M251.3,531.9 C251.6,530.6 254.0,522.6 255.1,521.4 C256.2,520.1 262.2,517.5 264.1,516.9 C266.0,516.3 276.0,513.8 277.6,513.8 C279.2,513.8 282.8,516.1 283.7,516.9 C284.6,517.7 287.7,523.0 288.2,522.9 C288.7,522.8 289.4,516.2 289.7,515.3 C290.0,514.4 291.7,512.0 292.0,512.3 C292.3,512.6 293.3,517.3 293.5,518.4 C293.7,519.5 294.3,524.6 294.2,525.9 C294.1,527.1 292.8,532.3 292.0,533.4 C291.2,534.5 286.4,538.6 285.2,539.4 C284.0,540.2 279.1,542.2 277.6,542.5 C276.1,542.8 268.7,542.8 267.1,542.5 C265.5,542.2 259.4,539.9 258.1,539.4 C256.8,538.9 252.6,537.0 252.0,536.4 C251.4,535.8 251.0,533.1 251.3,531.9Z"/><path d="M272.4,501.8 C272.8,501.2 276.5,500.2 277.6,500.3 C278.7,500.4 284.2,502.7 285.2,503.3 C286.2,503.9 289.4,507.1 289.7,507.8 C290.0,508.6 289.5,511.7 289.0,512.3 C288.5,512.9 284.6,514.7 283.7,514.6 C282.8,514.5 278.5,511.4 277.6,510.8 C276.7,510.2 273.5,507.9 273.1,507.1 C272.7,506.4 272.0,502.4 272.4,501.8Z"/></clipPath>
<path d="M251.3,531.9 C251.6,530.6 254.0,522.6 255.1,521.4 C256.2,520.1 262.2,517.5 264.1,516.9 C266.0,516.3 276.0,513.8 277.6,513.8 C279.2,513.8 282.8,516.1 283.7,516.9 C284.6,517.7 287.7,523.0 288.2,522.9 C288.7,522.8 289.4,516.2 289.7,515.3 C290.0,514.4 291.7,512.0 292.0,512.3 C292.3,512.6 293.3,517.3 293.5,518.4 C293.7,519.5 294.3,524.6 294.2,525.9 C294.1,527.1 292.8,532.3 292.0,533.4 C291.2,534.5 286.4,538.6 285.2,539.4 C284.0,540.2 279.1,542.2 277.6,542.5 C276.1,542.8 268.7,542.8 267.1,542.5 C265.5,542.2 259.4,539.9 258.1,539.4 C256.8,538.9 252.6,537.0 252.0,536.4 C251.4,535.8 251.0,533.1 251.3,531.9Z" fill="#ebcd1f" fill-rule="evenodd"/>
<path d="M272.4,501.8 C272.8,501.2 276.5,500.2 277.6,500.3 C278.7,500.4 284.2,502.7 285.2,503.3 C286.2,503.9 289.4,507.1 289.7,507.8 C290.0,508.6 289.5,511.7 289.0,512.3 C288.5,512.9 284.6,514.7 283.7,514.6 C282.8,514.5 278.5,511.4 277.6,510.8 C276.7,510.2 273.5,507.9 273.1,507.1 C272.7,506.4 272.0,502.4 272.4,501.8Z" fill="#ebcd1f" fill-rule="evenodd"/>
<g clip-path="url(#cl_ACTH11)">
<path d="M251.3,531.9 C251.6,530.6 254.0,522.6 255.1,521.4 C256.2,520.1 262.2,517.5 264.1,516.9 C266.0,516.3 276.0,513.8 277.6,513.8 C279.2,513.8 282.8,516.1 283.7,516.9 C284.6,517.7 287.7,523.0 288.2,522.9 C288.7,522.8 289.4,516.2 289.7,515.3 C290.0,514.4 291.7,512.0 292.0,512.3 C292.3,512.6 293.3,517.3 293.5,518.4 C293.7,519.5 294.3,524.6 294.2,525.9 C294.1,527.1 292.8,532.3 292.0,533.4 C291.2,534.5 286.4,538.6 285.2,539.4 C284.0,540.2 279.1,542.2 277.6,542.5 C276.1,542.8 268.7,542.8 267.1,542.5 C265.5,542.2 259.4,539.9 258.1,539.4 C256.8,538.9 252.6,537.0 252.0,536.4 C251.4,535.8 251.0,533.1 251.3,531.9Z" fill="url(#dks)" fill-rule="evenodd"/>
<path d="M272.4,501.8 C272.8,501.2 276.5,500.2 277.6,500.3 C278.7,500.4 284.2,502.7 285.2,503.3 C286.2,503.9 289.4,507.1 289.7,507.8 C290.0,508.6 289.5,511.7 289.0,512.3 C288.5,512.9 284.6,514.7 283.7,514.6 C282.8,514.5 278.5,511.4 277.6,510.8 C276.7,510.2 273.5,507.9 273.1,507.1 C272.7,506.4 272.0,502.4 272.4,501.8Z" fill="url(#dks)" fill-rule="evenodd"/>
</g>
<circle cx="255.2" cy="537.0" r="0.6" fill="#2c2a6e"/><circle cx="261.3" cy="530.0" r="0.6" fill="#6a4a30"/><circle cx="276.9" cy="535.4" r="0.6" fill="#6a4a30"/><circle cx="282.4" cy="531.7" r="0.6" fill="#2c2a6e"/><circle cx="286.7" cy="533.9" r="0.6" fill="#6a4a30"/><circle cx="278.2" cy="534.5" r="0.6" fill="#6a4a30"/><circle cx="257.3" cy="528.1" r="0.6" fill="#6a4a30"/><circle cx="275.7" cy="536.8" r="0.6" fill="#2c2a6e"/><circle cx="286.8" cy="529.9" r="0.6" fill="#6a4a30"/><circle cx="280.6" cy="533.2" r="0.6" fill="#2c2a6e"/><circle cx="278.6" cy="541.3" r="0.6" fill="#8a2a9a"/><circle cx="287.2" cy="529.2" r="0.6" fill="#6a4a30"/><circle cx="261.8" cy="520.3" r="0.6" fill="#8a2a9a"/><circle cx="285.5" cy="534.9" r="0.6" fill="#6a4a30"/><circle cx="273.9" cy="534.8" r="0.6" fill="#8a2a9a"/><circle cx="262.7" cy="534.3" r="0.6" fill="#2c2a6e"/><circle cx="261.2" cy="531.9" r="0.6" fill="#8a2a9a"/><circle cx="272.5" cy="523.9" r="0.6" fill="#8a2a9a"/><circle cx="290.4" cy="521.0" r="0.6" fill="#2c2a6e"/><circle cx="277.8" cy="531.7" r="0.6" fill="#2c2a6e"/>
<circle cx="282.8" cy="505.0" r="0.6" fill="#6a4a30"/><circle cx="285.3" cy="504.7" r="0.6" fill="#6a4a30"/><circle cx="274.7" cy="507.2" r="0.6" fill="#8a2a9a"/><circle cx="277.0" cy="509.9" r="0.6" fill="#6a4a30"/><circle cx="276.2" cy="507.3" r="0.6" fill="#6a4a30"/><circle cx="281.3" cy="506.9" r="0.6" fill="#8a2a9a"/><circle cx="281.9" cy="504.8" r="0.6" fill="#2c2a6e"/><circle cx="280.3" cy="512.0" r="0.6" fill="#8a2a9a"/><circle cx="273.7" cy="501.6" r="0.6" fill="#6a4a30"/><circle cx="281.2" cy="513.0" r="0.6" fill="#6a4a30"/>
<text x="342.4" y="438.2" font-size="9.5" fill="#111" stroke="#111" stroke-width="0.12" text-anchor="middle" font-weight="normal" font-style="normal" style="stroke-width:0.25px">ACTH12</text>
<rect x="317" y="441" width="51.0" height="52.0" fill="#fafbfd"/>
<path d="M349.2,449.1 C349.8,448.7 354.3,448.0 355.2,447.6 C356.1,447.2 359.2,443.7 359.7,443.8 C360.2,443.9 361.0,447.9 361.2,449.1 C361.4,450.3 362.1,456.6 362.0,458.1 C361.9,459.6 360.3,466.1 359.7,467.2 C359.1,468.3 356.0,470.5 355.2,470.9 C354.4,471.3 350.6,472.1 349.9,471.7 C349.2,471.3 347.1,466.9 346.9,465.6 C346.6,464.3 346.8,457.7 346.9,456.6 C347.0,455.5 348.2,452.7 348.4,452.1 C348.6,451.5 348.6,449.5 349.2,449.1Z" fill="#5659aa" fill-rule="evenodd"/>
<path d="M349.2,449.1 C349.8,448.7 354.3,448.0 355.2,447.6 C356.1,447.2 359.2,443.7 359.7,443.8 C360.2,443.9 361.0,447.9 361.2,449.1 C361.4,450.3 362.1,456.6 362.0,458.1 C361.9,459.6 360.3,466.1 359.7,467.2 C359.1,468.3 356.0,470.5 355.2,470.9 C354.4,471.3 350.6,472.1 349.9,471.7 C349.2,471.3 347.1,466.9 346.9,465.6 C346.6,464.3 346.8,457.7 346.9,456.6 C347.0,455.5 348.2,452.7 348.4,452.1 C348.6,451.5 348.6,449.5 349.2,449.1Z" fill="url(#hep)" fill-rule="evenodd"/>
<path d="M321.3,470.2 C321.9,469.5 327.0,468.1 328.1,467.9 C329.2,467.6 333.2,466.9 334.1,467.2 C335.0,467.5 338.1,470.8 338.6,471.7 C339.1,472.6 340.2,476.7 340.1,477.7 C340.0,478.7 338.4,482.8 337.9,483.7 C337.4,484.6 334.6,488.1 334.1,488.2 C333.6,488.3 332.6,485.4 331.8,485.2 C331.1,485.0 325.9,486.4 325.1,486.0 C324.3,485.6 322.4,481.5 322.0,480.7 C321.6,479.9 320.6,477.1 320.5,476.2 C320.4,475.3 320.7,470.9 321.3,470.2Z" fill="#5659aa" fill-rule="evenodd"/>
<path d="M321.3,470.2 C321.9,469.5 327.0,468.1 328.1,467.9 C329.2,467.6 333.2,466.9 334.1,467.2 C335.0,467.5 338.1,470.8 338.6,471.7 C339.1,472.6 340.2,476.7 340.1,477.7 C340.0,478.7 338.4,482.8 337.9,483.7 C337.4,484.6 334.6,488.1 334.1,488.2 C333.6,488.3 332.6,485.4 331.8,485.2 C331.1,485.0 325.9,486.4 325.1,486.0 C324.3,485.6 322.4,481.5 322.0,480.7 C321.6,479.9 320.6,477.1 320.5,476.2 C320.4,475.3 320.7,470.9 321.3,470.2Z" fill="url(#hep)" fill-rule="evenodd"/>
<circle cx="352.4" cy="457.7" r="0.5" fill="#b0b0e6"/><circle cx="352.9" cy="448.2" r="0.5" fill="#b0b0e6"/><circle cx="357.2" cy="455.1" r="0.5" fill="#9a9ad8"/><circle cx="353.2" cy="454.3" r="0.5" fill="#9a9ad8"/><circle cx="358.2" cy="467.2" r="0.5" fill="#9a9ad8"/><circle cx="361.1" cy="449.3" r="0.5" fill="#9a9ad8"/>
<circle cx="338.2" cy="473.3" r="0.5" fill="#b0b0e6"/><circle cx="321.8" cy="475.4" r="0.5" fill="#9a9ad8"/><circle cx="327.6" cy="476.2" r="0.5" fill="#b0b0e6"/><circle cx="337.2" cy="473.1" r="0.5" fill="#9a9ad8"/><circle cx="336.9" cy="473.2" r="0.5" fill="#9a9ad8"/><circle cx="325.4" cy="472.8" r="0.5" fill="#b0b0e6"/>
<line x1="355.9" y1="488.8" x2="364.2" y2="488.8" stroke="#444" stroke-width="1"/>
<clipPath id="cl_ACTH12"><path d="M352.2,503.3 C353.1,502.4 360.0,499.8 361.2,499.5 C362.4,499.2 365.9,498.7 366.5,499.5 C367.1,500.3 367.9,507.6 368.0,509.3 C368.1,511.0 367.6,518.6 367.2,519.9 C366.8,521.2 363.7,523.9 362.7,524.4 C361.7,524.9 356.1,526.3 355.2,525.9 C354.3,525.5 351.8,521.2 351.4,519.9 C351.0,518.6 349.8,512.2 349.9,510.8 C350.0,509.4 351.3,504.2 352.2,503.3Z"/><path d="M322.8,522.9 C323.4,522.4 328.4,521.6 329.6,521.4 C330.8,521.2 336.0,520.4 337.1,520.6 C338.2,520.9 341.8,523.5 342.4,524.4 C343.0,525.3 344.6,530.6 344.6,531.9 C344.6,533.1 342.9,538.5 342.4,539.4 C341.9,540.3 339.3,542.4 338.6,542.5 C337.9,542.6 335.1,541.2 334.1,541.0 C333.1,540.8 327.5,540.7 326.6,540.2 C325.7,539.7 324.0,536.0 323.6,534.9 C323.2,533.8 322.1,528.4 322.0,527.4 C321.9,526.4 322.2,523.4 322.8,522.9Z"/></clipPath>
<path d="M352.2,503.3 C353.1,502.4 360.0,499.8 361.2,499.5 C362.4,499.2 365.9,498.7 366.5,499.5 C367.1,500.3 367.9,507.6 368.0,509.3 C368.1,511.0 367.6,518.6 367.2,519.9 C366.8,521.2 363.7,523.9 362.7,524.4 C361.7,524.9 356.1,526.3 355.2,525.9 C354.3,525.5 351.8,521.2 351.4,519.9 C351.0,518.6 349.8,512.2 349.9,510.8 C350.0,509.4 351.3,504.2 352.2,503.3Z" fill="#ebcd1f" fill-rule="evenodd"/>
<path d="M322.8,522.9 C323.4,522.4 328.4,521.6 329.6,521.4 C330.8,521.2 336.0,520.4 337.1,520.6 C338.2,520.9 341.8,523.5 342.4,524.4 C343.0,525.3 344.6,530.6 344.6,531.9 C344.6,533.1 342.9,538.5 342.4,539.4 C341.9,540.3 339.3,542.4 338.6,542.5 C337.9,542.6 335.1,541.2 334.1,541.0 C333.1,540.8 327.5,540.7 326.6,540.2 C325.7,539.7 324.0,536.0 323.6,534.9 C323.2,533.8 322.1,528.4 322.0,527.4 C321.9,526.4 322.2,523.4 322.8,522.9Z" fill="#ebcd1f" fill-rule="evenodd"/>
<g clip-path="url(#cl_ACTH12)">
<path d="M359.5,502.0 C359.9,501.5 363.4,500.2 364.0,500.5 C364.6,500.8 366.3,504.9 366.5,506.0 C366.7,507.1 367.0,512.8 366.8,514.0 C366.6,515.2 364.5,519.4 364.0,520.0 C363.5,520.6 360.9,521.5 360.5,521.0 C360.1,520.5 359.1,515.2 359.0,514.0 C358.9,512.8 358.8,508.0 358.8,507.0 C358.8,506.0 359.1,502.5 359.5,502.0Z" fill="#8a2a9a" fill-rule="evenodd"/>
</g>
<g clip-path="url(#cl_ACTH12)">
<path d="M352.2,503.3 C353.1,502.4 360.0,499.8 361.2,499.5 C362.4,499.2 365.9,498.7 366.5,499.5 C367.1,500.3 367.9,507.6 368.0,509.3 C368.1,511.0 367.6,518.6 367.2,519.9 C366.8,521.2 363.7,523.9 362.7,524.4 C361.7,524.9 356.1,526.3 355.2,525.9 C354.3,525.5 351.8,521.2 351.4,519.9 C351.0,518.6 349.8,512.2 349.9,510.8 C350.0,509.4 351.3,504.2 352.2,503.3Z" fill="url(#dkp)" fill-rule="evenodd"/>
<path d="M322.8,522.9 C323.4,522.4 328.4,521.6 329.6,521.4 C330.8,521.2 336.0,520.4 337.1,520.6 C338.2,520.9 341.8,523.5 342.4,524.4 C343.0,525.3 344.6,530.6 344.6,531.9 C344.6,533.1 342.9,538.5 342.4,539.4 C341.9,540.3 339.3,542.4 338.6,542.5 C337.9,542.6 335.1,541.2 334.1,541.0 C333.1,540.8 327.5,540.7 326.6,540.2 C325.7,539.7 324.0,536.0 323.6,534.9 C323.2,533.8 322.1,528.4 322.0,527.4 C321.9,526.4 322.2,523.4 322.8,522.9Z" fill="url(#dkp)" fill-rule="evenodd"/>
</g>
<circle cx="353.3" cy="509.4" r="0.6" fill="#8a2a9a"/><circle cx="365.9" cy="520.9" r="0.6" fill="#8a2a9a"/><circle cx="359.8" cy="518.5" r="0.6" fill="#2c2a6e"/><circle cx="366.8" cy="510.3" r="0.6" fill="#2c2a6e"/><circle cx="361.6" cy="507.1" r="0.6" fill="#2c2a6e"/><circle cx="366.4" cy="514.0" r="0.6" fill="#2c2a6e"/><circle cx="358.4" cy="508.6" r="0.6" fill="#8a2a9a"/><circle cx="354.5" cy="519.0" r="0.6" fill="#8a2a9a"/><circle cx="357.3" cy="505.8" r="0.6" fill="#8a2a9a"/><circle cx="360.0" cy="509.9" r="0.6" fill="#2c2a6e"/><circle cx="361.5" cy="501.5" r="0.6" fill="#8a2a9a"/><circle cx="359.9" cy="511.5" r="0.6" fill="#8a2a9a"/><circle cx="352.4" cy="504.6" r="0.6" fill="#2c2a6e"/><circle cx="353.1" cy="514.2" r="0.6" fill="#8a2a9a"/><circle cx="354.2" cy="506.3" r="0.6" fill="#2c2a6e"/><circle cx="366.0" cy="519.3" r="0.6" fill="#8a2a9a"/><circle cx="356.8" cy="519.2" r="0.6" fill="#2c2a6e"/><circle cx="356.7" cy="508.4" r="0.6" fill="#2c2a6e"/><circle cx="358.9" cy="514.7" r="0.6" fill="#8a2a9a"/><circle cx="352.2" cy="512.8" r="0.6" fill="#2c2a6e"/>
<circle cx="330.7" cy="534.7" r="0.6" fill="#8a2a9a"/><circle cx="342.2" cy="531.0" r="0.6" fill="#8a2a9a"/><circle cx="327.6" cy="523.0" r="0.6" fill="#2c2a6e"/><circle cx="337.8" cy="539.1" r="0.6" fill="#8a2a9a"/><circle cx="334.9" cy="521.4" r="0.6" fill="#8a2a9a"/><circle cx="343.8" cy="534.3" r="0.6" fill="#8a2a9a"/><circle cx="337.8" cy="523.1" r="0.6" fill="#2c2a6e"/><circle cx="326.3" cy="526.3" r="0.6" fill="#2c2a6e"/><circle cx="322.2" cy="527.2" r="0.6" fill="#8a2a9a"/><circle cx="328.3" cy="527.5" r="0.6" fill="#2c2a6e"/>
<text x="416.1" y="438.2" font-size="9.5" fill="#111" stroke="#111" stroke-width="0.12" text-anchor="middle" font-weight="normal" font-style="normal" style="stroke-width:0.25px">ACTH2</text>
<rect x="394" y="441" width="51.0" height="52.0" fill="#fafbfd"/>
<path d="M405.8,440.8 C405.9,440.8 412.5,441.2 412.7,441.3 C412.9,441.4 419.1,445.1 419.3,445.3 C419.5,445.5 427.1,450.5 427.3,450.7 C427.5,450.9 432.5,457.1 432.7,457.3 C432.9,457.5 436.6,462.5 436.7,462.7 C436.8,462.9 439.9,466.5 440.0,466.7 C440.1,466.9 440.7,474.4 440.7,474.7 C440.7,475.0 440.1,483.8 440.0,484.0 C439.9,484.2 434.3,489.2 434.0,489.3 C433.7,489.4 425.0,491.3 424.7,491.3 C424.4,491.3 416.9,490.8 416.7,490.7 C416.5,490.6 411.4,485.5 411.3,485.3 C411.2,485.1 408.8,478.9 408.7,478.7 C408.6,478.5 407.4,471.0 407.3,470.7 C407.2,470.4 403.4,462.9 403.3,462.7 C403.2,462.5 400.1,457.5 400.0,457.3 C399.9,457.1 399.3,452.2 399.3,452.0 C399.3,451.8 401.9,445.5 402.0,445.3 C402.1,445.1 403.8,441.2 403.8,441.2 C403.8,441.2 404.4,443.2 404.5,443.3 C404.6,443.4 406.9,449.3 407.0,449.5 C407.1,449.7 410.4,454.8 410.5,455.0 C410.6,455.2 414.4,459.6 414.5,459.8 C414.6,460.0 417.5,464.4 417.5,464.5 C417.5,464.6 414.6,467.4 414.5,467.5 C414.4,467.6 413.0,471.9 413.0,472.0 C413.0,472.1 416.6,474.9 416.7,474.9 C416.8,474.9 421.8,473.6 422.0,473.5 C422.2,473.4 425.9,470.8 426.0,470.7 C426.1,470.6 425.6,466.6 425.5,466.5 C425.4,466.4 421.1,462.7 421.0,462.5 C420.9,462.3 417.1,457.5 417.0,457.3 C416.9,457.1 413.1,453.2 413.0,453.0 C412.9,452.8 409.1,448.0 409.0,447.8 C408.9,447.6 406.4,441.6 406.3,441.5 C406.2,441.4 405.7,440.8 405.8,440.8Z" fill="#8886ca" fill-rule="evenodd"/>
<path d="M405.8,440.8 C405.9,440.8 412.5,441.2 412.7,441.3 C412.9,441.4 419.1,445.1 419.3,445.3 C419.5,445.5 427.1,450.5 427.3,450.7 C427.5,450.9 432.5,457.1 432.7,457.3 C432.9,457.5 436.6,462.5 436.7,462.7 C436.8,462.9 439.9,466.5 440.0,466.7 C440.1,466.9 440.7,474.4 440.7,474.7 C440.7,475.0 440.1,483.8 440.0,484.0 C439.9,484.2 434.3,489.2 434.0,489.3 C433.7,489.4 425.0,491.3 424.7,491.3 C424.4,491.3 416.9,490.8 416.7,490.7 C416.5,490.6 411.4,485.5 411.3,485.3 C411.2,485.1 408.8,478.9 408.7,478.7 C408.6,478.5 407.4,471.0 407.3,470.7 C407.2,470.4 403.4,462.9 403.3,462.7 C403.2,462.5 400.1,457.5 400.0,457.3 C399.9,457.1 399.3,452.2 399.3,452.0 C399.3,451.8 401.9,445.5 402.0,445.3 C402.1,445.1 403.8,441.2 403.8,441.2 C403.8,441.2 404.4,443.2 404.5,443.3 C404.6,443.4 406.9,449.3 407.0,449.5 C407.1,449.7 410.4,454.8 410.5,455.0 C410.6,455.2 414.4,459.6 414.5,459.8 C414.6,460.0 417.5,464.4 417.5,464.5 C417.5,464.6 414.6,467.4 414.5,467.5 C414.4,467.6 413.0,471.9 413.0,472.0 C413.0,472.1 416.6,474.9 416.7,474.9 C416.8,474.9 421.8,473.6 422.0,473.5 C422.2,473.4 425.9,470.8 426.0,470.7 C426.1,470.6 425.6,466.6 425.5,466.5 C425.4,466.4 421.1,462.7 421.0,462.5 C420.9,462.3 417.1,457.5 417.0,457.3 C416.9,457.1 413.1,453.2 413.0,453.0 C412.9,452.8 409.1,448.0 409.0,447.8 C408.9,447.6 406.4,441.6 406.3,441.5 C406.2,441.4 405.7,440.8 405.8,440.8Z" fill="url(#hep)" fill-rule="evenodd"/>
<circle cx="419.0" cy="452.7" r="0.5" fill="#9a9ad8"/><circle cx="408.7" cy="462.2" r="0.5" fill="#b0b0e6"/><circle cx="408.7" cy="442.5" r="0.5" fill="#b0b0e6"/><circle cx="429.0" cy="459.1" r="0.5" fill="#b0b0e6"/><circle cx="429.9" cy="466.3" r="0.5" fill="#9a9ad8"/><circle cx="419.8" cy="450.9" r="0.5" fill="#9a9ad8"/><circle cx="430.8" cy="455.7" r="0.5" fill="#b0b0e6"/><circle cx="424.6" cy="486.1" r="0.5" fill="#b0b0e6"/><circle cx="415.6" cy="451.6" r="0.5" fill="#9a9ad8"/><circle cx="416.5" cy="476.6" r="0.5" fill="#9a9ad8"/><circle cx="415.6" cy="486.2" r="0.5" fill="#b0b0e6"/><circle cx="426.8" cy="459.9" r="0.5" fill="#b0b0e6"/><circle cx="403.8" cy="444.8" r="0.5" fill="#9a9ad8"/><circle cx="407.9" cy="458.8" r="0.5" fill="#b0b0e6"/><circle cx="433.3" cy="462.6" r="0.5" fill="#9a9ad8"/><circle cx="412.7" cy="478.0" r="0.5" fill="#b0b0e6"/><circle cx="432.9" cy="479.5" r="0.5" fill="#9a9ad8"/><circle cx="414.8" cy="464.2" r="0.5" fill="#9a9ad8"/><circle cx="409.9" cy="478.5" r="0.5" fill="#b0b0e6"/><circle cx="430.2" cy="475.6" r="0.5" fill="#b0b0e6"/><circle cx="411.6" cy="477.2" r="0.5" fill="#9a9ad8"/>
<line x1="434" y1="488.7" x2="441.5" y2="488.7" stroke="#444" stroke-width="1"/>
<clipPath id="cl_ACTH2"><path d="M400.7,498.7 C400.9,498.6 409.7,497.3 410.0,497.3 C410.3,497.3 420.4,501.1 420.7,501.3 C421.0,501.5 428.5,506.5 428.7,506.7 C428.9,506.9 433.9,511.8 434.0,512.0 C434.1,512.2 437.2,519.7 437.3,520.0 C437.4,520.3 438.1,530.4 438.0,530.7 C437.9,531.0 434.2,538.5 434.0,538.7 C433.8,538.9 425.0,542.7 424.7,542.7 C424.4,542.7 414.3,541.4 414.0,541.3 C413.7,541.2 408.8,536.2 408.7,536.0 C408.6,535.8 406.1,528.3 406.0,528.0 C405.9,527.7 400.9,520.2 400.7,520.0 C400.5,519.8 395.4,514.9 395.3,514.7 C395.2,514.5 394.0,508.2 394.0,508.0 C394.0,507.8 396.6,501.5 396.7,501.3 C396.8,501.1 400.5,498.8 400.7,498.7Z"/></clipPath>
<path d="M400.7,498.7 C400.9,498.6 409.7,497.3 410.0,497.3 C410.3,497.3 420.4,501.1 420.7,501.3 C421.0,501.5 428.5,506.5 428.7,506.7 C428.9,506.9 433.9,511.8 434.0,512.0 C434.1,512.2 437.2,519.7 437.3,520.0 C437.4,520.3 438.1,530.4 438.0,530.7 C437.9,531.0 434.2,538.5 434.0,538.7 C433.8,538.9 425.0,542.7 424.7,542.7 C424.4,542.7 414.3,541.4 414.0,541.3 C413.7,541.2 408.8,536.2 408.7,536.0 C408.6,535.8 406.1,528.3 406.0,528.0 C405.9,527.7 400.9,520.2 400.7,520.0 C400.5,519.8 395.4,514.9 395.3,514.7 C395.2,514.5 394.0,508.2 394.0,508.0 C394.0,507.8 396.6,501.5 396.7,501.3 C396.8,501.1 400.5,498.8 400.7,498.7Z M414.7,518.7 C414.8,518.6 420.6,516.7 420.7,516.7 C420.8,516.7 423.3,521.1 423.3,521.3 C423.3,521.5 421.4,526.6 421.3,526.7 C421.2,526.8 416.1,528.7 416.0,528.7 C415.9,528.7 412.7,525.4 412.7,525.3 C412.7,525.2 414.0,521.4 414.0,521.3 C414.0,521.2 414.6,518.8 414.7,518.7Z" fill="#ebcd1f" fill-rule="evenodd"/>
<g clip-path="url(#cl_ACTH2)">
<path d="M394.0,506.0 C394.1,504.8 397.2,503.0 398.0,503.0 C398.8,503.0 402.4,505.1 403.0,506.0 C403.6,506.9 405.1,512.8 405.0,514.0 C404.9,515.2 402.7,519.8 402.0,520.0 C401.3,520.2 397.7,518.2 397.0,517.0 C396.3,515.8 393.9,507.2 394.0,506.0Z" fill="#cfb43a" fill-rule="evenodd"/>
</g>
<g clip-path="url(#cl_ACTH2)">
<path d="M400.7,498.7 C400.9,498.6 409.7,497.3 410.0,497.3 C410.3,497.3 420.4,501.1 420.7,501.3 C421.0,501.5 428.5,506.5 428.7,506.7 C428.9,506.9 433.9,511.8 434.0,512.0 C434.1,512.2 437.2,519.7 437.3,520.0 C437.4,520.3 438.1,530.4 438.0,530.7 C437.9,531.0 434.2,538.5 434.0,538.7 C433.8,538.9 425.0,542.7 424.7,542.7 C424.4,542.7 414.3,541.4 414.0,541.3 C413.7,541.2 408.8,536.2 408.7,536.0 C408.6,535.8 406.1,528.3 406.0,528.0 C405.9,527.7 400.9,520.2 400.7,520.0 C400.5,519.8 395.4,514.9 395.3,514.7 C395.2,514.5 394.0,508.2 394.0,508.0 C394.0,507.8 396.6,501.5 396.7,501.3 C396.8,501.1 400.5,498.8 400.7,498.7Z M414.7,518.7 C414.8,518.6 420.6,516.7 420.7,516.7 C420.8,516.7 423.3,521.1 423.3,521.3 C423.3,521.5 421.4,526.6 421.3,526.7 C421.2,526.8 416.1,528.7 416.0,528.7 C415.9,528.7 412.7,525.4 412.7,525.3 C412.7,525.2 414.0,521.4 414.0,521.3 C414.0,521.2 414.6,518.8 414.7,518.7Z" fill="url(#dks)" fill-rule="evenodd"/>
</g>
<path d="M414.7,518.7 C415.3,518.3 420.0,516.5 420.7,516.7 C421.4,516.9 423.2,520.5 423.3,521.3 C423.4,522.1 421.9,526.1 421.3,526.7 C420.7,527.3 416.7,528.8 416.0,528.7 C415.3,528.6 412.9,525.9 412.7,525.3 C412.5,524.7 413.8,521.8 414.0,521.3 C414.2,520.8 414.1,519.1 414.7,518.7Z" fill="#ffffff" fill-rule="evenodd"/>
<circle cx="395.1" cy="507.9" r="0.6" fill="#6a4a30"/><circle cx="425.5" cy="518.4" r="0.6" fill="#6a4a30"/><circle cx="428.8" cy="538.8" r="0.6" fill="#6a4a30"/><circle cx="407.3" cy="528.7" r="0.6" fill="#8a2a9a"/><circle cx="420.7" cy="512.2" r="0.6" fill="#d0232a"/><circle cx="414.3" cy="532.9" r="0.6" fill="#2c2a6e"/><circle cx="416.5" cy="515.1" r="0.6" fill="#8a2a9a"/><circle cx="404.9" cy="500.2" r="0.6" fill="#2c2a6e"/><circle cx="401.1" cy="516.7" r="0.6" fill="#2c2a6e"/><circle cx="397.7" cy="501.7" r="0.6" fill="#6a4a30"/><circle cx="401.6" cy="503.3" r="0.6" fill="#6a4a30"/><circle cx="421.3" cy="527.9" r="0.6" fill="#2c2a6e"/><circle cx="428.3" cy="510.6" r="0.6" fill="#d0232a"/><circle cx="418.9" cy="514.2" r="0.6" fill="#d0232a"/><circle cx="402.8" cy="508.5" r="0.6" fill="#8a2a9a"/><circle cx="404.4" cy="510.1" r="0.6" fill="#8a2a9a"/><circle cx="408.4" cy="515.3" r="0.6" fill="#8a2a9a"/><circle cx="416.3" cy="507.8" r="0.6" fill="#2c2a6e"/><circle cx="422.7" cy="542.3" r="0.6" fill="#2c2a6e"/><circle cx="404.2" cy="517.7" r="0.6" fill="#d0232a"/>
<text x="486.6" y="438.2" font-size="9.5" fill="#111" stroke="#111" stroke-width="0.12" text-anchor="middle" font-weight="normal" font-style="normal" style="stroke-width:0.25px">SCA5</text>
<rect x="463" y="441" width="51.0" height="52.0" fill="#fafbfd"/>
<path d="M466.3,467.2 C466.8,466.3 470.4,462.7 471.6,461.9 C472.8,461.1 479.5,458.1 480.6,457.4 C481.7,456.7 484.1,454.0 485.1,453.6 C486.1,453.2 491.4,452.9 492.7,452.8 C494.0,452.7 499.1,452.1 500.2,452.1 C501.3,452.1 505.2,452.6 506.2,452.8 C507.2,453.1 511.6,454.3 512.2,455.1 C512.8,455.9 513.1,461.5 513.0,462.6 C512.9,463.7 511.4,467.8 510.7,468.7 C510.0,469.6 505.4,473.1 504.7,473.2 C504.0,473.3 503.0,470.3 502.4,470.2 C501.8,470.1 498.1,471.4 497.2,471.7 C496.3,471.9 492.1,472.7 491.1,473.2 C490.1,473.7 485.7,476.8 485.1,477.7 C484.5,478.6 484.0,482.7 483.6,483.7 C483.2,484.7 481.4,489.1 480.6,489.7 C479.9,490.3 475.6,491.4 474.6,491.3 C473.6,491.2 469.3,489.1 468.6,488.2 C467.9,487.3 466.6,481.9 466.3,480.7 C466.0,479.4 465.5,474.3 465.5,473.2 C465.5,472.1 465.8,468.1 466.3,467.2Z" fill="#5b59b1" fill-rule="evenodd"/>
<path d="M466.3,467.2 C466.8,466.3 470.4,462.7 471.6,461.9 C472.8,461.1 479.5,458.1 480.6,457.4 C481.7,456.7 484.1,454.0 485.1,453.6 C486.1,453.2 491.4,452.9 492.7,452.8 C494.0,452.7 499.1,452.1 500.2,452.1 C501.3,452.1 505.2,452.6 506.2,452.8 C507.2,453.1 511.6,454.3 512.2,455.1 C512.8,455.9 513.1,461.5 513.0,462.6 C512.9,463.7 511.4,467.8 510.7,468.7 C510.0,469.6 505.4,473.1 504.7,473.2 C504.0,473.3 503.0,470.3 502.4,470.2 C501.8,470.1 498.1,471.4 497.2,471.7 C496.3,471.9 492.1,472.7 491.1,473.2 C490.1,473.7 485.7,476.8 485.1,477.7 C484.5,478.6 484.0,482.7 483.6,483.7 C483.2,484.7 481.4,489.1 480.6,489.7 C479.9,490.3 475.6,491.4 474.6,491.3 C473.6,491.2 469.3,489.1 468.6,488.2 C467.9,487.3 466.6,481.9 466.3,480.7 C466.0,479.4 465.5,474.3 465.5,473.2 C465.5,472.1 465.8,468.1 466.3,467.2Z" fill="url(#hep)" fill-rule="evenodd"/>
<path d="M482.0,446.5 C482.6,446.3 487.9,445.9 489.0,446.0 C490.1,446.1 495.3,447.2 495.7,447.5 C496.1,447.8 494.8,449.3 494.0,449.5 C493.2,449.7 487.0,449.6 486.0,449.5 C485.0,449.4 482.3,448.8 482.0,448.5 C481.7,448.2 481.4,446.7 482.0,446.5Z" fill="#5b59b1" fill-rule="evenodd"/>
<path d="M482.0,446.5 C482.6,446.3 487.9,445.9 489.0,446.0 C490.1,446.1 495.3,447.2 495.7,447.5 C496.1,447.8 494.8,449.3 494.0,449.5 C493.2,449.7 487.0,449.6 486.0,449.5 C485.0,449.4 482.3,448.8 482.0,448.5 C481.7,448.2 481.4,446.7 482.0,446.5Z" fill="url(#hep)" fill-rule="evenodd"/>
<circle cx="509.7" cy="466.7" r="0.5" fill="#9a9ad8"/><circle cx="486.8" cy="462.3" r="0.5" fill="#9a9ad8"/><circle cx="470.5" cy="475.5" r="0.5" fill="#b0b0e6"/><circle cx="475.8" cy="466.6" r="0.5" fill="#9a9ad8"/><circle cx="467.3" cy="480.8" r="0.5" fill="#9a9ad8"/><circle cx="484.9" cy="466.7" r="0.5" fill="#b0b0e6"/><circle cx="489.0" cy="471.1" r="0.5" fill="#b0b0e6"/><circle cx="470.3" cy="467.6" r="0.5" fill="#9a9ad8"/><circle cx="495.9" cy="455.7" r="0.5" fill="#9a9ad8"/><circle cx="484.4" cy="462.7" r="0.5" fill="#b0b0e6"/><circle cx="497.2" cy="468.5" r="0.5" fill="#9a9ad8"/><circle cx="480.3" cy="474.3" r="0.5" fill="#b0b0e6"/>
<circle cx="492.5" cy="448.8" r="0.5" fill="#9a9ad8"/><circle cx="487.4" cy="447.4" r="0.5" fill="#9a9ad8"/><circle cx="487.9" cy="446.5" r="0.5" fill="#9a9ad8"/>
<line x1="500.9" y1="488.7" x2="508.8" y2="488.7" stroke="#444" stroke-width="1"/>
<clipPath id="cl_SCA5"><path d="M465.5,518.4 C466.1,517.3 470.5,513.2 471.6,512.3 C472.7,511.4 477.7,508.4 479.1,507.8 C480.5,507.2 486.6,505.1 488.1,504.8 C489.6,504.6 495.8,504.7 497.2,504.8 C498.6,504.9 503.8,505.8 504.7,506.3 C505.6,506.8 508.2,509.8 508.5,510.8 C508.8,511.8 508.1,517.4 507.7,518.4 C507.3,519.4 504.1,522.4 503.2,522.9 C502.3,523.4 498.3,524.1 497.2,524.4 C496.1,524.6 490.6,525.4 489.6,525.9 C488.6,526.4 485.7,529.4 485.1,530.4 C484.5,531.4 482.7,537.0 482.1,537.9 C481.5,538.8 478.6,540.8 477.6,540.9 C476.6,541.0 471.1,539.9 470.1,539.4 C469.1,538.9 466.0,536.0 465.5,534.9 C465.0,533.8 464.0,527.3 464.0,525.9 C464.0,524.5 464.9,519.5 465.5,518.4Z"/><path d="M480.6,500.0 C481.1,499.8 486.0,499.3 487.0,499.3 C488.0,499.3 492.4,500.2 492.7,500.5 C493.0,500.8 491.7,502.3 491.0,502.5 C490.3,502.7 484.9,502.9 484.0,502.8 C483.1,502.7 480.9,502.0 480.6,501.8 C480.3,501.6 480.1,500.2 480.6,500.0Z"/></clipPath>
<path d="M465.5,518.4 C466.1,517.3 470.5,513.2 471.6,512.3 C472.7,511.4 477.7,508.4 479.1,507.8 C480.5,507.2 486.6,505.1 488.1,504.8 C489.6,504.6 495.8,504.7 497.2,504.8 C498.6,504.9 503.8,505.8 504.7,506.3 C505.6,506.8 508.2,509.8 508.5,510.8 C508.8,511.8 508.1,517.4 507.7,518.4 C507.3,519.4 504.1,522.4 503.2,522.9 C502.3,523.4 498.3,524.1 497.2,524.4 C496.1,524.6 490.6,525.4 489.6,525.9 C488.6,526.4 485.7,529.4 485.1,530.4 C484.5,531.4 482.7,537.0 482.1,537.9 C481.5,538.8 478.6,540.8 477.6,540.9 C476.6,541.0 471.1,539.9 470.1,539.4 C469.1,538.9 466.0,536.0 465.5,534.9 C465.0,533.8 464.0,527.3 464.0,525.9 C464.0,524.5 464.9,519.5 465.5,518.4Z" fill="#d0232a" fill-rule="evenodd"/>
<path d="M480.6,500.0 C481.1,499.8 486.0,499.3 487.0,499.3 C488.0,499.3 492.4,500.2 492.7,500.5 C493.0,500.8 491.7,502.3 491.0,502.5 C490.3,502.7 484.9,502.9 484.0,502.8 C483.1,502.7 480.9,502.0 480.6,501.8 C480.3,501.6 480.1,500.2 480.6,500.0Z" fill="#d0232a" fill-rule="evenodd"/>
<g clip-path="url(#cl_SCA5)">
<path d="M465.5,518.4 C466.1,517.3 470.5,513.2 471.6,512.3 C472.7,511.4 477.7,508.4 479.1,507.8 C480.5,507.2 486.6,505.1 488.1,504.8 C489.6,504.6 495.8,504.7 497.2,504.8 C498.6,504.9 503.8,505.8 504.7,506.3 C505.6,506.8 508.2,509.8 508.5,510.8 C508.8,511.8 508.1,517.4 507.7,518.4 C507.3,519.4 504.1,522.4 503.2,522.9 C502.3,523.4 498.3,524.1 497.2,524.4 C496.1,524.6 490.6,525.4 489.6,525.9 C488.6,526.4 485.7,529.4 485.1,530.4 C484.5,531.4 482.7,537.0 482.1,537.9 C481.5,538.8 478.6,540.8 477.6,540.9 C476.6,541.0 471.1,539.9 470.1,539.4 C469.1,538.9 466.0,536.0 465.5,534.9 C465.0,533.8 464.0,527.3 464.0,525.9 C464.0,524.5 464.9,519.5 465.5,518.4Z" fill="url(#ltp2)" fill-rule="evenodd"/>
<path d="M480.6,500.0 C481.1,499.8 486.0,499.3 487.0,499.3 C488.0,499.3 492.4,500.2 492.7,500.5 C493.0,500.8 491.7,502.3 491.0,502.5 C490.3,502.7 484.9,502.9 484.0,502.8 C483.1,502.7 480.9,502.0 480.6,501.8 C480.3,501.6 480.1,500.2 480.6,500.0Z" fill="url(#ltp2)" fill-rule="evenodd"/>
</g>
<circle cx="500.5" cy="519.5" r="0.6" fill="#f08838"/><circle cx="484.5" cy="510.7" r="0.6" fill="#f08838"/><circle cx="499.9" cy="519.1" r="0.6" fill="#f08838"/><circle cx="496.8" cy="511.0" r="0.6" fill="#f08838"/><circle cx="476.6" cy="523.6" r="0.6" fill="#f08838"/><circle cx="468.8" cy="522.5" r="0.6" fill="#ebcd1f"/><circle cx="477.4" cy="535.0" r="0.6" fill="#f08838"/><circle cx="481.3" cy="537.4" r="0.6" fill="#ebcd1f"/><circle cx="472.7" cy="521.9" r="0.6" fill="#ebcd1f"/><circle cx="471.0" cy="517.8" r="0.6" fill="#ebcd1f"/><circle cx="475.0" cy="531.0" r="0.6" fill="#ebcd1f"/><circle cx="465.8" cy="525.1" r="0.6" fill="#f08838"/><circle cx="493.7" cy="516.5" r="0.6" fill="#f0a050"/><circle cx="490.7" cy="524.7" r="0.6" fill="#f08838"/><circle cx="492.9" cy="515.9" r="0.6" fill="#ebcd1f"/><circle cx="482.9" cy="528.6" r="0.6" fill="#f0a050"/><circle cx="486.4" cy="511.3" r="0.6" fill="#f08838"/><circle cx="491.5" cy="522.5" r="0.6" fill="#ebcd1f"/><circle cx="483.9" cy="527.1" r="0.6" fill="#f0a050"/><circle cx="481.8" cy="507.2" r="0.6" fill="#f08838"/><circle cx="483.2" cy="508.1" r="0.6" fill="#f0a050"/><circle cx="486.4" cy="528.5" r="0.6" fill="#f08838"/><circle cx="492.3" cy="507.8" r="0.6" fill="#f08838"/><circle cx="498.6" cy="523.3" r="0.6" fill="#f08838"/><circle cx="503.4" cy="515.2" r="0.6" fill="#ebcd1f"/><circle cx="473.8" cy="534.9" r="0.6" fill="#f08838"/><circle cx="471.1" cy="537.2" r="0.6" fill="#f08838"/><circle cx="504.3" cy="521.3" r="0.6" fill="#f08838"/><circle cx="473.3" cy="514.3" r="0.6" fill="#ebcd1f"/><circle cx="503.8" cy="510.9" r="0.6" fill="#f08838"/><circle cx="469.1" cy="524.0" r="0.6" fill="#f08838"/><circle cx="503.9" cy="513.9" r="0.6" fill="#f0a050"/><circle cx="496.8" cy="518.2" r="0.6" fill="#f0a050"/><circle cx="480.0" cy="532.4" r="0.6" fill="#f0a050"/><circle cx="474.2" cy="527.0" r="0.6" fill="#f08838"/><circle cx="477.2" cy="523.4" r="0.6" fill="#f08838"/><circle cx="491.4" cy="520.4" r="0.6" fill="#f08838"/><circle cx="503.9" cy="509.6" r="0.6" fill="#ebcd1f"/><circle cx="491.3" cy="506.4" r="0.6" fill="#f08838"/><circle cx="468.7" cy="517.7" r="0.6" fill="#ebcd1f"/><circle cx="482.4" cy="515.7" r="0.6" fill="#ebcd1f"/><circle cx="473.1" cy="527.3" r="0.6" fill="#f0a050"/><circle cx="484.1" cy="507.1" r="0.6" fill="#ebcd1f"/><circle cx="481.9" cy="514.3" r="0.6" fill="#f08838"/><circle cx="466.5" cy="534.4" r="0.6" fill="#f08838"/><circle cx="490.5" cy="525.7" r="0.6" fill="#f0a050"/><circle cx="475.1" cy="537.4" r="0.6" fill="#f08838"/><circle cx="504.6" cy="508.6" r="0.6" fill="#ebcd1f"/><circle cx="491.1" cy="523.1" r="0.6" fill="#f0a050"/><circle cx="500.2" cy="511.1" r="0.6" fill="#f08838"/><circle cx="466.8" cy="527.4" r="0.6" fill="#f0a050"/><circle cx="495.8" cy="505.0" r="0.6" fill="#f0a050"/><circle cx="497.2" cy="521.6" r="0.6" fill="#f0a050"/><circle cx="475.6" cy="528.0" r="0.6" fill="#f08838"/><circle cx="478.9" cy="531.9" r="0.6" fill="#f08838"/>
<circle cx="489.2" cy="500.2" r="0.6" fill="#f0a050"/><circle cx="488.9" cy="502.5" r="0.6" fill="#f08838"/><circle cx="484.2" cy="502.5" r="0.6" fill="#ebcd1f"/><circle cx="481.6" cy="501.1" r="0.6" fill="#ebcd1f"/><circle cx="483.8" cy="500.1" r="0.6" fill="#ebcd1f"/><circle cx="484.6" cy="502.4" r="0.6" fill="#f08838"/><circle cx="487.9" cy="500.6" r="0.6" fill="#f0a050"/><circle cx="486.3" cy="501.2" r="0.6" fill="#f08838"/><circle cx="491.0" cy="500.8" r="0.6" fill="#ebcd1f"/><circle cx="487.5" cy="500.4" r="0.6" fill="#ebcd1f"/><circle cx="485.3" cy="501.3" r="0.6" fill="#ebcd1f"/><circle cx="484.8" cy="499.8" r="0.6" fill="#f08838"/><circle cx="491.0" cy="502.0" r="0.6" fill="#ebcd1f"/><circle cx="490.5" cy="502.2" r="0.6" fill="#f08838"/><circle cx="491.2" cy="501.9" r="0.6" fill="#f0a050"/><circle cx="481.9" cy="500.0" r="0.6" fill="#f08838"/><circle cx="481.7" cy="501.9" r="0.6" fill="#f08838"/><circle cx="486.4" cy="499.8" r="0.6" fill="#ebcd1f"/><circle cx="484.2" cy="500.5" r="0.6" fill="#f08838"/><circle cx="480.9" cy="500.2" r="0.6" fill="#f08838"/><circle cx="481.2" cy="502.0" r="0.6" fill="#f08838"/><circle cx="489.9" cy="501.4" r="0.6" fill="#f0a050"/><circle cx="490.9" cy="501.5" r="0.6" fill="#f08838"/><circle cx="486.9" cy="499.6" r="0.6" fill="#f0a050"/><circle cx="489.1" cy="501.2" r="0.6" fill="#ebcd1f"/><circle cx="489.2" cy="502.2" r="0.6" fill="#f08838"/><circle cx="483.0" cy="502.0" r="0.6" fill="#f08838"/>
<text x="559.6" y="438.2" font-size="9.5" fill="#111" stroke="#111" stroke-width="0.12" text-anchor="middle" font-weight="normal" font-style="normal" style="stroke-width:0.25px">SCA6</text>
<rect x="535" y="441" width="50.0" height="52.0" fill="#fafbfd"/>
<path d="M552.1,449.1 C553.3,448.5 559.7,447.9 561.1,448.3 C562.5,448.7 567.7,453.3 568.7,454.4 C569.7,455.5 572.7,459.9 573.2,461.1 C573.7,462.3 574.7,467.4 574.7,468.7 C574.7,470.0 573.8,475.3 573.2,476.2 C572.6,477.1 568.2,479.8 567.2,480.0 C566.2,480.2 562.2,478.9 561.1,478.5 C560.0,478.1 554.7,476.0 553.6,475.4 C552.5,474.8 548.9,472.0 548.3,470.9 C547.7,469.8 546.2,463.9 546.1,462.6 C546.0,461.3 546.3,456.2 546.8,455.1 C547.3,454.0 550.9,449.7 552.1,449.1Z" fill="#5b5bb5" fill-rule="evenodd"/>
<path d="M552.1,449.1 C553.3,448.5 559.7,447.9 561.1,448.3 C562.5,448.7 567.7,453.3 568.7,454.4 C569.7,455.5 572.7,459.9 573.2,461.1 C573.7,462.3 574.7,467.4 574.7,468.7 C574.7,470.0 573.8,475.3 573.2,476.2 C572.6,477.1 568.2,479.8 567.2,480.0 C566.2,480.2 562.2,478.9 561.1,478.5 C560.0,478.1 554.7,476.0 553.6,475.4 C552.5,474.8 548.9,472.0 548.3,470.9 C547.7,469.8 546.2,463.9 546.1,462.6 C546.0,461.3 546.3,456.2 546.8,455.1 C547.3,454.0 550.9,449.7 552.1,449.1Z" fill="url(#hep)" fill-rule="evenodd"/>
<circle cx="560.2" cy="473.6" r="0.5" fill="#9a9ad8"/><circle cx="573.8" cy="467.1" r="0.5" fill="#b0b0e6"/><circle cx="562.6" cy="453.3" r="0.5" fill="#9a9ad8"/><circle cx="568.0" cy="463.8" r="0.5" fill="#9a9ad8"/><circle cx="564.1" cy="459.6" r="0.5" fill="#b0b0e6"/><circle cx="567.4" cy="461.7" r="0.5" fill="#9a9ad8"/><circle cx="556.7" cy="457.9" r="0.5" fill="#b0b0e6"/>
<line x1="569.4" y1="488.7" x2="577.7" y2="488.7" stroke="#444" stroke-width="1"/>
<clipPath id="cl_SCA6"><path d="M538.6,515.3 C539.6,514.2 546.1,508.6 547.6,507.8 C549.1,507.0 555.2,505.5 556.6,505.6 C558.0,505.7 563.1,508.6 564.2,509.3 C565.3,510.0 569.4,512.9 570.2,513.8 C571.0,514.7 573.6,518.6 574.0,519.9 C574.4,521.2 574.9,527.6 574.7,528.9 C574.5,530.1 572.7,534.2 571.7,534.9 C570.7,535.6 564.2,537.2 562.7,537.2 C561.2,537.2 555.1,535.3 553.6,534.9 C552.1,534.5 546.0,532.5 544.6,531.9 C543.2,531.3 537.8,528.3 537.0,527.4 C536.2,526.5 535.4,522.4 535.5,521.4 C535.6,520.4 537.6,516.4 538.6,515.3Z"/></clipPath>
<path d="M538.6,515.3 C539.6,514.2 546.1,508.6 547.6,507.8 C549.1,507.0 555.2,505.5 556.6,505.6 C558.0,505.7 563.1,508.6 564.2,509.3 C565.3,510.0 569.4,512.9 570.2,513.8 C571.0,514.7 573.6,518.6 574.0,519.9 C574.4,521.2 574.9,527.6 574.7,528.9 C574.5,530.1 572.7,534.2 571.7,534.9 C570.7,535.6 564.2,537.2 562.7,537.2 C561.2,537.2 555.1,535.3 553.6,534.9 C552.1,534.5 546.0,532.5 544.6,531.9 C543.2,531.3 537.8,528.3 537.0,527.4 C536.2,526.5 535.4,522.4 535.5,521.4 C535.6,520.4 537.6,516.4 538.6,515.3Z" fill="#d0222e" fill-rule="evenodd"/>
<g clip-path="url(#cl_SCA6)">
<path d="M538.6,515.3 C539.6,514.2 546.1,508.6 547.6,507.8 C549.1,507.0 555.2,505.5 556.6,505.6 C558.0,505.7 563.1,508.6 564.2,509.3 C565.3,510.0 569.4,512.9 570.2,513.8 C571.0,514.7 573.6,518.6 574.0,519.9 C574.4,521.2 574.9,527.6 574.7,528.9 C574.5,530.1 572.7,534.2 571.7,534.9 C570.7,535.6 564.2,537.2 562.7,537.2 C561.2,537.2 555.1,535.3 553.6,534.9 C552.1,534.5 546.0,532.5 544.6,531.9 C543.2,531.3 537.8,528.3 537.0,527.4 C536.2,526.5 535.4,522.4 535.5,521.4 C535.6,520.4 537.6,516.4 538.6,515.3Z" fill="url(#ltp)" fill-rule="evenodd"/>
</g>
<circle cx="570.8" cy="521.4" r="0.6" fill="#f09070"/><circle cx="574.0" cy="525.5" r="0.6" fill="#f09070"/><circle cx="540.5" cy="524.4" r="0.6" fill="#f4b0a0"/><circle cx="549.2" cy="515.9" r="0.6" fill="#f4b0a0"/><circle cx="569.5" cy="519.8" r="0.6" fill="#f09070"/><circle cx="542.1" cy="519.5" r="0.6" fill="#f09070"/><circle cx="558.2" cy="509.6" r="0.6" fill="#f09070"/><circle cx="560.7" cy="527.6" r="0.6" fill="#f4b0a0"/><circle cx="546.0" cy="529.4" r="0.6" fill="#f4b0a0"/><circle cx="563.9" cy="536.4" r="0.6" fill="#f09070"/><circle cx="559.1" cy="516.6" r="0.6" fill="#f4b0a0"/><circle cx="548.4" cy="511.6" r="0.6" fill="#f4b0a0"/><circle cx="542.0" cy="526.4" r="0.6" fill="#f4b0a0"/><circle cx="566.7" cy="528.8" r="0.6" fill="#f09070"/><circle cx="546.2" cy="509.1" r="0.6" fill="#f4b0a0"/><circle cx="569.0" cy="519.4" r="0.6" fill="#f4b0a0"/><circle cx="555.1" cy="525.6" r="0.6" fill="#f09070"/><circle cx="563.0" cy="524.2" r="0.6" fill="#f09070"/><circle cx="568.7" cy="526.7" r="0.6" fill="#f4b0a0"/><circle cx="562.1" cy="525.9" r="0.6" fill="#f09070"/><circle cx="552.5" cy="513.8" r="0.6" fill="#f4b0a0"/><circle cx="551.2" cy="528.1" r="0.6" fill="#f4b0a0"/><circle cx="545.3" cy="519.0" r="0.6" fill="#f09070"/><circle cx="555.8" cy="526.5" r="0.6" fill="#f4b0a0"/><circle cx="570.6" cy="516.0" r="0.6" fill="#f4b0a0"/><circle cx="550.7" cy="521.1" r="0.6" fill="#f4b0a0"/><circle cx="537.0" cy="522.8" r="0.6" fill="#f4b0a0"/><circle cx="563.6" cy="535.7" r="0.6" fill="#f4b0a0"/><circle cx="555.9" cy="508.8" r="0.6" fill="#f09070"/><circle cx="556.7" cy="528.3" r="0.6" fill="#f4b0a0"/>
<text x="627.8" y="438.2" font-size="9.5" fill="#111" stroke="#111" stroke-width="0.12" text-anchor="middle" font-weight="normal" font-style="normal" style="stroke-width:0.25px">SCA1</text>
<rect x="603.3" y="440.8" width="49.7" height="50.5" fill="#eef1f6"/>
<path d="M609.3,452.1 C609.6,451.0 612.3,448.4 613.1,448.3 C613.9,448.2 618.1,450.3 619.1,450.6 C620.1,450.9 624.2,452.2 625.1,452.1 C626.0,452.0 628.7,449.2 629.6,449.1 C630.5,449.0 634.7,450.0 635.7,450.6 C636.7,451.2 640.8,454.8 641.7,455.9 C642.6,457.0 646.8,463.0 647.0,464.1 C647.2,465.2 645.4,468.1 644.7,468.7 C644.0,469.3 639.7,470.4 638.7,470.9 C637.7,471.4 633.8,474.3 632.7,474.7 C631.6,475.1 626.2,476.4 625.1,476.2 C624.0,476.0 620.1,473.1 619.1,472.4 C618.1,471.7 613.9,468.8 613.1,467.9 C612.3,467.0 609.6,462.4 609.3,461.1 C609.0,459.8 609.0,453.2 609.3,452.1Z" fill="#4a48a2" fill-rule="evenodd"/>
<path d="M609.3,452.1 C609.6,451.0 612.3,448.4 613.1,448.3 C613.9,448.2 618.1,450.3 619.1,450.6 C620.1,450.9 624.2,452.2 625.1,452.1 C626.0,452.0 628.7,449.2 629.6,449.1 C630.5,449.0 634.7,450.0 635.7,450.6 C636.7,451.2 640.8,454.8 641.7,455.9 C642.6,457.0 646.8,463.0 647.0,464.1 C647.2,465.2 645.4,468.1 644.7,468.7 C644.0,469.3 639.7,470.4 638.7,470.9 C637.7,471.4 633.8,474.3 632.7,474.7 C631.6,475.1 626.2,476.4 625.1,476.2 C624.0,476.0 620.1,473.1 619.1,472.4 C618.1,471.7 613.9,468.8 613.1,467.9 C612.3,467.0 609.6,462.4 609.3,461.1 C609.0,459.8 609.0,453.2 609.3,452.1Z" fill="url(#hep)" fill-rule="evenodd"/>
<circle cx="633.4" cy="471.4" r="0.5" fill="#b0b0e6"/><circle cx="624.8" cy="474.7" r="0.5" fill="#9a9ad8"/><circle cx="628.7" cy="474.3" r="0.5" fill="#b0b0e6"/><circle cx="633.3" cy="455.3" r="0.5" fill="#b0b0e6"/><circle cx="625.1" cy="460.0" r="0.5" fill="#b0b0e6"/><circle cx="631.2" cy="451.3" r="0.5" fill="#b0b0e6"/><circle cx="629.2" cy="454.4" r="0.5" fill="#b0b0e6"/><circle cx="626.7" cy="452.9" r="0.5" fill="#9a9ad8"/><circle cx="639.8" cy="466.0" r="0.5" fill="#b0b0e6"/>
<line x1="644.7" y1="489" x2="652.2" y2="489" stroke="#444" stroke-width="1"/>
<clipPath id="cl_SCA1"><path d="M607.0,504.8 C607.5,504.1 612.1,501.8 613.1,501.8 C614.1,501.8 618.1,504.5 619.1,504.8 C620.1,505.1 624.1,505.8 625.1,505.6 C626.1,505.4 630.1,502.6 631.1,502.5 C632.1,502.4 636.2,503.4 637.2,504.0 C638.2,504.6 642.3,508.4 643.2,509.3 C644.1,510.2 648.2,513.7 648.5,514.6 C648.8,515.5 646.9,519.2 646.2,519.9 C645.5,520.6 641.2,522.3 640.2,522.9 C639.2,523.5 635.2,527.0 634.2,527.4 C633.2,527.8 629.2,528.2 628.1,528.2 C627.0,528.2 621.7,528.0 620.6,527.4 C619.5,526.8 615.5,522.4 614.6,521.4 C613.7,520.4 610.7,516.2 610.1,515.3 C609.5,514.4 607.3,511.0 607.0,510.1 C606.7,509.2 606.5,505.5 607.0,504.8Z"/></clipPath>
<path d="M607.0,504.8 C607.5,504.1 612.1,501.8 613.1,501.8 C614.1,501.8 618.1,504.5 619.1,504.8 C620.1,505.1 624.1,505.8 625.1,505.6 C626.1,505.4 630.1,502.6 631.1,502.5 C632.1,502.4 636.2,503.4 637.2,504.0 C638.2,504.6 642.3,508.4 643.2,509.3 C644.1,510.2 648.2,513.7 648.5,514.6 C648.8,515.5 646.9,519.2 646.2,519.9 C645.5,520.6 641.2,522.3 640.2,522.9 C639.2,523.5 635.2,527.0 634.2,527.4 C633.2,527.8 629.2,528.2 628.1,528.2 C627.0,528.2 621.7,528.0 620.6,527.4 C619.5,526.8 615.5,522.4 614.6,521.4 C613.7,520.4 610.7,516.2 610.1,515.3 C609.5,514.4 607.3,511.0 607.0,510.1 C606.7,509.2 606.5,505.5 607.0,504.8Z" fill="#ebcd1f" fill-rule="evenodd"/>
<g clip-path="url(#cl_SCA1)">
<path d="M607.0,504.8 C607.5,504.1 612.1,501.8 613.1,501.8 C614.1,501.8 618.1,504.5 619.1,504.8 C620.1,505.1 624.1,505.8 625.1,505.6 C626.1,505.4 630.1,502.6 631.1,502.5 C632.1,502.4 636.2,503.4 637.2,504.0 C638.2,504.6 642.3,508.4 643.2,509.3 C644.1,510.2 648.2,513.7 648.5,514.6 C648.8,515.5 646.9,519.2 646.2,519.9 C645.5,520.6 641.2,522.3 640.2,522.9 C639.2,523.5 635.2,527.0 634.2,527.4 C633.2,527.8 629.2,528.2 628.1,528.2 C627.0,528.2 621.7,528.0 620.6,527.4 C619.5,526.8 615.5,522.4 614.6,521.4 C613.7,520.4 610.7,516.2 610.1,515.3 C609.5,514.4 607.3,511.0 607.0,510.1 C606.7,509.2 606.5,505.5 607.0,504.8Z" fill="url(#dks)" fill-rule="evenodd"/>
</g>
<circle cx="633.7" cy="520.8" r="0.6" fill="#2c2a6e"/><circle cx="621.7" cy="518.7" r="0.6" fill="#8a2a9a"/><circle cx="626.4" cy="509.6" r="0.6" fill="#2c2a6e"/><circle cx="639.4" cy="514.2" r="0.6" fill="#2c2a6e"/><circle cx="618.1" cy="511.7" r="0.6" fill="#8a2a9a"/><circle cx="627.0" cy="523.1" r="0.6" fill="#8a2a9a"/><circle cx="621.9" cy="519.1" r="0.6" fill="#8a2a9a"/><circle cx="626.9" cy="513.1" r="0.6" fill="#2c2a6e"/><circle cx="634.4" cy="511.4" r="0.6" fill="#8a2a9a"/><circle cx="641.5" cy="518.5" r="0.6" fill="#2c2a6e"/><circle cx="634.3" cy="507.3" r="0.6" fill="#2c2a6e"/><circle cx="634.2" cy="508.4" r="0.6" fill="#2c2a6e"/><circle cx="631.0" cy="524.4" r="0.6" fill="#2c2a6e"/><circle cx="639.2" cy="510.9" r="0.6" fill="#2c2a6e"/><circle cx="615.7" cy="512.4" r="0.6" fill="#2c2a6e"/><circle cx="632.3" cy="520.0" r="0.6" fill="#2c2a6e"/><circle cx="634.7" cy="525.4" r="0.6" fill="#8a2a9a"/><circle cx="615.2" cy="520.1" r="0.6" fill="#2c2a6e"/><circle cx="637.8" cy="513.4" r="0.6" fill="#2c2a6e"/><circle cx="630.0" cy="508.8" r="0.6" fill="#2c2a6e"/>
<text x="131.3" y="568.4" font-size="9.5" fill="#111" stroke="#111" stroke-width="0.12" text-anchor="middle" font-weight="normal" font-style="normal" style="stroke-width:0.25px">PRL1</text>
<rect x="107.7" y="569.7" width="50.2" height="47.8" fill="#eef2f6"/>
<path d="M113.1,592.7 C113.5,591.6 116.5,586.3 117.5,585.4 C118.5,584.5 123.6,581.8 124.8,581.6 C126.0,581.4 131.3,582.0 132.1,582.5 C132.8,583.0 133.3,587.3 133.8,587.5 C134.3,587.7 137.2,585.0 137.9,584.8 C138.6,584.6 141.6,584.3 142.3,584.8 C143.0,585.3 145.7,589.8 146.1,591.2 C146.5,592.6 147.3,599.8 147.2,601.4 C147.1,603.0 145.8,609.2 145.2,610.2 C144.5,611.2 140.4,613.0 139.4,613.1 C138.4,613.2 134.2,612.1 133.5,611.6 C132.8,611.1 131.2,607.1 130.8,606.5 C130.4,605.9 128.9,604.5 128.5,604.5 C128.1,604.5 126.4,606.3 126.0,606.5 C125.6,606.7 124.1,607.5 123.3,607.3 C122.5,607.1 116.8,605.1 116.0,604.4 C115.2,603.7 113.3,599.5 113.1,598.5 C112.9,597.5 112.7,593.8 113.1,592.7Z" fill="#5249a2" fill-rule="evenodd"/>
<path d="M113.1,592.7 C113.5,591.6 116.5,586.3 117.5,585.4 C118.5,584.5 123.6,581.8 124.8,581.6 C126.0,581.4 131.3,582.0 132.1,582.5 C132.8,583.0 133.3,587.3 133.8,587.5 C134.3,587.7 137.2,585.0 137.9,584.8 C138.6,584.6 141.6,584.3 142.3,584.8 C143.0,585.3 145.7,589.8 146.1,591.2 C146.5,592.6 147.3,599.8 147.2,601.4 C147.1,603.0 145.8,609.2 145.2,610.2 C144.5,611.2 140.4,613.0 139.4,613.1 C138.4,613.2 134.2,612.1 133.5,611.6 C132.8,611.1 131.2,607.1 130.8,606.5 C130.4,605.9 128.9,604.5 128.5,604.5 C128.1,604.5 126.4,606.3 126.0,606.5 C125.6,606.7 124.1,607.5 123.3,607.3 C122.5,607.1 116.8,605.1 116.0,604.4 C115.2,603.7 113.3,599.5 113.1,598.5 C112.9,597.5 112.7,593.8 113.1,592.7Z" fill="url(#hep)" fill-rule="evenodd"/>
<circle cx="141.3" cy="596.5" r="0.5" fill="#9a9ad8"/><circle cx="137.0" cy="589.4" r="0.5" fill="#9a9ad8"/><circle cx="129.1" cy="599.3" r="0.5" fill="#b0b0e6"/><circle cx="141.8" cy="593.4" r="0.5" fill="#b0b0e6"/><circle cx="119.3" cy="593.0" r="0.5" fill="#9a9ad8"/><circle cx="129.6" cy="605.5" r="0.5" fill="#9a9ad8"/><circle cx="134.4" cy="592.3" r="0.5" fill="#b0b0e6"/><circle cx="124.7" cy="606.1" r="0.5" fill="#9a9ad8"/><circle cx="122.8" cy="592.4" r="0.5" fill="#b0b0e6"/><circle cx="132.0" cy="607.6" r="0.5" fill="#b0b0e6"/>
<line x1="147.8" y1="615.2" x2="156.3" y2="615.2" stroke="#444" stroke-width="1"/>
<clipPath id="cl_PRL1"><path d="M111.7,637.9 C112.2,636.6 116.3,634.0 117.5,633.5 C118.7,633.0 124.8,632.0 126.2,632.1 C127.6,632.2 133.6,634.3 134.4,635.0 C135.2,635.7 135.3,639.8 135.6,640.0 C135.9,640.2 136.9,637.7 137.5,637.3 C138.1,636.9 141.4,635.0 142.3,635.0 C143.2,635.0 147.2,636.9 148.1,637.9 C148.9,638.9 152.0,644.9 152.5,646.6 C153.0,648.3 154.0,656.7 153.9,658.3 C153.8,659.9 151.8,664.8 151.0,665.6 C150.2,666.5 145.0,668.3 143.7,668.5 C142.4,668.7 136.1,668.9 135.0,668.5 C133.9,668.1 131.1,664.8 130.6,664.1 C130.1,663.4 129.4,660.1 129.0,660.0 C128.6,659.9 126.7,662.3 126.0,662.5 C125.3,662.7 121.5,663.1 120.4,662.7 C119.3,662.4 113.8,659.4 113.1,658.3 C112.4,657.2 111.8,651.2 111.7,649.5 C111.6,647.8 111.2,639.2 111.7,637.9Z"/></clipPath>
<path d="M111.7,637.9 C112.2,636.6 116.3,634.0 117.5,633.5 C118.7,633.0 124.8,632.0 126.2,632.1 C127.6,632.2 133.6,634.3 134.4,635.0 C135.2,635.7 135.3,639.8 135.6,640.0 C135.9,640.2 136.9,637.7 137.5,637.3 C138.1,636.9 141.4,635.0 142.3,635.0 C143.2,635.0 147.2,636.9 148.1,637.9 C148.9,638.9 152.0,644.9 152.5,646.6 C153.0,648.3 154.0,656.7 153.9,658.3 C153.8,659.9 151.8,664.8 151.0,665.6 C150.2,666.5 145.0,668.3 143.7,668.5 C142.4,668.7 136.1,668.9 135.0,668.5 C133.9,668.1 131.1,664.8 130.6,664.1 C130.1,663.4 129.4,660.1 129.0,660.0 C128.6,659.9 126.7,662.3 126.0,662.5 C125.3,662.7 121.5,663.1 120.4,662.7 C119.3,662.4 113.8,659.4 113.1,658.3 C112.4,657.2 111.8,651.2 111.7,649.5 C111.6,647.8 111.2,639.2 111.7,637.9Z" fill="#2e2a70" fill-rule="evenodd"/>
<g clip-path="url(#cl_PRL1)">
<path d="M111.7,637.9 C112.2,636.6 116.3,634.0 117.5,633.5 C118.7,633.0 124.8,632.0 126.2,632.1 C127.6,632.2 133.6,634.3 134.4,635.0 C135.2,635.7 135.3,639.8 135.6,640.0 C135.9,640.2 136.9,637.7 137.5,637.3 C138.1,636.9 141.4,635.0 142.3,635.0 C143.2,635.0 147.2,636.9 148.1,637.9 C148.9,638.9 152.0,644.9 152.5,646.6 C153.0,648.3 154.0,656.7 153.9,658.3 C153.8,659.9 151.8,664.8 151.0,665.6 C150.2,666.5 145.0,668.3 143.7,668.5 C142.4,668.7 136.1,668.9 135.0,668.5 C133.9,668.1 131.1,664.8 130.6,664.1 C130.1,663.4 129.4,660.1 129.0,660.0 C128.6,659.9 126.7,662.3 126.0,662.5 C125.3,662.7 121.5,663.1 120.4,662.7 C119.3,662.4 113.8,659.4 113.1,658.3 C112.4,657.2 111.8,651.2 111.7,649.5 C111.6,647.8 111.2,639.2 111.7,637.9Z" fill="url(#wtp)" fill-rule="evenodd"/>
</g>
<circle cx="126.7" cy="650.1" r="0.6" fill="#ffffff"/><circle cx="133.0" cy="642.0" r="0.6" fill="#ffffff"/><circle cx="152.8" cy="655.9" r="0.6" fill="#ffffff"/><circle cx="125.7" cy="643.6" r="0.6" fill="#ffffff"/><circle cx="128.5" cy="652.3" r="0.6" fill="#ffffff"/><circle cx="137.4" cy="656.1" r="0.6" fill="#ffffff"/><circle cx="137.7" cy="654.9" r="0.6" fill="#ffffff"/>
<text x="202.4" y="568.1" font-size="9.5" fill="#111" stroke="#111" stroke-width="0.12" text-anchor="middle" font-weight="normal" font-style="normal" style="stroke-width:0.25px">PRL2</text>
<rect x="179" y="569.7" width="50.0" height="49.3" fill="#fafbfd"/>
<path d="M188.5,571.2 C189.7,570.2 198.7,570.4 200.9,570.4 C203.1,570.4 213.0,570.7 214.8,571.2 C216.6,571.7 221.5,575.6 222.5,576.6 C223.5,577.6 225.9,582.3 226.3,583.5 C226.7,584.7 227.5,589.7 227.1,590.5 C226.7,591.3 221.5,592.0 220.9,592.8 C220.3,593.6 219.8,598.6 219.4,599.8 C219.0,601.0 217.2,606.4 216.3,607.5 C215.4,608.6 209.9,612.8 208.6,613.6 C207.3,614.4 202.3,616.3 200.9,616.7 C199.5,617.1 192.8,618.4 191.6,618.3 C190.4,618.2 186.8,616.2 186.2,615.2 C185.6,614.2 184.7,607.6 184.7,605.9 C184.7,604.2 186.0,597.0 186.2,595.1 C186.4,593.2 186.8,584.8 187.0,582.8 C187.2,580.8 187.3,572.2 188.5,571.2Z" fill="#8a82c2" fill-rule="evenodd"/>
<path d="M188.5,571.2 C189.7,570.2 198.7,570.4 200.9,570.4 C203.1,570.4 213.0,570.7 214.8,571.2 C216.6,571.7 221.5,575.6 222.5,576.6 C223.5,577.6 225.9,582.3 226.3,583.5 C226.7,584.7 227.5,589.7 227.1,590.5 C226.7,591.3 221.5,592.0 220.9,592.8 C220.3,593.6 219.8,598.6 219.4,599.8 C219.0,601.0 217.2,606.4 216.3,607.5 C215.4,608.6 209.9,612.8 208.6,613.6 C207.3,614.4 202.3,616.3 200.9,616.7 C199.5,617.1 192.8,618.4 191.6,618.3 C190.4,618.2 186.8,616.2 186.2,615.2 C185.6,614.2 184.7,607.6 184.7,605.9 C184.7,604.2 186.0,597.0 186.2,595.1 C186.4,593.2 186.8,584.8 187.0,582.8 C187.2,580.8 187.3,572.2 188.5,571.2Z" fill="url(#hep)" fill-rule="evenodd"/>
<circle cx="193.7" cy="602.3" r="0.5" fill="#d0c8f0"/><circle cx="211.2" cy="578.7" r="0.5" fill="#b8b0e0"/><circle cx="221.6" cy="590.6" r="0.5" fill="#b8b0e0"/><circle cx="200.3" cy="609.8" r="0.5" fill="#d0c8f0"/><circle cx="208.5" cy="582.8" r="0.5" fill="#d0c8f0"/><circle cx="192.5" cy="572.0" r="0.5" fill="#b8b0e0"/><circle cx="203.0" cy="601.1" r="0.5" fill="#b8b0e0"/><circle cx="205.8" cy="595.4" r="0.5" fill="#b8b0e0"/><circle cx="217.5" cy="590.6" r="0.5" fill="#d0c8f0"/>
<line x1="213.2" y1="615.6" x2="220.2" y2="615.6" stroke="#444" stroke-width="1"/>
<clipPath id="cl_PRL2"><path d="M183.1,628.3 C184.0,627.7 191.0,627.6 193.1,627.5 C195.2,627.4 206.7,627.4 208.6,627.5 C210.5,627.6 215.2,628.6 216.3,629.1 C217.4,629.6 221.0,632.7 221.7,633.7 C222.4,634.7 224.6,640.4 224.8,641.4 C225.0,642.4 224.4,645.5 224.0,646.0 C223.6,646.5 220.0,647.0 219.4,647.6 C218.8,648.2 216.7,652.6 216.3,653.8 C215.9,655.0 215.4,660.3 214.8,661.5 C214.2,662.7 209.8,666.9 208.6,667.7 C207.4,668.5 202.3,670.4 200.9,670.7 C199.5,671.0 193.0,671.6 191.6,671.5 C190.2,671.4 184.8,670.2 183.9,669.2 C183.0,668.2 181.0,661.8 180.8,660.0 C180.6,658.2 181.5,649.7 181.6,647.6 C181.7,645.5 182.2,636.8 182.3,635.2 C182.4,633.6 182.2,628.9 183.1,628.3Z"/></clipPath>
<path d="M183.1,628.3 C184.0,627.7 191.0,627.6 193.1,627.5 C195.2,627.4 206.7,627.4 208.6,627.5 C210.5,627.6 215.2,628.6 216.3,629.1 C217.4,629.6 221.0,632.7 221.7,633.7 C222.4,634.7 224.6,640.4 224.8,641.4 C225.0,642.4 224.4,645.5 224.0,646.0 C223.6,646.5 220.0,647.0 219.4,647.6 C218.8,648.2 216.7,652.6 216.3,653.8 C215.9,655.0 215.4,660.3 214.8,661.5 C214.2,662.7 209.8,666.9 208.6,667.7 C207.4,668.5 202.3,670.4 200.9,670.7 C199.5,671.0 193.0,671.6 191.6,671.5 C190.2,671.4 184.8,670.2 183.9,669.2 C183.0,668.2 181.0,661.8 180.8,660.0 C180.6,658.2 181.5,649.7 181.6,647.6 C181.7,645.5 182.2,636.8 182.3,635.2 C182.4,633.6 182.2,628.9 183.1,628.3Z" fill="#2d2b6c" fill-rule="evenodd"/>
<g clip-path="url(#cl_PRL2)">
<path d="M183.1,628.3 C184.0,627.7 191.0,627.6 193.1,627.5 C195.2,627.4 206.7,627.4 208.6,627.5 C210.5,627.6 215.2,628.6 216.3,629.1 C217.4,629.6 221.0,632.7 221.7,633.7 C222.4,634.7 224.6,640.4 224.8,641.4 C225.0,642.4 224.4,645.5 224.0,646.0 C223.6,646.5 220.0,647.0 219.4,647.6 C218.8,648.2 216.7,652.6 216.3,653.8 C215.9,655.0 215.4,660.3 214.8,661.5 C214.2,662.7 209.8,666.9 208.6,667.7 C207.4,668.5 202.3,670.4 200.9,670.7 C199.5,671.0 193.0,671.6 191.6,671.5 C190.2,671.4 184.8,670.2 183.9,669.2 C183.0,668.2 181.0,661.8 180.8,660.0 C180.6,658.2 181.5,649.7 181.6,647.6 C181.7,645.5 182.2,636.8 182.3,635.2 C182.4,633.6 182.2,628.9 183.1,628.3Z" fill="url(#wtp)" fill-rule="evenodd"/>
</g>
<circle cx="200.4" cy="628.1" r="0.6" fill="#c0c0e0"/><circle cx="209.8" cy="634.3" r="0.6" fill="#c0c0e0"/><circle cx="204.9" cy="631.1" r="0.6" fill="#c0c0e0"/><circle cx="190.1" cy="634.2" r="0.6" fill="#ffffff"/><circle cx="199.6" cy="627.9" r="0.6" fill="#ffffff"/><circle cx="190.4" cy="632.8" r="0.6" fill="#c0c0e0"/><circle cx="181.6" cy="659.2" r="0.6" fill="#ffffff"/><circle cx="200.6" cy="660.2" r="0.6" fill="#ffffff"/>
<text x="275.5" y="568.1" font-size="9.5" fill="#111" stroke="#111" stroke-width="0.12" text-anchor="middle" font-weight="normal" font-style="normal" style="stroke-width:0.25px">GH/PRL3</text>
<rect x="249" y="569.7" width="50.0" height="49.3" fill="#fafbfd"/>
<path d="M250.0,599.8 C250.1,599.3 251.5,596.4 252.3,595.9 C253.1,595.4 258.9,593.9 260.1,593.6 C261.3,593.3 265.4,592.5 266.2,592.0 C267.0,591.5 268.5,588.8 269.3,588.2 C270.1,587.6 274.3,585.4 275.5,585.1 C276.7,584.8 282.2,584.4 283.2,584.3 C284.2,584.2 287.3,583.2 287.8,583.5 C288.3,583.8 289.1,587.2 289.4,588.2 C289.7,589.2 291.0,594.3 290.9,595.1 C290.8,595.9 288.4,598.3 287.8,598.2 C287.2,598.1 283.8,593.7 283.2,593.6 C282.6,593.5 280.5,596.6 280.1,597.4 C279.7,598.2 279.0,602.0 278.6,602.8 C278.2,603.6 276.3,606.4 275.5,606.7 C274.7,607.0 270.3,606.2 269.3,605.9 C268.3,605.6 264.3,603.9 263.1,603.6 C261.9,603.3 256.4,602.2 255.4,602.1 C254.4,602.0 251.2,602.3 250.8,602.1 C250.4,601.9 249.9,600.3 250.0,599.8Z" fill="#6a68b2" fill-rule="evenodd"/>
<path d="M250.0,599.8 C250.1,599.3 251.5,596.4 252.3,595.9 C253.1,595.4 258.9,593.9 260.1,593.6 C261.3,593.3 265.4,592.5 266.2,592.0 C267.0,591.5 268.5,588.8 269.3,588.2 C270.1,587.6 274.3,585.4 275.5,585.1 C276.7,584.8 282.2,584.4 283.2,584.3 C284.2,584.2 287.3,583.2 287.8,583.5 C288.3,583.8 289.1,587.2 289.4,588.2 C289.7,589.2 291.0,594.3 290.9,595.1 C290.8,595.9 288.4,598.3 287.8,598.2 C287.2,598.1 283.8,593.7 283.2,593.6 C282.6,593.5 280.5,596.6 280.1,597.4 C279.7,598.2 279.0,602.0 278.6,602.8 C278.2,603.6 276.3,606.4 275.5,606.7 C274.7,607.0 270.3,606.2 269.3,605.9 C268.3,605.6 264.3,603.9 263.1,603.6 C261.9,603.3 256.4,602.2 255.4,602.1 C254.4,602.0 251.2,602.3 250.8,602.1 C250.4,601.9 249.9,600.3 250.0,599.8Z" fill="url(#hep)" fill-rule="evenodd"/>
<circle cx="265.0" cy="600.8" r="0.5" fill="#9a9ad8"/><circle cx="279.8" cy="585.5" r="0.5" fill="#b0b0e6"/><circle cx="268.8" cy="605.1" r="0.5" fill="#b0b0e6"/><circle cx="287.4" cy="584.7" r="0.5" fill="#9a9ad8"/><circle cx="276.6" cy="602.5" r="0.5" fill="#9a9ad8"/><circle cx="274.5" cy="605.7" r="0.5" fill="#b0b0e6"/><circle cx="274.9" cy="590.8" r="0.5" fill="#b0b0e6"/><circle cx="289.0" cy="587.3" r="0.5" fill="#b0b0e6"/><circle cx="269.5" cy="601.6" r="0.5" fill="#b0b0e6"/><circle cx="273.2" cy="590.3" r="0.5" fill="#9a9ad8"/><circle cx="275.4" cy="598.6" r="0.5" fill="#b0b0e6"/>
<line x1="288.6" y1="615.2" x2="295.6" y2="615.2" stroke="#444" stroke-width="1"/>
<clipPath id="cl_GH_PRL3"><path d="M251.6,653.8 C252.0,653.1 254.3,649.6 255.4,649.1 C256.5,648.6 263.4,647.9 264.7,647.6 C266.0,647.3 270.0,646.3 270.9,646.0 C271.8,645.7 275.2,644.3 276.0,644.2 C276.8,644.1 280.1,644.6 281.0,645.0 C281.9,645.4 286.2,647.7 286.3,648.6 C286.4,649.5 282.3,654.2 281.7,655.3 C281.1,656.4 279.2,660.7 278.6,661.5 C278.0,662.3 274.9,664.2 274.0,664.6 C273.1,665.0 269.0,666.2 267.8,666.1 C266.6,666.0 261.4,663.4 260.1,663.0 C258.8,662.6 253.1,662.0 252.3,661.5 C251.5,661.0 250.9,658.2 250.8,657.6 C250.7,657.0 251.2,654.5 251.6,653.8Z"/><path d="M272.5,641.5 C272.4,640.9 274.0,637.0 274.5,636.5 C275.0,636.0 278.1,635.2 278.5,635.5 C278.9,635.8 279.7,639.4 279.5,640.0 C279.3,640.6 276.6,643.1 276.0,643.2 C275.4,643.3 272.6,642.1 272.5,641.5Z"/><path d="M280.5,636.0 C280.8,635.3 284.3,634.8 284.8,635.2 C285.3,635.6 286.5,639.6 286.6,640.5 C286.7,641.4 285.9,646.2 285.5,646.5 C285.1,646.8 281.9,644.4 281.5,643.5 C281.1,642.6 280.2,636.7 280.5,636.0Z"/></clipPath>
<path d="M251.6,653.8 C252.0,653.1 254.3,649.6 255.4,649.1 C256.5,648.6 263.4,647.9 264.7,647.6 C266.0,647.3 270.0,646.3 270.9,646.0 C271.8,645.7 275.2,644.3 276.0,644.2 C276.8,644.1 280.1,644.6 281.0,645.0 C281.9,645.4 286.2,647.7 286.3,648.6 C286.4,649.5 282.3,654.2 281.7,655.3 C281.1,656.4 279.2,660.7 278.6,661.5 C278.0,662.3 274.9,664.2 274.0,664.6 C273.1,665.0 269.0,666.2 267.8,666.1 C266.6,666.0 261.4,663.4 260.1,663.0 C258.8,662.6 253.1,662.0 252.3,661.5 C251.5,661.0 250.9,658.2 250.8,657.6 C250.7,657.0 251.2,654.5 251.6,653.8Z" fill="#2c2a6e" fill-rule="evenodd"/>
<path d="M272.5,641.5 C272.4,640.9 274.0,637.0 274.5,636.5 C275.0,636.0 278.1,635.2 278.5,635.5 C278.9,635.8 279.7,639.4 279.5,640.0 C279.3,640.6 276.6,643.1 276.0,643.2 C275.4,643.3 272.6,642.1 272.5,641.5Z" fill="#2c2a6e" fill-rule="evenodd"/>
<path d="M280.5,636.0 C280.8,635.3 284.3,634.8 284.8,635.2 C285.3,635.6 286.5,639.6 286.6,640.5 C286.7,641.4 285.9,646.2 285.5,646.5 C285.1,646.8 281.9,644.4 281.5,643.5 C281.1,642.6 280.2,636.7 280.5,636.0Z" fill="#2c2a6e" fill-rule="evenodd"/>
<g clip-path="url(#cl_GH_PRL3)">
<path d="M252.5,652.0 C252.8,651.4 255.0,649.4 256.0,649.0 C257.0,648.6 263.5,647.8 264.7,647.6 C265.9,647.4 270.4,646.2 270.9,646.5 C271.4,646.8 271.5,650.3 271.0,651.0 C270.5,651.7 266.2,654.0 265.0,654.5 C263.8,655.0 257.1,656.9 256.0,657.0 C254.9,657.1 252.3,656.4 252.0,656.0 C251.7,655.6 252.2,652.6 252.5,652.0Z" fill="#2f8a3e" fill-rule="evenodd"/>
</g>
<g clip-path="url(#cl_GH_PRL3)">
<path d="M251.6,653.8 C252.0,653.1 254.3,649.6 255.4,649.1 C256.5,648.6 263.4,647.9 264.7,647.6 C266.0,647.3 270.0,646.3 270.9,646.0 C271.8,645.7 275.2,644.3 276.0,644.2 C276.8,644.1 280.1,644.6 281.0,645.0 C281.9,645.4 286.2,647.7 286.3,648.6 C286.4,649.5 282.3,654.2 281.7,655.3 C281.1,656.4 279.2,660.7 278.6,661.5 C278.0,662.3 274.9,664.2 274.0,664.6 C273.1,665.0 269.0,666.2 267.8,666.1 C266.6,666.0 261.4,663.4 260.1,663.0 C258.8,662.6 253.1,662.0 252.3,661.5 C251.5,661.0 250.9,658.2 250.8,657.6 C250.7,657.0 251.2,654.5 251.6,653.8Z" fill="url(#wtp)" fill-rule="evenodd"/>
<path d="M272.5,641.5 C272.4,640.9 274.0,637.0 274.5,636.5 C275.0,636.0 278.1,635.2 278.5,635.5 C278.9,635.8 279.7,639.4 279.5,640.0 C279.3,640.6 276.6,643.1 276.0,643.2 C275.4,643.3 272.6,642.1 272.5,641.5Z" fill="url(#wtp)" fill-rule="evenodd"/>
<path d="M280.5,636.0 C280.8,635.3 284.3,634.8 284.8,635.2 C285.3,635.6 286.5,639.6 286.6,640.5 C286.7,641.4 285.9,646.2 285.5,646.5 C285.1,646.8 281.9,644.4 281.5,643.5 C281.1,642.6 280.2,636.7 280.5,636.0Z" fill="url(#wtp)" fill-rule="evenodd"/>
</g>
<circle cx="280.4" cy="657.0" r="0.6" fill="#ffffff"/><circle cx="264.2" cy="659.2" r="0.6" fill="#ffffff"/><circle cx="279.5" cy="650.4" r="0.6" fill="#ffffff"/><circle cx="262.2" cy="650.1" r="0.6" fill="#ffffff"/>
<circle cx="276.6" cy="641.8" r="0.6" fill="#ffffff"/><circle cx="274.5" cy="636.6" r="0.6" fill="#ffffff"/>
<circle cx="285.4" cy="642.9" r="0.6" fill="#ffffff"/><circle cx="282.6" cy="636.2" r="0.6" fill="#ffffff"/>
<text x="342.5" y="568.1" font-size="9.5" fill="#111" stroke="#111" stroke-width="0.12" text-anchor="middle" font-weight="normal" font-style="normal" style="stroke-width:0.25px">GH7</text>
<rect x="318" y="569.7" width="50.0" height="49.3" fill="#fafbfd"/>
<path d="M320.8,589.7 C321.1,588.9 324.4,585.6 325.4,585.1 C326.4,584.6 331.8,583.6 333.1,583.5 C334.4,583.4 339.6,584.1 340.9,584.3 C342.2,584.5 347.3,585.4 348.6,585.9 C349.9,586.4 355.1,589.7 356.3,590.5 C357.5,591.3 361.8,594.9 362.5,595.9 C363.2,596.9 364.9,601.7 364.8,602.8 C364.7,603.9 361.7,608.3 360.9,609.0 C360.1,609.7 355.8,611.2 354.8,611.3 C353.8,611.4 349.6,610.2 348.6,609.8 C347.6,609.3 343.4,606.6 342.4,605.9 C341.4,605.2 337.4,602.0 336.2,601.3 C335.0,600.6 329.7,597.9 328.5,597.4 C327.3,596.9 322.9,595.7 322.3,595.1 C321.7,594.5 320.5,590.5 320.8,589.7Z" fill="#6159b2" fill-rule="evenodd"/>
<path d="M320.8,589.7 C321.1,588.9 324.4,585.6 325.4,585.1 C326.4,584.6 331.8,583.6 333.1,583.5 C334.4,583.4 339.6,584.1 340.9,584.3 C342.2,584.5 347.3,585.4 348.6,585.9 C349.9,586.4 355.1,589.7 356.3,590.5 C357.5,591.3 361.8,594.9 362.5,595.9 C363.2,596.9 364.9,601.7 364.8,602.8 C364.7,603.9 361.7,608.3 360.9,609.0 C360.1,609.7 355.8,611.2 354.8,611.3 C353.8,611.4 349.6,610.2 348.6,609.8 C347.6,609.3 343.4,606.6 342.4,605.9 C341.4,605.2 337.4,602.0 336.2,601.3 C335.0,600.6 329.7,597.9 328.5,597.4 C327.3,596.9 322.9,595.7 322.3,595.1 C321.7,594.5 320.5,590.5 320.8,589.7Z" fill="url(#hep)" fill-rule="evenodd"/>
<path d="M330.5,602.5 C330.7,602.2 332.8,601.8 333.0,602.0 C333.2,602.2 333.7,604.7 333.5,605.0 C333.3,605.3 331.2,605.7 331.0,605.5 C330.8,605.3 330.3,602.8 330.5,602.5Z" fill="#6159b2" fill-rule="evenodd"/>
<path d="M330.5,602.5 C330.7,602.2 332.8,601.8 333.0,602.0 C333.2,602.2 333.7,604.7 333.5,605.0 C333.3,605.3 331.2,605.7 331.0,605.5 C330.8,605.3 330.3,602.8 330.5,602.5Z" fill="url(#hep)" fill-rule="evenodd"/>
<circle cx="353.8" cy="609.4" r="0.5" fill="#9a9ad8"/><circle cx="334.4" cy="585.1" r="0.5" fill="#b0b0e6"/><circle cx="341.3" cy="589.2" r="0.5" fill="#b0b0e6"/><circle cx="337.7" cy="598.5" r="0.5" fill="#b0b0e6"/><circle cx="354.8" cy="590.0" r="0.5" fill="#b0b0e6"/><circle cx="359.7" cy="598.0" r="0.5" fill="#b0b0e6"/><circle cx="343.1" cy="589.1" r="0.5" fill="#9a9ad8"/><circle cx="329.3" cy="588.5" r="0.5" fill="#b0b0e6"/><circle cx="336.8" cy="599.2" r="0.5" fill="#b0b0e6"/>
<circle cx="332.8" cy="605.0" r="0.5" fill="#9a9ad8"/><circle cx="331.6" cy="602.4" r="0.5" fill="#b0b0e6"/><circle cx="332.9" cy="602.5" r="0.5" fill="#9a9ad8"/>
<line x1="360.9" y1="615.2" x2="368.3" y2="615.2" stroke="#444" stroke-width="1"/>
<clipPath id="cl_GH7"><path d="M323.1,638.8 C323.4,637.8 326.3,634.3 327.4,633.8 C328.5,633.3 335.1,633.0 336.0,633.1 C336.9,633.2 337.4,634.4 338.2,634.5 C339.0,634.6 344.2,634.1 345.4,634.5 C346.6,634.9 351.6,638.0 352.7,638.8 C353.8,639.6 357.6,643.1 358.4,643.9 C359.2,644.7 361.4,647.8 362.0,648.9 C362.6,650.0 365.1,655.8 365.3,656.9 C365.5,658.0 364.6,661.9 364.2,662.7 C363.8,663.5 360.8,666.4 359.9,667.0 C359.0,667.6 354.4,669.5 353.4,669.5 C352.4,669.5 349.1,667.6 348.3,667.0 C347.5,666.4 344.2,663.5 343.3,662.7 C342.4,661.9 338.4,658.0 337.5,657.5 C336.6,657.0 333.3,657.4 332.4,656.9 C331.5,656.4 327.4,652.7 326.7,651.8 C325.9,650.9 323.7,647.2 323.4,646.1 C323.1,645.0 322.8,639.8 323.1,638.8Z"/><path d="M331.5,660.0 C331.7,659.6 333.6,658.8 334.0,659.0 C334.4,659.2 335.9,661.5 336.0,662.0 C336.1,662.5 335.3,664.4 335.0,664.5 C334.7,664.6 332.3,663.9 332.0,663.5 C331.7,663.1 331.3,660.4 331.5,660.0Z"/></clipPath>
<path d="M323.1,638.8 C323.4,637.8 326.3,634.3 327.4,633.8 C328.5,633.3 335.1,633.0 336.0,633.1 C336.9,633.2 337.4,634.4 338.2,634.5 C339.0,634.6 344.2,634.1 345.4,634.5 C346.6,634.9 351.6,638.0 352.7,638.8 C353.8,639.6 357.6,643.1 358.4,643.9 C359.2,644.7 361.4,647.8 362.0,648.9 C362.6,650.0 365.1,655.8 365.3,656.9 C365.5,658.0 364.6,661.9 364.2,662.7 C363.8,663.5 360.8,666.4 359.9,667.0 C359.0,667.6 354.4,669.5 353.4,669.5 C352.4,669.5 349.1,667.6 348.3,667.0 C347.5,666.4 344.2,663.5 343.3,662.7 C342.4,661.9 338.4,658.0 337.5,657.5 C336.6,657.0 333.3,657.4 332.4,656.9 C331.5,656.4 327.4,652.7 326.7,651.8 C325.9,650.9 323.7,647.2 323.4,646.1 C323.1,645.0 322.8,639.8 323.1,638.8Z" fill="#e48a3c" fill-rule="evenodd"/>
<path d="M331.5,660.0 C331.7,659.6 333.6,658.8 334.0,659.0 C334.4,659.2 335.9,661.5 336.0,662.0 C336.1,662.5 335.3,664.4 335.0,664.5 C334.7,664.6 332.3,663.9 332.0,663.5 C331.7,663.1 331.3,660.4 331.5,660.0Z" fill="#c07080" fill-rule="evenodd"/>
<g clip-path="url(#cl_GH7)">
<path d="M338.0,633.0 C338.5,632.8 344.2,634.0 345.4,634.5 C346.6,635.0 351.8,638.2 352.7,638.8 C353.6,639.4 356.1,641.3 356.0,641.5 C355.9,641.7 351.9,641.2 351.0,641.0 C350.1,640.8 346.0,639.3 345.0,639.0 C344.0,638.7 339.6,638.0 339.0,637.5 C338.4,637.0 337.5,633.2 338.0,633.0Z" fill="#c8485e" fill-rule="evenodd"/>
<path d="M356.0,641.5 C356.0,641.2 357.9,643.3 358.4,643.9 C358.9,644.5 361.4,647.8 362.0,648.9 C362.6,650.0 365.1,655.8 365.3,656.9 C365.5,658.0 364.9,661.7 364.5,662.0 C364.1,662.3 361.4,660.8 361.0,660.0 C360.6,659.2 360.2,654.1 360.0,653.0 C359.8,651.9 358.3,648.0 358.0,647.0 C357.7,646.0 356.0,641.8 356.0,641.5Z" fill="#a43a9c" fill-rule="evenodd"/>
<path d="M323.1,638.8 C323.4,637.8 326.3,634.3 327.4,633.8 C328.5,633.3 335.1,633.0 336.0,633.1 C336.9,633.2 337.9,634.6 338.2,635.2 C338.5,635.8 339.1,639.7 339.7,640.3 C340.3,640.9 344.5,642.0 345.4,642.4 C346.3,642.8 349.9,644.1 350.5,644.6 C351.1,645.1 352.5,647.6 352.7,648.2 C352.9,648.8 353.5,651.2 353.4,651.8 C353.3,652.4 351.6,655.2 351.2,655.4 C350.8,655.6 348.7,654.5 348.3,654.0 C347.9,653.5 347.4,650.2 346.9,649.7 C346.4,649.2 343.1,648.2 342.5,648.2 C341.9,648.2 340.1,649.1 339.7,649.7 C339.3,650.3 338.1,654.8 337.5,655.4 C336.9,656.0 333.3,657.2 332.4,656.9 C331.5,656.6 327.4,652.7 326.7,651.8 C325.9,650.9 323.7,647.2 323.4,646.1 C323.1,645.0 322.8,639.8 323.1,638.8Z" fill="#2f8a40" fill-rule="evenodd"/>
<path d="M339.7,649.7 C340.3,649.2 345.2,649.1 346.0,649.2 C346.8,649.3 349.4,649.7 349.8,650.5 C350.2,651.3 350.9,657.3 350.5,658.3 C350.1,659.2 346.2,661.8 345.4,661.9 C344.6,662.0 341.6,660.3 341.1,659.8 C340.6,659.3 339.0,656.2 338.9,655.4 C338.8,654.6 339.1,650.2 339.7,649.7Z" fill="#3a2c82" fill-rule="evenodd"/>
<path d="M350.0,660.0 C350.7,659.9 354.3,661.4 355.0,662.0 C355.7,662.6 358.1,666.4 358.0,667.0 C357.9,667.6 354.2,669.5 353.4,669.5 C352.6,669.5 348.8,667.5 348.3,667.0 C347.8,666.5 346.9,663.6 347.0,663.0 C347.1,662.4 349.3,660.1 350.0,660.0Z" fill="#d8a430" fill-rule="evenodd"/>
</g>
<g clip-path="url(#cl_GH7)">
<path d="M323.1,638.8 C323.4,637.8 326.3,634.3 327.4,633.8 C328.5,633.3 335.1,633.0 336.0,633.1 C336.9,633.2 337.4,634.4 338.2,634.5 C339.0,634.6 344.2,634.1 345.4,634.5 C346.6,634.9 351.6,638.0 352.7,638.8 C353.8,639.6 357.6,643.1 358.4,643.9 C359.2,644.7 361.4,647.8 362.0,648.9 C362.6,650.0 365.1,655.8 365.3,656.9 C365.5,658.0 364.6,661.9 364.2,662.7 C363.8,663.5 360.8,666.4 359.9,667.0 C359.0,667.6 354.4,669.5 353.4,669.5 C352.4,669.5 349.1,667.6 348.3,667.0 C347.5,666.4 344.2,663.5 343.3,662.7 C342.4,661.9 338.4,658.0 337.5,657.5 C336.6,657.0 333.3,657.4 332.4,656.9 C331.5,656.4 327.4,652.7 326.7,651.8 C325.9,650.9 323.7,647.2 323.4,646.1 C323.1,645.0 322.8,639.8 323.1,638.8Z" fill="url(#mxp)" fill-rule="evenodd"/>
<path d="M331.5,660.0 C331.7,659.6 333.6,658.8 334.0,659.0 C334.4,659.2 335.9,661.5 336.0,662.0 C336.1,662.5 335.3,664.4 335.0,664.5 C334.7,664.6 332.3,663.9 332.0,663.5 C331.7,663.1 331.3,660.4 331.5,660.0Z" fill="url(#mxp)" fill-rule="evenodd"/>
</g>
<circle cx="337.7" cy="652.0" r="0.6" fill="#8a2a9a"/><circle cx="327.1" cy="640.5" r="0.6" fill="#ebcd1f"/><circle cx="343.6" cy="653.7" r="0.6" fill="#d0232a"/><circle cx="327.2" cy="649.4" r="0.6" fill="#ebcd1f"/><circle cx="333.8" cy="634.5" r="0.6" fill="#8a2a9a"/><circle cx="360.9" cy="664.5" r="0.6" fill="#ebcd1f"/><circle cx="339.9" cy="637.5" r="0.6" fill="#8a2a9a"/><circle cx="334.0" cy="653.6" r="0.6" fill="#ebcd1f"/><circle cx="344.5" cy="639.7" r="0.6" fill="#8a2a9a"/><circle cx="338.8" cy="641.7" r="0.6" fill="#ebcd1f"/><circle cx="332.5" cy="634.5" r="0.6" fill="#d0232a"/><circle cx="344.8" cy="660.0" r="0.6" fill="#d0232a"/><circle cx="325.5" cy="638.4" r="0.6" fill="#8a2a9a"/><circle cx="362.7" cy="657.7" r="0.6" fill="#d0232a"/><circle cx="348.0" cy="649.2" r="0.6" fill="#ebcd1f"/>
<circle cx="332.0" cy="660.8" r="0.6" fill="#d0232a"/><circle cx="333.3" cy="661.1" r="0.6" fill="#d0232a"/><circle cx="332.3" cy="660.3" r="0.6" fill="#8a2a9a"/><circle cx="333.6" cy="664.0" r="0.6" fill="#8a2a9a"/><circle cx="331.9" cy="662.4" r="0.6" fill="#d0232a"/><circle cx="333.5" cy="659.5" r="0.6" fill="#d0232a"/><circle cx="335.3" cy="662.5" r="0.6" fill="#d0232a"/>
<text x="416.6" y="568.1" font-size="9.5" fill="#111" stroke="#111" stroke-width="0.12" text-anchor="middle" font-weight="normal" font-style="normal" style="stroke-width:0.25px">TSH4</text>
<rect x="390" y="569.7" width="50.0" height="49.3" fill="#fafbfd"/>
<path d="M402.7,582.0 C403.3,581.3 408.3,579.4 409.7,578.9 C411.1,578.4 417.7,576.9 419.0,576.6 C420.3,576.3 424.2,575.4 425.1,575.8 C426.0,576.2 429.4,580.1 429.8,581.2 C430.2,582.3 430.7,587.9 430.5,589.0 C430.3,590.1 428.0,593.7 427.4,594.4 C426.8,595.1 423.4,597.3 422.8,597.4 C422.2,597.5 420.3,595.8 419.7,595.1 C419.1,594.4 416.7,589.2 415.9,589.0 C415.1,588.8 410.7,592.4 409.7,592.8 C408.7,593.2 404.3,593.7 403.5,593.6 C402.7,593.5 399.8,592.5 399.7,592.0 C399.6,591.5 401.8,588.2 402.0,587.4 C402.2,586.6 402.1,582.7 402.7,582.0Z" fill="#6a68b6" fill-rule="evenodd"/>
<path d="M402.7,582.0 C403.3,581.3 408.3,579.4 409.7,578.9 C411.1,578.4 417.7,576.9 419.0,576.6 C420.3,576.3 424.2,575.4 425.1,575.8 C426.0,576.2 429.4,580.1 429.8,581.2 C430.2,582.3 430.7,587.9 430.5,589.0 C430.3,590.1 428.0,593.7 427.4,594.4 C426.8,595.1 423.4,597.3 422.8,597.4 C422.2,597.5 420.3,595.8 419.7,595.1 C419.1,594.4 416.7,589.2 415.9,589.0 C415.1,588.8 410.7,592.4 409.7,592.8 C408.7,593.2 404.3,593.7 403.5,593.6 C402.7,593.5 399.8,592.5 399.7,592.0 C399.6,591.5 401.8,588.2 402.0,587.4 C402.2,586.6 402.1,582.7 402.7,582.0Z" fill="url(#hep)" fill-rule="evenodd"/>
<path d="M391.9,607.5 C392.2,606.6 394.8,602.1 395.8,601.3 C396.8,600.5 402.1,597.9 403.5,597.4 C404.9,596.9 411.6,595.2 412.8,595.1 C414.0,595.0 417.7,596.1 418.2,596.7 C418.7,597.3 419.4,601.8 419.0,602.8 C418.6,603.8 414.5,607.4 413.5,608.2 C412.5,609.0 407.8,611.6 406.6,612.1 C405.4,612.6 400.1,613.6 398.9,613.6 C397.7,613.6 393.3,612.6 392.7,612.1 C392.1,611.6 391.6,608.4 391.9,607.5Z" fill="#6a68b6" fill-rule="evenodd"/>
<path d="M391.9,607.5 C392.2,606.6 394.8,602.1 395.8,601.3 C396.8,600.5 402.1,597.9 403.5,597.4 C404.9,596.9 411.6,595.2 412.8,595.1 C414.0,595.0 417.7,596.1 418.2,596.7 C418.7,597.3 419.4,601.8 419.0,602.8 C418.6,603.8 414.5,607.4 413.5,608.2 C412.5,609.0 407.8,611.6 406.6,612.1 C405.4,612.6 400.1,613.6 398.9,613.6 C397.7,613.6 393.3,612.6 392.7,612.1 C392.1,611.6 391.6,608.4 391.9,607.5Z" fill="url(#hep)" fill-rule="evenodd"/>
<circle cx="429.6" cy="582.8" r="0.5" fill="#9a9ad8"/><circle cx="414.4" cy="589.4" r="0.5" fill="#9a9ad8"/><circle cx="409.9" cy="591.7" r="0.5" fill="#9a9ad8"/><circle cx="421.7" cy="587.8" r="0.5" fill="#9a9ad8"/><circle cx="413.2" cy="579.0" r="0.5" fill="#b0b0e6"/><circle cx="412.4" cy="579.2" r="0.5" fill="#b0b0e6"/><circle cx="417.3" cy="582.2" r="0.5" fill="#9a9ad8"/><circle cx="413.8" cy="586.2" r="0.5" fill="#9a9ad8"/>
<circle cx="397.6" cy="603.9" r="0.5" fill="#b0b0e6"/><circle cx="395.1" cy="609.1" r="0.5" fill="#b0b0e6"/><circle cx="403.6" cy="599.9" r="0.5" fill="#9a9ad8"/><circle cx="417.0" cy="596.9" r="0.5" fill="#b0b0e6"/><circle cx="403.2" cy="598.1" r="0.5" fill="#b0b0e6"/><circle cx="395.8" cy="606.9" r="0.5" fill="#b0b0e6"/>
<line x1="427.9" y1="615.2" x2="435.9" y2="615.2" stroke="#444" stroke-width="1"/>
<clipPath id="cl_TSH4"><path d="M401.7,648.9 C401.8,647.8 404.5,638.5 405.3,637.4 C406.1,636.3 410.7,636.1 411.8,635.9 C412.9,635.7 418.0,635.4 419.0,635.2 C420.0,635.0 423.2,633.2 424.1,633.1 C425.0,633.0 428.4,634.0 429.2,634.5 C430.0,635.0 433.7,637.8 434.2,638.8 C434.7,639.8 435.8,645.0 435.7,646.1 C435.6,647.2 433.4,651.1 432.8,651.8 C432.2,652.5 429.1,654.6 428.4,654.7 C427.7,654.8 424.7,653.7 424.1,653.3 C423.5,652.9 421.7,650.2 421.2,649.7 C420.7,649.2 418.9,647.5 418.3,647.5 C417.7,647.5 414.8,649.6 414.0,649.7 C413.2,649.8 409.0,648.8 408.2,648.9 C407.4,649.0 404.4,650.4 403.9,650.4 C403.4,650.4 401.6,650.0 401.7,648.9Z"/><path d="M393.1,666.3 C393.2,665.5 395.1,661.4 395.9,660.5 C396.7,659.6 401.2,656.1 402.4,655.4 C403.5,654.7 408.5,652.0 409.7,651.8 C410.9,651.6 415.9,652.1 416.9,652.5 C417.9,652.9 421.4,655.5 421.9,656.2 C422.4,656.9 423.6,660.5 423.4,661.2 C423.2,661.9 420.6,664.3 419.8,664.8 C419.0,665.3 414.4,666.6 413.3,667.0 C412.2,667.4 407.3,669.5 406.1,669.9 C404.9,670.3 399.8,671.3 398.8,671.3 C397.8,671.3 395.0,670.3 394.5,669.9 C394.0,669.5 393.0,667.1 393.1,666.3Z"/></clipPath>
<path d="M401.7,648.9 C401.8,647.8 404.5,638.5 405.3,637.4 C406.1,636.3 410.7,636.1 411.8,635.9 C412.9,635.7 418.0,635.4 419.0,635.2 C420.0,635.0 423.2,633.2 424.1,633.1 C425.0,633.0 428.4,634.0 429.2,634.5 C430.0,635.0 433.7,637.8 434.2,638.8 C434.7,639.8 435.8,645.0 435.7,646.1 C435.6,647.2 433.4,651.1 432.8,651.8 C432.2,652.5 429.1,654.6 428.4,654.7 C427.7,654.8 424.7,653.7 424.1,653.3 C423.5,652.9 421.7,650.2 421.2,649.7 C420.7,649.2 418.9,647.5 418.3,647.5 C417.7,647.5 414.8,649.6 414.0,649.7 C413.2,649.8 409.0,648.8 408.2,648.9 C407.4,649.0 404.4,650.4 403.9,650.4 C403.4,650.4 401.6,650.0 401.7,648.9Z" fill="#7a2c98" fill-rule="evenodd"/>
<path d="M393.1,666.3 C393.2,665.5 395.1,661.4 395.9,660.5 C396.7,659.6 401.2,656.1 402.4,655.4 C403.5,654.7 408.5,652.0 409.7,651.8 C410.9,651.6 415.9,652.1 416.9,652.5 C417.9,652.9 421.4,655.5 421.9,656.2 C422.4,656.9 423.6,660.5 423.4,661.2 C423.2,661.9 420.6,664.3 419.8,664.8 C419.0,665.3 414.4,666.6 413.3,667.0 C412.2,667.4 407.3,669.5 406.1,669.9 C404.9,670.3 399.8,671.3 398.8,671.3 C397.8,671.3 395.0,670.3 394.5,669.9 C394.0,669.5 393.0,667.1 393.1,666.3Z" fill="#dcc434" fill-rule="evenodd"/>
<g clip-path="url(#cl_TSH4)">
<path d="M424.0,636.0 C424.4,635.2 429.1,635.6 430.0,636.0 C430.9,636.4 434.2,640.0 434.5,641.0 C434.8,642.0 434.5,647.2 434.0,648.0 C433.5,648.8 429.8,650.2 429.0,650.0 C428.2,649.8 425.4,646.2 425.0,645.0 C424.6,643.8 423.6,636.8 424.0,636.0Z" fill="#3c2c86" fill-rule="evenodd"/>
<path d="M400.0,658.0 C400.0,657.4 404.2,654.5 405.0,654.0 C405.8,653.5 408.7,651.9 409.7,651.8 C410.7,651.7 415.9,652.1 416.9,652.5 C417.9,652.9 421.4,655.5 421.9,656.2 C422.4,656.9 423.6,660.7 423.4,661.2 C423.2,661.7 419.9,662.0 419.0,662.0 C418.1,662.0 413.2,661.6 412.0,661.5 C410.8,661.4 406.0,661.3 405.0,661.0 C404.0,660.7 400.0,658.6 400.0,658.0Z" fill="#8a3a90" fill-rule="evenodd"/>
<path d="M408.0,659.5 C408.5,659.1 413.0,658.5 414.0,658.5 C415.0,658.5 419.4,658.7 420.0,659.0 C420.6,659.3 421.6,662.1 421.0,662.5 C420.4,662.9 414.1,664.0 413.0,664.0 C411.9,664.0 408.4,663.4 408.0,663.0 C407.6,662.6 407.5,659.9 408.0,659.5Z" fill="#e6b870" fill-rule="evenodd"/>
<path d="M393.1,666.3 C393.1,665.4 395.4,661.1 395.9,660.5 C396.4,659.9 398.6,658.4 399.0,658.5 C399.4,658.6 401.0,661.2 401.0,662.0 C401.0,662.8 399.4,667.2 399.0,668.0 C398.6,668.8 396.5,671.1 396.0,671.0 C395.5,670.9 393.1,667.2 393.1,666.3Z" fill="#2a8a3a" fill-rule="evenodd"/>
</g>
<g clip-path="url(#cl_TSH4)">
<path d="M401.7,648.9 C401.8,647.8 404.5,638.5 405.3,637.4 C406.1,636.3 410.7,636.1 411.8,635.9 C412.9,635.7 418.0,635.4 419.0,635.2 C420.0,635.0 423.2,633.2 424.1,633.1 C425.0,633.0 428.4,634.0 429.2,634.5 C430.0,635.0 433.7,637.8 434.2,638.8 C434.7,639.8 435.8,645.0 435.7,646.1 C435.6,647.2 433.4,651.1 432.8,651.8 C432.2,652.5 429.1,654.6 428.4,654.7 C427.7,654.8 424.7,653.7 424.1,653.3 C423.5,652.9 421.7,650.2 421.2,649.7 C420.7,649.2 418.9,647.5 418.3,647.5 C417.7,647.5 414.8,649.6 414.0,649.7 C413.2,649.8 409.0,648.8 408.2,648.9 C407.4,649.0 404.4,650.4 403.9,650.4 C403.4,650.4 401.6,650.0 401.7,648.9Z" fill="url(#mxp)" fill-rule="evenodd"/>
<path d="M393.1,666.3 C393.2,665.5 395.1,661.4 395.9,660.5 C396.7,659.6 401.2,656.1 402.4,655.4 C403.5,654.7 408.5,652.0 409.7,651.8 C410.9,651.6 415.9,652.1 416.9,652.5 C417.9,652.9 421.4,655.5 421.9,656.2 C422.4,656.9 423.6,660.5 423.4,661.2 C423.2,661.9 420.6,664.3 419.8,664.8 C419.0,665.3 414.4,666.6 413.3,667.0 C412.2,667.4 407.3,669.5 406.1,669.9 C404.9,670.3 399.8,671.3 398.8,671.3 C397.8,671.3 395.0,670.3 394.5,669.9 C394.0,669.5 393.0,667.1 393.1,666.3Z" fill="url(#mxp)" fill-rule="evenodd"/>
</g>
<circle cx="429.1" cy="640.5" r="0.6" fill="#8a2a9a"/><circle cx="433.8" cy="639.3" r="0.6" fill="#ebcd1f"/><circle cx="409.1" cy="645.4" r="0.6" fill="#8a2a9a"/><circle cx="430.4" cy="644.4" r="0.6" fill="#8a2a9a"/><circle cx="425.9" cy="637.3" r="0.6" fill="#8a2a9a"/><circle cx="429.9" cy="652.3" r="0.6" fill="#2c2a6e"/><circle cx="418.5" cy="639.0" r="0.6" fill="#8a2a9a"/><circle cx="406.4" cy="647.6" r="0.6" fill="#2c2a6e"/><circle cx="429.3" cy="645.7" r="0.6" fill="#8a2a9a"/><circle cx="402.0" cy="648.1" r="0.6" fill="#2c2a6e"/><circle cx="415.6" cy="648.7" r="0.6" fill="#8a2a9a"/><circle cx="419.3" cy="640.6" r="0.6" fill="#ebcd1f"/>
<circle cx="420.7" cy="661.1" r="0.6" fill="#2c2a6e"/><circle cx="418.3" cy="659.0" r="0.6" fill="#8a2a9a"/><circle cx="414.4" cy="663.0" r="0.6" fill="#8a2a9a"/><circle cx="403.9" cy="670.0" r="0.6" fill="#2c2a6e"/><circle cx="400.5" cy="668.0" r="0.6" fill="#ebcd1f"/><circle cx="415.2" cy="660.5" r="0.6" fill="#8a2a9a"/>
<text x="487.6" y="568.1" font-size="9.5" fill="#111" stroke="#111" stroke-width="0.12" text-anchor="middle" font-weight="normal" font-style="normal" style="stroke-width:0.25px">TSH5</text>
<rect x="462" y="569.7" width="50.0" height="49.3" fill="#fafbfd"/>
<path d="M465.0,591.3 C464.7,590.9 466.6,587.2 467.3,586.6 C468.0,586.0 472.6,584.4 473.5,584.3 C474.4,584.2 477.3,586.0 478.1,585.9 C478.9,585.8 481.5,583.1 482.8,582.8 C484.1,582.5 492.1,581.9 493.6,582.0 C495.1,582.1 500.5,583.7 501.3,584.3 C502.1,584.9 503.5,588.0 503.6,589.0 C503.7,590.0 503.0,595.3 502.8,596.7 C502.6,598.1 501.9,604.6 501.3,605.9 C500.7,607.2 496.4,611.5 495.1,612.1 C493.8,612.7 487.4,613.6 485.9,613.6 C484.4,613.6 477.8,612.7 476.6,612.1 C475.4,611.5 471.7,606.9 471.2,605.9 C470.7,604.9 470.1,600.6 470.4,599.8 C470.7,599.0 474.0,597.3 474.3,596.7 C474.6,596.1 474.6,593.2 474.3,592.8 C474.0,592.3 471.2,591.4 470.4,591.3 C469.6,591.2 465.3,591.7 465.0,591.3Z" fill="#4b4fb0" fill-rule="evenodd"/>
<path d="M465.0,591.3 C464.7,590.9 466.6,587.2 467.3,586.6 C468.0,586.0 472.6,584.4 473.5,584.3 C474.4,584.2 477.3,586.0 478.1,585.9 C478.9,585.8 481.5,583.1 482.8,582.8 C484.1,582.5 492.1,581.9 493.6,582.0 C495.1,582.1 500.5,583.7 501.3,584.3 C502.1,584.9 503.5,588.0 503.6,589.0 C503.7,590.0 503.0,595.3 502.8,596.7 C502.6,598.1 501.9,604.6 501.3,605.9 C500.7,607.2 496.4,611.5 495.1,612.1 C493.8,612.7 487.4,613.6 485.9,613.6 C484.4,613.6 477.8,612.7 476.6,612.1 C475.4,611.5 471.7,606.9 471.2,605.9 C470.7,604.9 470.1,600.6 470.4,599.8 C470.7,599.0 474.0,597.3 474.3,596.7 C474.6,596.1 474.6,593.2 474.3,592.8 C474.0,592.3 471.2,591.4 470.4,591.3 C469.6,591.2 465.3,591.7 465.0,591.3Z" fill="url(#hep)" fill-rule="evenodd"/>
<circle cx="485.5" cy="599.0" r="0.5" fill="#9a9ad8"/><circle cx="474.4" cy="584.8" r="0.5" fill="#9a9ad8"/><circle cx="486.4" cy="612.2" r="0.5" fill="#9a9ad8"/><circle cx="488.1" cy="600.2" r="0.5" fill="#9a9ad8"/><circle cx="492.1" cy="585.3" r="0.5" fill="#9a9ad8"/><circle cx="492.7" cy="583.4" r="0.5" fill="#9a9ad8"/><circle cx="482.9" cy="600.5" r="0.5" fill="#b0b0e6"/><circle cx="499.1" cy="599.1" r="0.5" fill="#9a9ad8"/><circle cx="498.2" cy="586.7" r="0.5" fill="#b0b0e6"/><circle cx="493.8" cy="587.2" r="0.5" fill="#9a9ad8"/>
<line x1="498.7" y1="615.2" x2="506.4" y2="615.2" stroke="#444" stroke-width="1"/>
<clipPath id="cl_TSH5"><path d="M465.8,646.0 C465.7,645.4 468.1,642.0 468.9,641.4 C469.7,640.8 474.2,638.4 475.1,638.3 C476.0,638.2 478.8,640.7 479.7,640.6 C480.6,640.5 484.6,638.0 485.9,637.6 C487.2,637.2 493.6,636.0 495.1,636.0 C496.6,636.0 503.3,637.0 504.4,637.6 C505.5,638.2 507.9,641.8 508.2,643.0 C508.5,644.2 507.8,650.8 507.5,652.2 C507.2,653.6 505.2,658.9 504.4,659.9 C503.6,660.9 499.5,664.0 498.2,664.6 C496.9,665.2 490.5,666.8 489.0,666.9 C487.5,667.0 481.0,665.9 479.7,665.3 C478.4,664.7 474.1,660.9 473.5,659.9 C472.9,658.9 472.4,654.6 472.7,653.8 C473.0,653.0 476.3,651.2 476.6,650.7 C476.9,650.2 476.3,648.6 475.8,648.4 C475.3,648.2 471.2,648.6 470.4,648.4 C469.6,648.2 465.9,646.6 465.8,646.0Z"/></clipPath>
<path d="M465.8,646.0 C465.7,645.4 468.1,642.0 468.9,641.4 C469.7,640.8 474.2,638.4 475.1,638.3 C476.0,638.2 478.8,640.7 479.7,640.6 C480.6,640.5 484.6,638.0 485.9,637.6 C487.2,637.2 493.6,636.0 495.1,636.0 C496.6,636.0 503.3,637.0 504.4,637.6 C505.5,638.2 507.9,641.8 508.2,643.0 C508.5,644.2 507.8,650.8 507.5,652.2 C507.2,653.6 505.2,658.9 504.4,659.9 C503.6,660.9 499.5,664.0 498.2,664.6 C496.9,665.2 490.5,666.8 489.0,666.9 C487.5,667.0 481.0,665.9 479.7,665.3 C478.4,664.7 474.1,660.9 473.5,659.9 C472.9,658.9 472.4,654.6 472.7,653.8 C473.0,653.0 476.3,651.2 476.6,650.7 C476.9,650.2 476.3,648.6 475.8,648.4 C475.3,648.2 471.2,648.6 470.4,648.4 C469.6,648.2 465.9,646.6 465.8,646.0Z" fill="#3a8a4c" fill-rule="evenodd"/>
<g clip-path="url(#cl_TSH5)">
<path d="M484.0,660.0 C484.4,659.4 488.4,657.8 489.0,658.0 C489.6,658.2 491.1,662.3 491.0,663.0 C490.9,663.7 488.6,665.8 488.0,666.0 C487.4,666.2 484.3,665.5 484.0,665.0 C483.7,664.5 483.6,660.6 484.0,660.0Z" fill="#a02a80" fill-rule="evenodd"/>
<path d="M487.0,643.0 C487.1,641.8 488.2,641.9 488.4,643.0 C488.6,644.1 489.0,654.8 488.9,656.0 C488.8,657.2 487.7,658.1 487.5,657.0 C487.3,655.9 486.9,644.2 487.0,643.0Z" fill="#84468a" fill-rule="evenodd"/>
<path d="M472.2,651.5 C472.4,651.1 475.2,652.1 475.5,652.5 C475.8,652.9 476.2,655.6 476.0,656.0 C475.8,656.4 473.3,657.4 473.0,657.0 C472.7,656.6 472.0,651.9 472.2,651.5Z" fill="#8a2a8a" fill-rule="evenodd"/>
</g>
<g clip-path="url(#cl_TSH5)">
<path d="M465.8,646.0 C465.7,645.4 468.1,642.0 468.9,641.4 C469.7,640.8 474.2,638.4 475.1,638.3 C476.0,638.2 478.8,640.7 479.7,640.6 C480.6,640.5 484.6,638.0 485.9,637.6 C487.2,637.2 493.6,636.0 495.1,636.0 C496.6,636.0 503.3,637.0 504.4,637.6 C505.5,638.2 507.9,641.8 508.2,643.0 C508.5,644.2 507.8,650.8 507.5,652.2 C507.2,653.6 505.2,658.9 504.4,659.9 C503.6,660.9 499.5,664.0 498.2,664.6 C496.9,665.2 490.5,666.8 489.0,666.9 C487.5,667.0 481.0,665.9 479.7,665.3 C478.4,664.7 474.1,660.9 473.5,659.9 C472.9,658.9 472.4,654.6 472.7,653.8 C473.0,653.0 476.3,651.2 476.6,650.7 C476.9,650.2 476.3,648.6 475.8,648.4 C475.3,648.2 471.2,648.6 470.4,648.4 C469.6,648.2 465.9,646.6 465.8,646.0Z" fill="url(#gnp)" fill-rule="evenodd"/>
</g>
<circle cx="505.6" cy="648.0" r="0.6" fill="#8a2a9a"/><circle cx="491.1" cy="654.6" r="0.6" fill="#b02a80"/><circle cx="482.6" cy="665.1" r="0.6" fill="#8a2a9a"/><circle cx="480.2" cy="643.4" r="0.6" fill="#8a2a9a"/><circle cx="496.1" cy="662.0" r="0.6" fill="#c03060"/><circle cx="500.4" cy="662.2" r="0.6" fill="#b02a80"/><circle cx="494.6" cy="646.9" r="0.6" fill="#8a2a9a"/><circle cx="493.9" cy="636.4" r="0.6" fill="#b02a80"/><circle cx="488.3" cy="638.1" r="0.6" fill="#8a2a9a"/><circle cx="474.3" cy="656.7" r="0.6" fill="#b02a80"/><circle cx="492.6" cy="661.0" r="0.6" fill="#b02a80"/>
<text x="558.2" y="568.1" font-size="9.5" fill="#111" stroke="#111" stroke-width="0.12" text-anchor="middle" font-weight="normal" font-style="normal" style="stroke-width:0.25px">TSH1</text>
<rect x="534" y="569.7" width="50.0" height="49.3" fill="#fafbfd"/>
<path d="M537.3,587.4 C537.8,586.4 541.0,580.8 542.0,579.7 C543.0,578.6 548.3,574.9 549.7,574.3 C551.1,573.7 557.8,571.8 559.0,572.0 C560.2,572.2 562.6,576.0 563.6,576.6 C564.6,577.2 570.0,579.3 571.3,579.7 C572.6,580.1 578.2,580.3 579.0,581.2 C579.8,582.1 580.5,588.8 580.6,590.5 C580.7,592.2 579.9,599.6 579.8,601.3 C579.7,603.0 579.3,609.7 579.0,610.6 C578.7,611.5 576.3,612.4 575.9,612.1 C575.5,611.8 574.8,607.6 574.4,607.5 C574.0,607.4 571.7,611.1 571.3,610.6 C570.9,610.1 570.1,601.3 569.8,601.3 C569.5,601.3 568.7,609.4 568.2,610.6 C567.7,611.8 564.3,615.4 563.6,616.0 C562.9,616.6 560.3,617.8 559.7,617.5 C559.1,617.2 556.7,613.6 555.9,612.9 C555.1,612.2 550.7,609.7 549.7,609.0 C548.7,608.3 544.5,605.3 543.5,604.4 C542.5,603.5 538.7,599.2 538.1,598.2 C537.5,597.2 536.7,592.9 536.6,592.0 C536.5,591.1 536.8,588.4 537.3,587.4Z" fill="#7b71c1" fill-rule="evenodd"/>
<path d="M537.3,587.4 C537.8,586.4 541.0,580.8 542.0,579.7 C543.0,578.6 548.3,574.9 549.7,574.3 C551.1,573.7 557.8,571.8 559.0,572.0 C560.2,572.2 562.6,576.0 563.6,576.6 C564.6,577.2 570.0,579.3 571.3,579.7 C572.6,580.1 578.2,580.3 579.0,581.2 C579.8,582.1 580.5,588.8 580.6,590.5 C580.7,592.2 579.9,599.6 579.8,601.3 C579.7,603.0 579.3,609.7 579.0,610.6 C578.7,611.5 576.3,612.4 575.9,612.1 C575.5,611.8 574.8,607.6 574.4,607.5 C574.0,607.4 571.7,611.1 571.3,610.6 C570.9,610.1 570.1,601.3 569.8,601.3 C569.5,601.3 568.7,609.4 568.2,610.6 C567.7,611.8 564.3,615.4 563.6,616.0 C562.9,616.6 560.3,617.8 559.7,617.5 C559.1,617.2 556.7,613.6 555.9,612.9 C555.1,612.2 550.7,609.7 549.7,609.0 C548.7,608.3 544.5,605.3 543.5,604.4 C542.5,603.5 538.7,599.2 538.1,598.2 C537.5,597.2 536.7,592.9 536.6,592.0 C536.5,591.1 536.8,588.4 537.3,587.4Z" fill="url(#hep)" fill-rule="evenodd"/>
<circle cx="548.3" cy="602.9" r="0.5" fill="#b0b0e6"/><circle cx="564.2" cy="608.7" r="0.5" fill="#9a9ad8"/><circle cx="563.9" cy="583.4" r="0.5" fill="#9a9ad8"/><circle cx="549.3" cy="585.9" r="0.5" fill="#9a9ad8"/><circle cx="541.9" cy="599.0" r="0.5" fill="#b0b0e6"/><circle cx="540.3" cy="598.9" r="0.5" fill="#9a9ad8"/><circle cx="556.0" cy="595.3" r="0.5" fill="#b0b0e6"/><circle cx="576.9" cy="598.3" r="0.5" fill="#b0b0e6"/><circle cx="547.3" cy="576.0" r="0.5" fill="#b0b0e6"/><circle cx="573.5" cy="599.8" r="0.5" fill="#9a9ad8"/><circle cx="565.2" cy="581.2" r="0.5" fill="#b0b0e6"/><circle cx="556.9" cy="596.9" r="0.5" fill="#b0b0e6"/><circle cx="557.2" cy="586.1" r="0.5" fill="#9a9ad8"/>
<line x1="572" y1="615.2" x2="578" y2="615.2" stroke="#444" stroke-width="1"/>
<clipPath id="cl_TSH1"><path d="M537.3,644.5 C537.6,643.2 541.0,636.4 542.0,635.2 C543.0,634.0 548.4,631.1 549.7,630.6 C551.0,630.1 556.5,628.8 557.4,629.1 C558.3,629.4 559.6,633.1 560.5,633.7 C561.4,634.3 566.8,635.7 568.2,636.0 C569.6,636.3 576.5,636.1 577.5,636.8 C578.5,637.5 579.7,643.0 579.8,644.5 C579.9,646.0 579.3,653.5 579.0,655.3 C578.7,657.1 577.2,665.1 576.7,666.1 C576.2,667.1 573.2,668.1 572.8,667.7 C572.3,667.3 571.7,661.9 571.3,661.5 C570.9,661.1 568.7,662.5 568.2,663.0 C567.8,663.5 566.4,667.2 565.9,667.7 C565.4,668.2 562.7,668.8 562.0,668.4 C561.3,668.0 558.4,663.6 557.4,663.0 C556.4,662.4 551.0,662.0 549.7,661.5 C548.4,661.0 543.0,657.8 542.0,656.9 C541.0,656.0 538.5,651.7 538.1,650.7 C537.7,649.7 537.0,645.8 537.3,644.5Z"/></clipPath>
<path d="M537.3,644.5 C537.6,643.2 541.0,636.4 542.0,635.2 C543.0,634.0 548.4,631.1 549.7,630.6 C551.0,630.1 556.5,628.8 557.4,629.1 C558.3,629.4 559.6,633.1 560.5,633.7 C561.4,634.3 566.8,635.7 568.2,636.0 C569.6,636.3 576.5,636.1 577.5,636.8 C578.5,637.5 579.7,643.0 579.8,644.5 C579.9,646.0 579.3,653.5 579.0,655.3 C578.7,657.1 577.2,665.1 576.7,666.1 C576.2,667.1 573.2,668.1 572.8,667.7 C572.3,667.3 571.7,661.9 571.3,661.5 C570.9,661.1 568.7,662.5 568.2,663.0 C567.8,663.5 566.4,667.2 565.9,667.7 C565.4,668.2 562.7,668.8 562.0,668.4 C561.3,668.0 558.4,663.6 557.4,663.0 C556.4,662.4 551.0,662.0 549.7,661.5 C548.4,661.0 543.0,657.8 542.0,656.9 C541.0,656.0 538.5,651.7 538.1,650.7 C537.7,649.7 537.0,645.8 537.3,644.5Z M566.5,655.0 C566.6,654.4 568.6,652.7 569.0,652.8 C569.4,652.9 570.9,655.3 571.0,656.0 C571.1,656.7 570.8,660.6 570.5,661.0 C570.2,661.4 567.8,661.0 567.5,660.5 C567.2,660.0 566.4,655.6 566.5,655.0Z" fill="#3a8a48" fill-rule="evenodd"/>
<g clip-path="url(#cl_TSH1)">
<path d="M567.0,648.0 C567.5,646.8 572.8,646.4 573.5,647.0 C574.2,647.6 576.0,653.7 576.0,655.0 C576.0,656.3 574.2,662.0 573.5,662.5 C572.8,663.0 568.5,662.2 568.0,661.0 C567.5,659.8 566.5,649.2 567.0,648.0Z" fill="#6a3a86" fill-rule="evenodd"/>
</g>
<g clip-path="url(#cl_TSH1)">
<path d="M537.3,644.5 C537.6,643.2 541.0,636.4 542.0,635.2 C543.0,634.0 548.4,631.1 549.7,630.6 C551.0,630.1 556.5,628.8 557.4,629.1 C558.3,629.4 559.6,633.1 560.5,633.7 C561.4,634.3 566.8,635.7 568.2,636.0 C569.6,636.3 576.5,636.1 577.5,636.8 C578.5,637.5 579.7,643.0 579.8,644.5 C579.9,646.0 579.3,653.5 579.0,655.3 C578.7,657.1 577.2,665.1 576.7,666.1 C576.2,667.1 573.2,668.1 572.8,667.7 C572.3,667.3 571.7,661.9 571.3,661.5 C570.9,661.1 568.7,662.5 568.2,663.0 C567.8,663.5 566.4,667.2 565.9,667.7 C565.4,668.2 562.7,668.8 562.0,668.4 C561.3,668.0 558.4,663.6 557.4,663.0 C556.4,662.4 551.0,662.0 549.7,661.5 C548.4,661.0 543.0,657.8 542.0,656.9 C541.0,656.0 538.5,651.7 538.1,650.7 C537.7,649.7 537.0,645.8 537.3,644.5Z M566.5,655.0 C566.6,654.4 568.6,652.7 569.0,652.8 C569.4,652.9 570.9,655.3 571.0,656.0 C571.1,656.7 570.8,660.6 570.5,661.0 C570.2,661.4 567.8,661.0 567.5,660.5 C567.2,660.0 566.4,655.6 566.5,655.0Z" fill="url(#gnp)" fill-rule="evenodd"/>
</g>
<path d="M566.5,655.0 C566.6,654.4 568.6,652.7 569.0,652.8 C569.4,652.9 570.9,655.3 571.0,656.0 C571.1,656.7 570.8,660.6 570.5,661.0 C570.2,661.4 567.8,661.0 567.5,660.5 C567.2,660.0 566.4,655.6 566.5,655.0Z" fill="#ffffff" fill-rule="evenodd"/>
<circle cx="551.5" cy="636.5" r="0.6" fill="#c03060"/><circle cx="553.6" cy="652.1" r="0.6" fill="#8a2a9a"/><circle cx="577.8" cy="641.8" r="0.6" fill="#2c2a6e"/><circle cx="558.2" cy="640.3" r="0.6" fill="#8a2a9a"/><circle cx="549.9" cy="659.4" r="0.6" fill="#8a2a9a"/><circle cx="560.7" cy="652.9" r="0.6" fill="#2c2a6e"/><circle cx="556.0" cy="631.5" r="0.6" fill="#2c2a6e"/><circle cx="572.8" cy="643.0" r="0.6" fill="#8a2a9a"/>
<text x="632.4" y="568.1" font-size="9.5" fill="#111" stroke="#111" stroke-width="0.12" text-anchor="middle" font-weight="normal" font-style="normal" style="stroke-width:0.25px">TSH/GH1</text>
<rect x="602.7" y="568.9" width="50.2" height="49.4" fill="#eef2f7"/>
<path d="M616.6,571.2 C616.8,571.0 620.8,569.6 621.2,569.7 C621.6,569.8 625.5,573.3 625.9,573.5 C626.3,573.7 631.5,575.6 632.0,575.8 C632.5,576.0 637.8,577.2 638.2,577.4 C638.6,577.6 641.2,580.2 641.3,580.5 C641.4,580.8 640.7,584.1 640.5,584.3 C640.3,584.5 635.5,585.0 635.1,585.1 C634.7,585.2 630.8,585.8 630.5,585.9 C630.2,586.0 628.1,588.0 628.2,588.2 C628.3,588.4 631.6,589.5 632.0,589.7 C632.4,589.9 637.8,592.5 638.2,592.8 C638.6,593.1 642.6,596.4 642.8,596.7 C643.0,597.0 644.3,600.9 644.4,601.3 C644.5,601.7 645.1,607.1 645.2,607.5 C645.3,607.9 646.8,611.9 646.7,612.1 C646.6,612.3 643.0,613.1 642.8,612.9 C642.6,612.7 641.4,607.8 641.3,607.5 C641.2,607.2 640.1,604.5 639.8,604.4 C639.5,604.3 634.0,604.5 633.6,604.4 C633.2,604.3 629.4,603.0 629.0,602.8 C628.6,602.6 623.2,598.5 622.8,598.2 C622.4,597.9 618.4,594.7 618.1,594.4 C617.8,594.1 615.8,590.8 615.8,590.5 C615.8,590.2 618.0,587.0 618.1,586.6 C618.2,586.2 618.2,581.7 618.1,581.2 C618.0,580.7 615.9,575.5 615.8,575.1 C615.7,574.7 616.4,571.4 616.6,571.2Z" fill="#5052b8" fill-rule="evenodd"/>
<path d="M616.6,571.2 C616.8,571.0 620.8,569.6 621.2,569.7 C621.6,569.8 625.5,573.3 625.9,573.5 C626.3,573.7 631.5,575.6 632.0,575.8 C632.5,576.0 637.8,577.2 638.2,577.4 C638.6,577.6 641.2,580.2 641.3,580.5 C641.4,580.8 640.7,584.1 640.5,584.3 C640.3,584.5 635.5,585.0 635.1,585.1 C634.7,585.2 630.8,585.8 630.5,585.9 C630.2,586.0 628.1,588.0 628.2,588.2 C628.3,588.4 631.6,589.5 632.0,589.7 C632.4,589.9 637.8,592.5 638.2,592.8 C638.6,593.1 642.6,596.4 642.8,596.7 C643.0,597.0 644.3,600.9 644.4,601.3 C644.5,601.7 645.1,607.1 645.2,607.5 C645.3,607.9 646.8,611.9 646.7,612.1 C646.6,612.3 643.0,613.1 642.8,612.9 C642.6,612.7 641.4,607.8 641.3,607.5 C641.2,607.2 640.1,604.5 639.8,604.4 C639.5,604.3 634.0,604.5 633.6,604.4 C633.2,604.3 629.4,603.0 629.0,602.8 C628.6,602.6 623.2,598.5 622.8,598.2 C622.4,597.9 618.4,594.7 618.1,594.4 C617.8,594.1 615.8,590.8 615.8,590.5 C615.8,590.2 618.0,587.0 618.1,586.6 C618.2,586.2 618.2,581.7 618.1,581.2 C618.0,580.7 615.9,575.5 615.8,575.1 C615.7,574.7 616.4,571.4 616.6,571.2Z" fill="url(#hep)" fill-rule="evenodd"/>
<circle cx="628.7" cy="598.6" r="0.5" fill="#9a9ad8"/><circle cx="636.7" cy="596.3" r="0.5" fill="#b0b0e6"/><circle cx="638.6" cy="601.8" r="0.5" fill="#b0b0e6"/><circle cx="624.1" cy="596.9" r="0.5" fill="#9a9ad8"/><circle cx="628.5" cy="593.5" r="0.5" fill="#9a9ad8"/><circle cx="629.8" cy="589.5" r="0.5" fill="#b0b0e6"/><circle cx="624.9" cy="586.6" r="0.5" fill="#b0b0e6"/><circle cx="627.6" cy="582.7" r="0.5" fill="#b0b0e6"/><circle cx="627.4" cy="579.7" r="0.5" fill="#b0b0e6"/><circle cx="622.1" cy="588.1" r="0.5" fill="#9a9ad8"/><circle cx="632.4" cy="583.2" r="0.5" fill="#b0b0e6"/><circle cx="631.8" cy="592.0" r="0.5" fill="#b0b0e6"/><circle cx="627.8" cy="585.2" r="0.5" fill="#b0b0e6"/><circle cx="617.9" cy="579.6" r="0.5" fill="#b0b0e6"/><circle cx="627.4" cy="587.0" r="0.5" fill="#9a9ad8"/><circle cx="643.0" cy="611.4" r="0.5" fill="#b0b0e6"/>
<line x1="639" y1="615.5" x2="648.2" y2="615.5" stroke="#444" stroke-width="1"/>
<clipPath id="cl_TSH_GH1"><path d="M605.8,629.8 C606.0,629.5 611.4,627.5 612.0,627.5 C612.6,627.5 619.1,629.0 619.7,629.1 C620.3,629.2 625.3,630.4 625.9,630.6 C626.5,630.8 634.5,632.7 635.1,632.9 C635.7,633.1 640.9,635.0 641.3,635.2 C641.7,635.4 644.4,638.8 644.4,639.1 C644.4,639.4 641.7,642.0 641.3,642.2 C640.9,642.4 635.7,642.9 635.1,643.0 C634.5,643.1 627.8,644.3 627.4,644.5 C627.0,644.7 625.7,647.5 625.9,647.6 C626.1,647.7 631.4,646.0 632.0,646.0 C632.6,646.0 639.3,647.4 639.8,647.6 C640.3,647.8 644.1,650.3 644.4,650.7 C644.7,651.1 647.3,656.4 647.5,656.9 C647.7,657.4 648.9,662.6 649.0,663.0 C649.1,663.4 649.9,665.9 649.8,666.1 C649.7,666.3 646.2,667.8 645.9,667.7 C645.6,667.6 641.6,663.3 641.3,663.0 C641.0,662.7 638.6,660.1 638.2,659.9 C637.8,659.7 632.6,658.5 632.0,658.4 C631.4,658.3 625.0,657.1 624.3,656.9 C623.6,656.7 615.7,654.1 615.1,653.8 C614.5,653.5 609.2,649.5 608.9,649.1 C608.6,648.7 606.6,644.9 606.6,644.5 C606.6,644.1 608.1,640.3 608.1,639.9 C608.1,639.5 607.4,635.6 607.3,635.2 C607.2,634.8 605.6,630.1 605.8,629.8Z"/></clipPath>
<path d="M605.8,629.8 C606.0,629.5 611.4,627.5 612.0,627.5 C612.6,627.5 619.1,629.0 619.7,629.1 C620.3,629.2 625.3,630.4 625.9,630.6 C626.5,630.8 634.5,632.7 635.1,632.9 C635.7,633.1 640.9,635.0 641.3,635.2 C641.7,635.4 644.4,638.8 644.4,639.1 C644.4,639.4 641.7,642.0 641.3,642.2 C640.9,642.4 635.7,642.9 635.1,643.0 C634.5,643.1 627.8,644.3 627.4,644.5 C627.0,644.7 625.7,647.5 625.9,647.6 C626.1,647.7 631.4,646.0 632.0,646.0 C632.6,646.0 639.3,647.4 639.8,647.6 C640.3,647.8 644.1,650.3 644.4,650.7 C644.7,651.1 647.3,656.4 647.5,656.9 C647.7,657.4 648.9,662.6 649.0,663.0 C649.1,663.4 649.9,665.9 649.8,666.1 C649.7,666.3 646.2,667.8 645.9,667.7 C645.6,667.6 641.6,663.3 641.3,663.0 C641.0,662.7 638.6,660.1 638.2,659.9 C637.8,659.7 632.6,658.5 632.0,658.4 C631.4,658.3 625.0,657.1 624.3,656.9 C623.6,656.7 615.7,654.1 615.1,653.8 C614.5,653.5 609.2,649.5 608.9,649.1 C608.6,648.7 606.6,644.9 606.6,644.5 C606.6,644.1 608.1,640.3 608.1,639.9 C608.1,639.5 607.4,635.6 607.3,635.2 C607.2,634.8 605.6,630.1 605.8,629.8Z" fill="#3a8a48" fill-rule="evenodd"/>
<g clip-path="url(#cl_TSH_GH1)">
<path d="M636.0,648.0 C636.2,647.3 640.2,648.2 641.0,648.5 C641.8,648.8 644.4,651.2 645.0,652.0 C645.6,652.8 647.6,656.9 648.0,658.0 C648.4,659.1 649.7,664.2 649.5,665.0 C649.3,665.8 646.6,667.2 646.0,667.0 C645.4,666.8 642.7,662.8 642.0,662.0 C641.3,661.2 638.5,658.2 638.0,657.0 C637.5,655.8 635.8,648.7 636.0,648.0Z" fill="#6a4a82" fill-rule="evenodd"/>
<path d="M613.6,638.6 C613.9,638.2 617.4,638.2 618.0,638.4 C618.6,638.6 620.4,640.5 620.4,641.0 C620.4,641.5 619.0,643.6 618.5,643.8 C618.0,644.0 614.4,643.6 614.0,643.2 C613.6,642.8 613.3,639.0 613.6,638.6Z" fill="#6a4a6a" fill-rule="evenodd"/>
</g>
<g clip-path="url(#cl_TSH_GH1)">
<path d="M605.8,629.8 C606.0,629.5 611.4,627.5 612.0,627.5 C612.6,627.5 619.1,629.0 619.7,629.1 C620.3,629.2 625.3,630.4 625.9,630.6 C626.5,630.8 634.5,632.7 635.1,632.9 C635.7,633.1 640.9,635.0 641.3,635.2 C641.7,635.4 644.4,638.8 644.4,639.1 C644.4,639.4 641.7,642.0 641.3,642.2 C640.9,642.4 635.7,642.9 635.1,643.0 C634.5,643.1 627.8,644.3 627.4,644.5 C627.0,644.7 625.7,647.5 625.9,647.6 C626.1,647.7 631.4,646.0 632.0,646.0 C632.6,646.0 639.3,647.4 639.8,647.6 C640.3,647.8 644.1,650.3 644.4,650.7 C644.7,651.1 647.3,656.4 647.5,656.9 C647.7,657.4 648.9,662.6 649.0,663.0 C649.1,663.4 649.9,665.9 649.8,666.1 C649.7,666.3 646.2,667.8 645.9,667.7 C645.6,667.6 641.6,663.3 641.3,663.0 C641.0,662.7 638.6,660.1 638.2,659.9 C637.8,659.7 632.6,658.5 632.0,658.4 C631.4,658.3 625.0,657.1 624.3,656.9 C623.6,656.7 615.7,654.1 615.1,653.8 C614.5,653.5 609.2,649.5 608.9,649.1 C608.6,648.7 606.6,644.9 606.6,644.5 C606.6,644.1 608.1,640.3 608.1,639.9 C608.1,639.5 607.4,635.6 607.3,635.2 C607.2,634.8 605.6,630.1 605.8,629.8Z" fill="url(#gnp)" fill-rule="evenodd"/>
</g>
<circle cx="636.2" cy="657.5" r="0.6" fill="#8a2a9a"/><circle cx="613.3" cy="640.3" r="0.6" fill="#8a2a9a"/><circle cx="624.3" cy="633.8" r="0.6" fill="#2c2a6e"/><circle cx="641.7" cy="635.9" r="0.6" fill="#8a2a9a"/><circle cx="630.9" cy="652.9" r="0.6" fill="#8a2a9a"/><circle cx="623.3" cy="631.5" r="0.6" fill="#8a2a9a"/><circle cx="635.2" cy="635.4" r="0.6" fill="#2c2a6e"/><circle cx="639.6" cy="650.3" r="0.6" fill="#8a2a9a"/><circle cx="611.1" cy="633.8" r="0.6" fill="#8a2a9a"/>
<text x="130.6" y="695.4" font-size="9.5" fill="#111" stroke="#111" stroke-width="0.12" text-anchor="middle" font-weight="normal" font-style="normal" style="stroke-width:0.25px">SGA4</text>
<rect x="103" y="697.8" width="50.0" height="49.8" fill="#fafbfd"/>
<path d="M104.3,718.5 C104.6,717.5 106.5,713.1 107.4,712.3 C108.3,711.5 113.4,709.7 114.8,709.3 C116.2,708.9 123.0,708.0 124.7,708.0 C126.4,708.0 133.1,708.9 134.6,709.3 C136.1,709.7 142.1,711.6 143.2,712.3 C144.3,713.0 147.5,716.6 148.1,717.3 C148.7,718.0 150.3,719.0 150.6,721.0 C150.9,723.0 151.5,739.0 151.2,740.7 C150.9,742.4 148.1,741.3 146.9,741.4 C145.7,741.5 138.8,741.3 137.0,741.4 C135.2,741.5 126.5,742.5 124.7,742.6 C123.0,742.7 117.3,742.9 116.0,742.6 C114.7,742.3 109.5,740.2 108.6,739.5 C107.7,738.8 105.3,735.8 104.9,734.6 C104.5,733.4 103.8,726.0 103.7,724.7 C103.7,723.4 104.0,719.5 104.3,718.5Z M105.0,724.1 C105.4,723.6 108.6,722.6 109.3,722.8 C110.0,723.0 112.9,725.7 113.6,726.5 C114.3,727.3 116.7,731.2 117.3,732.1 C117.9,733.0 120.8,736.4 121.0,737.0 C121.2,737.6 120.3,739.5 119.8,739.5 C119.3,739.5 115.6,737.5 114.8,737.0 C114.0,736.5 110.7,733.8 109.9,733.3 C109.1,732.8 106.0,731.9 105.6,731.5 C105.2,731.1 105.0,729.0 105.0,728.4 C105.0,727.8 104.6,724.6 105.0,724.1Z M137.0,722.2 C137.4,722.0 141.8,721.4 143.0,721.2 C144.2,721.1 150.2,720.2 150.8,720.4 C151.5,720.6 151.4,723.2 150.8,723.5 C150.2,723.8 145.0,723.8 144.0,723.8 C143.0,723.8 138.9,724.2 138.3,724.1 C137.7,724.0 136.6,722.4 137.0,722.2Z" fill="#7a6dc0" fill-rule="evenodd"/>
<path d="M104.3,718.5 C104.6,717.5 106.5,713.1 107.4,712.3 C108.3,711.5 113.4,709.7 114.8,709.3 C116.2,708.9 123.0,708.0 124.7,708.0 C126.4,708.0 133.1,708.9 134.6,709.3 C136.1,709.7 142.1,711.6 143.2,712.3 C144.3,713.0 147.5,716.6 148.1,717.3 C148.7,718.0 150.3,719.0 150.6,721.0 C150.9,723.0 151.5,739.0 151.2,740.7 C150.9,742.4 148.1,741.3 146.9,741.4 C145.7,741.5 138.8,741.3 137.0,741.4 C135.2,741.5 126.5,742.5 124.7,742.6 C123.0,742.7 117.3,742.9 116.0,742.6 C114.7,742.3 109.5,740.2 108.6,739.5 C107.7,738.8 105.3,735.8 104.9,734.6 C104.5,733.4 103.8,726.0 103.7,724.7 C103.7,723.4 104.0,719.5 104.3,718.5Z M105.0,724.1 C105.4,723.6 108.6,722.6 109.3,722.8 C110.0,723.0 112.9,725.7 113.6,726.5 C114.3,727.3 116.7,731.2 117.3,732.1 C117.9,733.0 120.8,736.4 121.0,737.0 C121.2,737.6 120.3,739.5 119.8,739.5 C119.3,739.5 115.6,737.5 114.8,737.0 C114.0,736.5 110.7,733.8 109.9,733.3 C109.1,732.8 106.0,731.9 105.6,731.5 C105.2,731.1 105.0,729.0 105.0,728.4 C105.0,727.8 104.6,724.6 105.0,724.1Z M137.0,722.2 C137.4,722.0 141.8,721.4 143.0,721.2 C144.2,721.1 150.2,720.2 150.8,720.4 C151.5,720.6 151.4,723.2 150.8,723.5 C150.2,723.8 145.0,723.8 144.0,723.8 C143.0,723.8 138.9,724.2 138.3,724.1 C137.7,724.0 136.6,722.4 137.0,722.2Z" fill="url(#hep)" fill-rule="evenodd"/>
<circle cx="148.7" cy="725.0" r="0.5" fill="#b0b0e6"/><circle cx="132.8" cy="735.9" r="0.5" fill="#9a9ad8"/><circle cx="134.6" cy="731.7" r="0.5" fill="#b0b0e6"/><circle cx="110.5" cy="716.2" r="0.5" fill="#b0b0e6"/><circle cx="111.7" cy="717.2" r="0.5" fill="#9a9ad8"/><circle cx="144.5" cy="740.8" r="0.5" fill="#9a9ad8"/><circle cx="120.3" cy="723.6" r="0.5" fill="#b0b0e6"/><circle cx="122.5" cy="734.4" r="0.5" fill="#9a9ad8"/><circle cx="124.6" cy="729.5" r="0.5" fill="#9a9ad8"/>
<line x1="141" y1="743.6" x2="149" y2="743.6" stroke="#444" stroke-width="1"/>
<clipPath id="cl_SGA4"><path d="M107.4,766.7 C108.0,765.8 112.2,763.9 113.6,763.6 C115.0,763.3 122.8,763.0 124.7,763.0 C126.7,763.0 135.2,763.3 137.0,763.6 C138.8,763.9 144.7,766.0 145.7,766.7 C146.7,767.4 149.0,771.0 149.4,771.6 C149.8,772.2 150.5,772.4 150.6,774.1 C150.7,775.9 151.4,790.9 150.6,792.6 C149.8,794.3 142.9,794.1 140.7,794.4 C138.5,794.7 127.0,795.6 124.7,795.7 C122.4,795.8 114.9,795.5 113.6,795.1 C112.3,794.7 109.2,792.3 108.6,791.4 C108.0,790.5 107.0,785.4 106.8,784.0 C106.6,782.6 106.8,775.5 106.8,774.1 C106.8,772.7 106.8,767.6 107.4,766.7Z"/></clipPath>
<path d="M107.4,766.7 C108.0,765.8 112.2,763.9 113.6,763.6 C115.0,763.3 122.8,763.0 124.7,763.0 C126.7,763.0 135.2,763.3 137.0,763.6 C138.8,763.9 144.7,766.0 145.7,766.7 C146.7,767.4 149.0,771.0 149.4,771.6 C149.8,772.2 150.5,772.4 150.6,774.1 C150.7,775.9 151.4,790.9 150.6,792.6 C149.8,794.3 142.9,794.1 140.7,794.4 C138.5,794.7 127.0,795.6 124.7,795.7 C122.4,795.8 114.9,795.5 113.6,795.1 C112.3,794.7 109.2,792.3 108.6,791.4 C108.0,790.5 107.0,785.4 106.8,784.0 C106.6,782.6 106.8,775.5 106.8,774.1 C106.8,772.7 106.8,767.6 107.4,766.7Z M108.2,776.5 C108.7,775.9 112.7,775.6 113.6,775.9 C114.5,776.2 117.8,779.3 118.5,780.2 C119.2,781.1 121.8,785.5 122.2,786.4 C122.6,787.3 123.1,791.1 122.8,791.4 C122.5,791.7 119.3,790.5 118.5,790.1 C117.7,789.7 114.5,787.0 113.6,786.4 C112.7,785.8 108.7,783.5 108.2,782.7 C107.8,781.9 107.8,777.1 108.2,776.5Z M137.0,775.3 C137.4,775.1 141.8,774.7 143.0,774.6 C144.2,774.5 150.2,774.0 150.8,774.1 C151.5,774.2 151.4,775.7 150.8,775.9 C150.2,776.1 145.0,776.4 144.0,776.5 C143.0,776.6 138.9,777.3 138.3,777.2 C137.7,777.1 136.6,775.5 137.0,775.3Z" fill="#c81e2a" fill-rule="evenodd"/>
<text x="203.2" y="695.4" font-size="9.5" fill="#111" stroke="#111" stroke-width="0.12" text-anchor="middle" font-weight="normal" font-style="normal" style="stroke-width:0.25px">SGA5</text>
<rect x="173" y="697.8" width="52.0" height="49.8" fill="#fafbfd"/>
<path d="M178.7,707.3 C179.4,706.5 184.4,703.0 185.8,702.5 C187.2,702.0 193.7,701.6 195.3,701.7 C196.9,701.8 203.4,703.4 204.8,704.1 C206.2,704.8 211.5,709.3 212.7,710.4 C213.9,711.5 218.2,715.9 219.0,716.8 C219.8,717.7 222.7,720.5 222.9,721.5 C223.1,722.5 221.9,728.2 221.3,729.4 C220.7,730.6 217.1,734.8 215.8,735.7 C214.6,736.6 208.0,739.2 206.3,739.7 C204.6,740.2 197.0,741.1 195.3,741.2 C193.6,741.3 187.2,740.8 185.8,740.5 C184.4,740.2 178.8,738.2 177.9,737.3 C177.0,736.4 175.7,731.0 175.5,729.4 C175.3,727.8 175.4,719.8 175.5,718.3 C175.6,716.8 176.8,712.9 177.1,712.0 C177.4,711.1 178.0,708.1 178.7,707.3Z" fill="#7a70c4" fill-rule="evenodd"/>
<path d="M178.7,707.3 C179.4,706.5 184.4,703.0 185.8,702.5 C187.2,702.0 193.7,701.6 195.3,701.7 C196.9,701.8 203.4,703.4 204.8,704.1 C206.2,704.8 211.5,709.3 212.7,710.4 C213.9,711.5 218.2,715.9 219.0,716.8 C219.8,717.7 222.7,720.5 222.9,721.5 C223.1,722.5 221.9,728.2 221.3,729.4 C220.7,730.6 217.1,734.8 215.8,735.7 C214.6,736.6 208.0,739.2 206.3,739.7 C204.6,740.2 197.0,741.1 195.3,741.2 C193.6,741.3 187.2,740.8 185.8,740.5 C184.4,740.2 178.8,738.2 177.9,737.3 C177.0,736.4 175.7,731.0 175.5,729.4 C175.3,727.8 175.4,719.8 175.5,718.3 C175.6,716.8 176.8,712.9 177.1,712.0 C177.4,711.1 178.0,708.1 178.7,707.3Z" fill="url(#hep)" fill-rule="evenodd"/>
<circle cx="186.1" cy="708.0" r="0.5" fill="#9a9ad8"/><circle cx="190.4" cy="737.2" r="0.5" fill="#b0b0e6"/><circle cx="189.9" cy="725.5" r="0.5" fill="#b0b0e6"/><circle cx="207.6" cy="728.4" r="0.5" fill="#9a9ad8"/><circle cx="195.1" cy="717.4" r="0.5" fill="#b0b0e6"/><circle cx="179.6" cy="708.4" r="0.5" fill="#b0b0e6"/><circle cx="189.3" cy="723.9" r="0.5" fill="#9a9ad8"/><circle cx="191.4" cy="736.1" r="0.5" fill="#b0b0e6"/><circle cx="194.6" cy="704.3" r="0.5" fill="#9a9ad8"/>
<line x1="213.4" y1="743.6" x2="220.6" y2="743.6" stroke="#444" stroke-width="1"/>
<clipPath id="cl_SGA5"><path d="M181.1,761.0 C182.0,759.9 187.7,757.4 189.0,757.0 C190.3,756.6 195.5,756.1 196.9,756.3 C198.3,756.5 204.9,758.6 206.3,759.4 C207.7,760.2 213.0,764.7 214.2,765.7 C215.4,766.8 219.9,770.9 220.6,772.0 C221.3,773.1 222.9,777.3 222.9,778.4 C222.9,779.5 221.2,783.7 220.6,784.7 C220.0,785.8 217.0,790.2 215.8,791.0 C214.6,791.8 208.0,793.8 206.3,794.2 C204.6,794.6 197.0,795.6 195.3,795.7 C193.6,795.8 187.1,795.4 185.8,795.0 C184.5,794.6 180.2,792.0 179.5,791.0 C178.8,790.0 178.0,784.8 177.9,783.1 C177.8,781.4 178.4,772.3 178.7,770.5 C179.0,768.7 180.2,762.1 181.1,761.0Z"/></clipPath>
<path d="M181.1,761.0 C182.0,759.9 187.7,757.4 189.0,757.0 C190.3,756.6 195.5,756.1 196.9,756.3 C198.3,756.5 204.9,758.6 206.3,759.4 C207.7,760.2 213.0,764.7 214.2,765.7 C215.4,766.8 219.9,770.9 220.6,772.0 C221.3,773.1 222.9,777.3 222.9,778.4 C222.9,779.5 221.2,783.7 220.6,784.7 C220.0,785.8 217.0,790.2 215.8,791.0 C214.6,791.8 208.0,793.8 206.3,794.2 C204.6,794.6 197.0,795.6 195.3,795.7 C193.6,795.8 187.1,795.4 185.8,795.0 C184.5,794.6 180.2,792.0 179.5,791.0 C178.8,790.0 178.0,784.8 177.9,783.1 C177.8,781.4 178.4,772.3 178.7,770.5 C179.0,768.7 180.2,762.1 181.1,761.0Z" fill="#d02a2e" fill-rule="evenodd"/>
<text x="275.0" y="695.4" font-size="9.5" fill="#111" stroke="#111" stroke-width="0.12" text-anchor="middle" font-weight="normal" font-style="normal" style="stroke-width:0.25px">SGA1</text>
<rect x="247.9" y="697.8" width="48.2" height="49.8" fill="#eef2f7"/>
<path d="M260.5,702.5 C261.0,701.9 264.6,700.2 265.3,700.2 C266.0,700.2 268.7,701.8 269.2,702.5 C269.7,703.2 271.5,707.9 271.6,708.9 C271.7,709.9 270.5,713.9 270.0,714.4 C269.5,714.9 266.8,715.4 266.1,715.2 C265.4,715.0 262.6,712.7 262.1,712.0 C261.6,711.3 259.8,708.1 259.7,707.3 C259.6,706.5 260.0,703.1 260.5,702.5Z" fill="#7a6cbc" fill-rule="evenodd"/>
<path d="M260.5,702.5 C261.0,701.9 264.6,700.2 265.3,700.2 C266.0,700.2 268.7,701.8 269.2,702.5 C269.7,703.2 271.5,707.9 271.6,708.9 C271.7,709.9 270.5,713.9 270.0,714.4 C269.5,714.9 266.8,715.4 266.1,715.2 C265.4,715.0 262.6,712.7 262.1,712.0 C261.6,711.3 259.8,708.1 259.7,707.3 C259.6,706.5 260.0,703.1 260.5,702.5Z" fill="url(#hep)" fill-rule="evenodd"/>
<path d="M285.0,720.7 C285.2,720.2 287.7,719.7 288.2,719.9 C288.7,720.1 291.0,722.4 291.3,723.1 C291.6,723.8 292.2,727.3 292.1,727.8 C292.0,728.3 290.3,728.8 289.8,728.6 C289.3,728.4 286.2,726.1 285.8,725.4 C285.4,724.7 284.8,721.2 285.0,720.7Z" fill="#7a6cbc" fill-rule="evenodd"/>
<path d="M285.0,720.7 C285.2,720.2 287.7,719.7 288.2,719.9 C288.7,720.1 291.0,722.4 291.3,723.1 C291.6,723.8 292.2,727.3 292.1,727.8 C292.0,728.3 290.3,728.8 289.8,728.6 C289.3,728.4 286.2,726.1 285.8,725.4 C285.4,724.7 284.8,721.2 285.0,720.7Z" fill="url(#hep)" fill-rule="evenodd"/>
<path d="M256.6,729.4 C256.9,729.0 261.2,728.0 262.1,727.8 C263.0,727.6 266.7,727.1 267.6,727.0 C268.5,726.9 272.5,726.7 273.2,727.0 C273.9,727.3 276.1,729.5 276.3,730.2 C276.5,730.9 275.9,735.0 275.5,735.7 C275.1,736.4 272.3,738.7 271.6,738.9 C270.9,739.1 267.5,738.5 266.9,738.1 C266.3,737.7 265.2,734.6 264.5,734.1 C263.8,733.6 259.7,733.0 259.0,732.6 C258.3,732.2 256.3,729.8 256.6,729.4Z" fill="#7a6cbc" fill-rule="evenodd"/>
<path d="M256.6,729.4 C256.9,729.0 261.2,728.0 262.1,727.8 C263.0,727.6 266.7,727.1 267.6,727.0 C268.5,726.9 272.5,726.7 273.2,727.0 C273.9,727.3 276.1,729.5 276.3,730.2 C276.5,730.9 275.9,735.0 275.5,735.7 C275.1,736.4 272.3,738.7 271.6,738.9 C270.9,739.1 267.5,738.5 266.9,738.1 C266.3,737.7 265.2,734.6 264.5,734.1 C263.8,733.6 259.7,733.0 259.0,732.6 C258.3,732.2 256.3,729.8 256.6,729.4Z" fill="url(#hep)" fill-rule="evenodd"/>
<path d="M277.9,743.6 C277.7,743.3 280.0,741.0 280.3,740.5 C280.6,740.0 281.5,737.4 281.9,737.3 C282.3,737.2 284.7,739.2 285.0,739.7 C285.3,740.2 286.0,742.4 285.8,742.8 C285.6,743.2 283.4,744.3 282.7,744.4 C282.0,744.5 278.1,743.9 277.9,743.6Z" fill="#7a6cbc" fill-rule="evenodd"/>
<path d="M277.9,743.6 C277.7,743.3 280.0,741.0 280.3,740.5 C280.6,740.0 281.5,737.4 281.9,737.3 C282.3,737.2 284.7,739.2 285.0,739.7 C285.3,740.2 286.0,742.4 285.8,742.8 C285.6,743.2 283.4,744.3 282.7,744.4 C282.0,744.5 278.1,743.9 277.9,743.6Z" fill="url(#hep)" fill-rule="evenodd"/>
<circle cx="264.7" cy="713.9" r="0.5" fill="#9a9ad8"/><circle cx="264.3" cy="707.2" r="0.5" fill="#b0b0e6"/><circle cx="267.6" cy="705.3" r="0.5" fill="#9a9ad8"/><circle cx="262.6" cy="702.1" r="0.5" fill="#9a9ad8"/>
<circle cx="285.9" cy="723.8" r="0.5" fill="#9a9ad8"/><circle cx="286.1" cy="723.0" r="0.5" fill="#b0b0e6"/><circle cx="288.6" cy="721.9" r="0.5" fill="#b0b0e6"/>
<circle cx="269.9" cy="738.2" r="0.5" fill="#b0b0e6"/><circle cx="268.3" cy="732.2" r="0.5" fill="#b0b0e6"/><circle cx="267.1" cy="731.8" r="0.5" fill="#9a9ad8"/><circle cx="270.0" cy="728.1" r="0.5" fill="#b0b0e6"/><circle cx="271.1" cy="736.1" r="0.5" fill="#9a9ad8"/><circle cx="269.6" cy="733.8" r="0.5" fill="#b0b0e6"/>
<circle cx="283.4" cy="742.8" r="0.5" fill="#9a9ad8"/><circle cx="280.4" cy="742.0" r="0.5" fill="#9a9ad8"/><circle cx="284.3" cy="742.7" r="0.5" fill="#9a9ad8"/>
<line x1="285.8" y1="743.6" x2="293.7" y2="743.6" stroke="#444" stroke-width="1"/>
<clipPath id="cl_SGA1"><path d="M256.6,756.3 C257.0,755.8 259.7,754.0 260.5,754.0 C261.3,754.0 265.4,755.7 266.1,756.3 C266.8,756.9 268.9,760.2 269.2,761.0 C269.5,761.8 270.2,765.0 270.0,765.7 C269.8,766.4 267.6,768.7 266.9,768.9 C266.2,769.1 262.8,768.4 262.1,768.1 C261.4,767.8 258.7,765.6 258.2,764.9 C257.7,764.2 255.9,760.9 255.8,760.2 C255.7,759.5 256.2,756.8 256.6,756.3Z"/><path d="M285.8,774.4 C285.9,773.7 288.4,771.9 289.0,772.0 C289.6,772.1 292.4,774.5 292.9,775.2 C293.4,775.9 294.6,779.4 294.5,780.0 C294.4,780.6 292.6,782.3 292.1,782.3 C291.6,782.3 288.7,780.7 288.2,780.0 C287.7,779.3 285.7,775.1 285.8,774.4Z"/><path d="M251.8,781.5 C252.5,781.1 259.1,780.2 260.5,780.0 C261.9,779.8 267.3,779.1 268.4,779.2 C269.5,779.3 273.4,780.2 274.0,780.7 C274.6,781.2 275.6,784.0 275.5,784.7 C275.4,785.4 273.8,788.8 273.2,789.4 C272.6,790.0 269.2,791.7 268.4,791.8 C267.6,791.9 264.6,790.7 263.7,790.2 C262.8,789.7 258.3,786.8 257.4,786.3 C256.5,785.8 253.1,785.1 252.6,784.7 C252.1,784.3 251.1,781.9 251.8,781.5Z"/><path d="M277.1,795.7 C277.2,795.2 280.4,791.5 281.1,791.0 C281.8,790.5 285.2,790.0 285.8,790.2 C286.4,790.4 288.3,792.9 288.2,793.4 C288.1,793.9 284.9,796.2 284.2,796.5 C283.5,796.8 280.1,797.4 279.5,797.3 C278.9,797.2 277.0,796.2 277.1,795.7Z"/></clipPath>
<path d="M256.6,756.3 C257.0,755.8 259.7,754.0 260.5,754.0 C261.3,754.0 265.4,755.7 266.1,756.3 C266.8,756.9 268.9,760.2 269.2,761.0 C269.5,761.8 270.2,765.0 270.0,765.7 C269.8,766.4 267.6,768.7 266.9,768.9 C266.2,769.1 262.8,768.4 262.1,768.1 C261.4,767.8 258.7,765.6 258.2,764.9 C257.7,764.2 255.9,760.9 255.8,760.2 C255.7,759.5 256.2,756.8 256.6,756.3Z" fill="#c8203a" fill-rule="evenodd"/>
<path d="M285.8,774.4 C285.9,773.7 288.4,771.9 289.0,772.0 C289.6,772.1 292.4,774.5 292.9,775.2 C293.4,775.9 294.6,779.4 294.5,780.0 C294.4,780.6 292.6,782.3 292.1,782.3 C291.6,782.3 288.7,780.7 288.2,780.0 C287.7,779.3 285.7,775.1 285.8,774.4Z" fill="#c8203a" fill-rule="evenodd"/>
<path d="M251.8,781.5 C252.5,781.1 259.1,780.2 260.5,780.0 C261.9,779.8 267.3,779.1 268.4,779.2 C269.5,779.3 273.4,780.2 274.0,780.7 C274.6,781.2 275.6,784.0 275.5,784.7 C275.4,785.4 273.8,788.8 273.2,789.4 C272.6,790.0 269.2,791.7 268.4,791.8 C267.6,791.9 264.6,790.7 263.7,790.2 C262.8,789.7 258.3,786.8 257.4,786.3 C256.5,785.8 253.1,785.1 252.6,784.7 C252.1,784.3 251.1,781.9 251.8,781.5Z" fill="#c8203a" fill-rule="evenodd"/>
<path d="M277.1,795.7 C277.2,795.2 280.4,791.5 281.1,791.0 C281.8,790.5 285.2,790.0 285.8,790.2 C286.4,790.4 288.3,792.9 288.2,793.4 C288.1,793.9 284.9,796.2 284.2,796.5 C283.5,796.8 280.1,797.4 279.5,797.3 C278.9,797.2 277.0,796.2 277.1,795.7Z" fill="#8a3a8a" fill-rule="evenodd"/>
<text x="346.8" y="695.4" font-size="9.5" fill="#111" stroke="#111" stroke-width="0.12" text-anchor="middle" font-weight="normal" font-style="normal" style="stroke-width:0.25px">FSH1</text>
<rect x="320" y="697.8" width="50.0" height="49.8" fill="#fafbfd"/>
<path d="M320.1,698.2 C321.5,697.6 335.1,698.1 336.4,698.2 C337.7,698.3 336.3,699.3 336.0,699.8 C335.7,700.3 332.8,703.0 332.4,703.7 C332.0,704.4 331.3,707.8 330.8,708.5 C330.3,709.2 326.9,711.5 326.1,711.6 C325.3,711.7 321.8,710.5 321.3,710.0 C320.8,709.5 320.2,706.3 320.1,705.3 C320.0,704.3 318.7,698.8 320.1,698.2Z" fill="#7468bc" fill-rule="evenodd"/>
<path d="M320.1,698.2 C321.5,697.6 335.1,698.1 336.4,698.2 C337.7,698.3 336.3,699.3 336.0,699.8 C335.7,700.3 332.8,703.0 332.4,703.7 C332.0,704.4 331.3,707.8 330.8,708.5 C330.3,709.2 326.9,711.5 326.1,711.6 C325.3,711.7 321.8,710.5 321.3,710.0 C320.8,709.5 320.2,706.3 320.1,705.3 C320.0,704.3 318.7,698.8 320.1,698.2Z" fill="url(#hep)" fill-rule="evenodd"/>
<path d="M320.5,728.3 C320.9,727.7 324.4,726.4 325.3,725.9 C326.2,725.4 330.1,723.3 330.8,722.7 C331.5,722.1 333.5,719.5 334.0,718.8 C334.5,718.1 336.8,715.5 337.2,714.8 C337.6,714.1 338.6,711.5 338.8,710.8 C339.0,710.1 339.2,707.5 339.5,706.9 C339.8,706.3 342.0,703.9 342.7,703.7 C343.4,703.5 347.4,704.2 348.3,704.5 C349.2,704.8 352.1,706.4 353.0,706.9 C353.9,707.4 357.6,709.5 358.5,710.0 C359.4,710.5 363.4,711.9 364.1,712.4 C364.8,712.9 367.0,715.7 367.3,716.4 C367.6,717.1 367.6,719.8 367.3,720.3 C367.0,720.8 364.0,722.3 363.3,722.7 C362.6,723.1 359.9,724.8 359.3,725.1 C358.7,725.4 356.7,726.3 356.2,726.7 C355.7,727.1 354.1,729.1 353.8,729.8 C353.5,730.5 352.5,733.8 352.2,734.6 C351.9,735.4 351.1,738.5 350.6,739.3 C350.1,740.1 347.5,743.6 346.7,744.1 C345.9,744.6 342.1,745.6 341.1,745.7 C340.1,745.8 335.9,745.1 334.8,744.9 C333.8,744.7 329.4,743.5 328.5,743.3 C327.6,743.1 324.3,742.8 323.7,742.5 C323.1,742.2 321.2,740.1 320.9,739.3 C320.6,738.5 320.1,733.9 320.1,733.0 C320.1,732.1 320.1,728.9 320.5,728.3Z" fill="#7468bc" fill-rule="evenodd"/>
<path d="M320.5,728.3 C320.9,727.7 324.4,726.4 325.3,725.9 C326.2,725.4 330.1,723.3 330.8,722.7 C331.5,722.1 333.5,719.5 334.0,718.8 C334.5,718.1 336.8,715.5 337.2,714.8 C337.6,714.1 338.6,711.5 338.8,710.8 C339.0,710.1 339.2,707.5 339.5,706.9 C339.8,706.3 342.0,703.9 342.7,703.7 C343.4,703.5 347.4,704.2 348.3,704.5 C349.2,704.8 352.1,706.4 353.0,706.9 C353.9,707.4 357.6,709.5 358.5,710.0 C359.4,710.5 363.4,711.9 364.1,712.4 C364.8,712.9 367.0,715.7 367.3,716.4 C367.6,717.1 367.6,719.8 367.3,720.3 C367.0,720.8 364.0,722.3 363.3,722.7 C362.6,723.1 359.9,724.8 359.3,725.1 C358.7,725.4 356.7,726.3 356.2,726.7 C355.7,727.1 354.1,729.1 353.8,729.8 C353.5,730.5 352.5,733.8 352.2,734.6 C351.9,735.4 351.1,738.5 350.6,739.3 C350.1,740.1 347.5,743.6 346.7,744.1 C345.9,744.6 342.1,745.6 341.1,745.7 C340.1,745.8 335.9,745.1 334.8,744.9 C333.8,744.7 329.4,743.5 328.5,743.3 C327.6,743.1 324.3,742.8 323.7,742.5 C323.1,742.2 321.2,740.1 320.9,739.3 C320.6,738.5 320.1,733.9 320.1,733.0 C320.1,732.1 320.1,728.9 320.5,728.3Z" fill="url(#hep)" fill-rule="evenodd"/>
<circle cx="321.2" cy="702.4" r="0.5" fill="#9a9ad8"/><circle cx="324.8" cy="709.1" r="0.5" fill="#b0b0e6"/><circle cx="324.7" cy="703.6" r="0.5" fill="#b0b0e6"/><circle cx="334.1" cy="700.0" r="0.5" fill="#b0b0e6"/>
<circle cx="353.3" cy="723.1" r="0.5" fill="#b0b0e6"/><circle cx="336.7" cy="730.1" r="0.5" fill="#9a9ad8"/><circle cx="348.8" cy="712.9" r="0.5" fill="#9a9ad8"/><circle cx="339.2" cy="729.3" r="0.5" fill="#b0b0e6"/><circle cx="334.8" cy="730.5" r="0.5" fill="#9a9ad8"/><circle cx="346.7" cy="713.3" r="0.5" fill="#b0b0e6"/><circle cx="353.9" cy="714.4" r="0.5" fill="#b0b0e6"/><circle cx="351.7" cy="727.9" r="0.5" fill="#9a9ad8"/><circle cx="325.4" cy="735.8" r="0.5" fill="#b0b0e6"/><circle cx="347.7" cy="732.9" r="0.5" fill="#9a9ad8"/><circle cx="335.1" cy="736.3" r="0.5" fill="#b0b0e6"/><circle cx="352.9" cy="720.2" r="0.5" fill="#9a9ad8"/><circle cx="364.8" cy="721.5" r="0.5" fill="#b0b0e6"/><circle cx="341.5" cy="706.0" r="0.5" fill="#9a9ad8"/><circle cx="340.3" cy="725.2" r="0.5" fill="#9a9ad8"/><circle cx="343.2" cy="711.7" r="0.5" fill="#b0b0e6"/>
<line x1="360.2" y1="743.6" x2="367.7" y2="743.6" stroke="#444" stroke-width="1"/>
<clipPath id="cl_FSH1"><path d="M322.6,754.7 C323.3,754.1 329.2,753.8 330.5,753.9 C331.8,754.0 337.2,755.0 337.6,755.5 C338.0,756.0 335.6,758.7 335.3,759.4 C335.0,760.1 334.2,763.5 333.7,764.1 C333.2,764.7 329.8,766.4 329.0,766.5 C328.2,766.6 324.7,766.2 324.2,765.7 C323.7,765.2 322.7,761.9 322.6,761.0 C322.5,760.1 321.9,755.3 322.6,754.7Z"/><path d="M322.6,783.1 C323.1,782.1 327.9,779.1 329.0,778.4 C330.1,777.7 334.5,775.9 335.3,775.2 C336.1,774.5 338.0,771.4 338.4,770.5 C338.8,769.6 339.6,764.9 340.0,764.1 C340.4,763.3 342.3,761.3 343.2,761.0 C344.1,760.7 349.8,759.9 351.1,760.2 C352.4,760.5 357.9,763.2 359.0,764.1 C360.1,765.0 364.0,769.6 364.5,770.5 C365.0,771.4 365.6,774.4 365.3,775.2 C365.0,776.0 362.1,779.2 361.3,780.0 C360.5,780.8 356.5,783.8 355.8,784.7 C355.1,785.6 353.4,790.0 352.7,791.0 C352.0,792.0 348.8,796.6 347.9,797.3 C347.0,798.0 342.9,798.8 341.6,798.9 C340.3,799.0 333.4,798.4 332.1,798.1 C330.8,797.8 326.6,796.3 325.8,795.7 C325.0,795.1 322.9,792.0 322.6,791.0 C322.3,790.0 322.1,784.1 322.6,783.1Z"/></clipPath>
<path d="M322.6,754.7 C323.3,754.1 329.2,753.8 330.5,753.9 C331.8,754.0 337.2,755.0 337.6,755.5 C338.0,756.0 335.6,758.7 335.3,759.4 C335.0,760.1 334.2,763.5 333.7,764.1 C333.2,764.7 329.8,766.4 329.0,766.5 C328.2,766.6 324.7,766.2 324.2,765.7 C323.7,765.2 322.7,761.9 322.6,761.0 C322.5,760.1 321.9,755.3 322.6,754.7Z" fill="#d0222a" fill-rule="evenodd"/>
<path d="M322.6,783.1 C323.1,782.1 327.9,779.1 329.0,778.4 C330.1,777.7 334.5,775.9 335.3,775.2 C336.1,774.5 338.0,771.4 338.4,770.5 C338.8,769.6 339.6,764.9 340.0,764.1 C340.4,763.3 342.3,761.3 343.2,761.0 C344.1,760.7 349.8,759.9 351.1,760.2 C352.4,760.5 357.9,763.2 359.0,764.1 C360.1,765.0 364.0,769.6 364.5,770.5 C365.0,771.4 365.6,774.4 365.3,775.2 C365.0,776.0 362.1,779.2 361.3,780.0 C360.5,780.8 356.5,783.8 355.8,784.7 C355.1,785.6 353.4,790.0 352.7,791.0 C352.0,792.0 348.8,796.6 347.9,797.3 C347.0,798.0 342.9,798.8 341.6,798.9 C340.3,799.0 333.4,798.4 332.1,798.1 C330.8,797.8 326.6,796.3 325.8,795.7 C325.0,795.1 322.9,792.0 322.6,791.0 C322.3,790.0 322.1,784.1 322.6,783.1Z" fill="#d0222a" fill-rule="evenodd"/>
<g clip-path="url(#cl_FSH1)">
<path d="M341.0,763.0 C341.3,762.5 345.2,761.1 346.0,761.0 C346.8,760.9 349.9,761.6 350.0,762.0 C350.1,762.4 347.7,765.6 347.0,766.0 C346.3,766.4 342.5,767.2 342.0,767.0 C341.5,766.8 340.7,763.5 341.0,763.0Z" fill="#8a3a8a" fill-rule="evenodd"/>
</g>
<path d="M322.8,607.2 C325,605.6 327,608.6 329,607.6 C331,606.8 332,609.5 332.6,610.5 C333.2,611.5 334,612 334.4,613" stroke="#4a4a6a" stroke-width="1.1" fill="none"/>
<path d="M324.5,663.8 C326.5,662.6 328.5,665.6 330.5,664.8 C332.5,664 333.5,667 334.2,668.4 C334.8,669.6 335.5,670.3 336,671.2" stroke="#222" stroke-width="1.3" fill="none"/>
<path d="M201.5,444.5 l2,1.5 M203.5,444.5 l-2,1.5 M204.5,444 l1.5,1.5" stroke="#333" stroke-width="0.8" fill="none"/>
<circle cx="400" cy="711.25" r="2.3" fill="#d4e04e"/>
<text x="408.2" y="714.1" font-size="8.5" fill="#222" stroke="#222" stroke-width="0.12" text-anchor="start" font-weight="normal" font-style="normal" >Niche 1</text>
<circle cx="400" cy="722.75" r="2.3" fill="#c23a52"/>
<text x="408.2" y="725.6" font-size="8.5" fill="#222" stroke="#222" stroke-width="0.12" text-anchor="start" font-weight="normal" font-style="normal" >Niche 2</text>
<circle cx="400" cy="734.25" r="2.3" fill="#2c2c3a"/>
<text x="408.2" y="737.1" font-size="8.5" fill="#222" stroke="#222" stroke-width="0.12" text-anchor="start" font-weight="normal" font-style="normal" >Niche 3</text>
<circle cx="400" cy="745.75" r="2.3" fill="#3f7d5f"/>
<text x="408.2" y="748.6" font-size="8.5" fill="#222" stroke="#222" stroke-width="0.12" text-anchor="start" font-weight="normal" font-style="normal" >Niche 4</text>
<circle cx="400" cy="757.25" r="2.3" fill="#dc8c5a"/>
<text x="408.2" y="760.1" font-size="8.5" fill="#222" stroke="#222" stroke-width="0.12" text-anchor="start" font-weight="normal" font-style="normal" >Niche 5</text>
<circle cx="400" cy="768.75" r="2.3" fill="#4f4a7c"/>
<text x="408.2" y="771.6" font-size="8.5" fill="#222" stroke="#222" stroke-width="0.12" text-anchor="start" font-weight="normal" font-style="normal" >Niche 6</text>
<circle cx="400" cy="780.25" r="2.3" fill="#dcdcdc"/>
<text x="408.2" y="783.1" font-size="8.5" fill="#222" stroke="#222" stroke-width="0.12" text-anchor="start" font-weight="normal" font-style="normal" >Other</text>
<text y="787.5" fill="#a9a9a9" style="font-family:'Liberation Sans','Noto Sans CJK SC',sans-serif"><tspan x="522.4" font-size="21">知乎</tspan><tspan x="574.8" font-size="20.5" style="font-family:'Liberation Sans',Arial,sans-serif">@Evil Genius</tspan></text>
<text y="788.9" fill="#f4f4f4" style="font-family:'Liberation Sans','Noto Sans CJK SC',sans-serif"><tspan x="523.8" font-size="21">知乎</tspan><tspan x="576.2" font-size="20.5" style="font-family:'Liberation Sans',Arial,sans-serif">@Evil Genius</tspan></text>
<text y="788.3" fill="#dcdcdc" style="font-family:'Liberation Sans','Noto Sans CJK SC',sans-serif"><tspan x="523.2" font-size="21">知乎</tspan><tspan x="575.6" font-size="20.5" style="font-family:'Liberation Sans',Arial,sans-serif">@Evil Genius</tspan></text>
</svg>
</div>
</body></html>
